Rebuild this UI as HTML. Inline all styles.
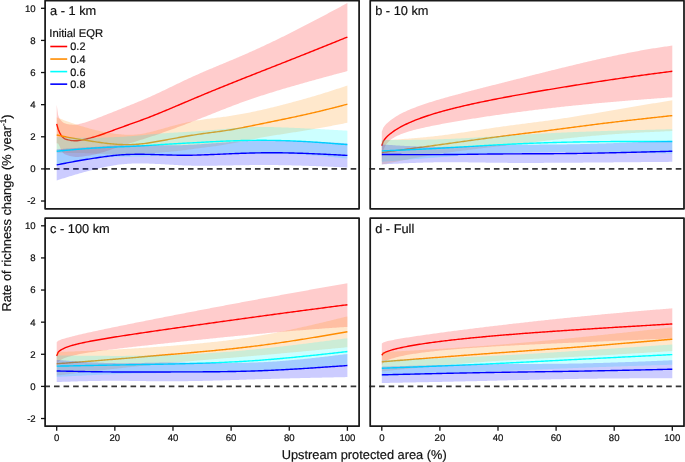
<!DOCTYPE html><html><head><meta charset="utf-8"><style>html,body{margin:0;padding:0;background:#fff;}svg{display:block;}</style></head><body>
<svg width="685" height="462" viewBox="0 0 685 462" style="will-change:transform" text-rendering="geometricPrecision" font-family='"Liberation Sans", sans-serif'><style>text{stroke:#111;stroke-width:0.2;}</style>
<rect width="685" height="462" fill="#fff"/>
<line x1="44.40" y1="168.90" x2="359.10" y2="168.90" stroke="#363636" stroke-width="1.75" stroke-dasharray="5.6 3.97"/>
<path d="M56.70,104.66 L58.15,115.08 L59.61,118.76 L61.06,120.50 L62.51,121.99 L63.97,122.97 L65.42,123.55 L66.87,123.90 L68.33,124.19 L69.78,124.43 L71.23,124.62 L72.69,124.73 L74.14,124.75 L75.60,124.67 L77.05,124.48 L78.50,124.21 L79.96,123.87 L81.41,123.49 L82.86,123.07 L84.32,122.63 L85.77,122.18 L87.22,121.71 L88.68,121.23 L90.13,120.74 L91.58,120.23 L93.04,119.71 L94.49,119.17 L95.94,118.63 L97.40,118.08 L98.85,117.52 L100.31,116.96 L101.76,116.40 L103.21,115.83 L104.67,115.26 L106.12,114.69 L107.57,114.11 L109.03,113.53 L110.48,112.96 L111.93,112.38 L113.39,111.80 L114.84,111.22 L116.29,110.64 L117.75,110.06 L119.20,109.49 L120.65,108.91 L122.11,108.33 L123.56,107.76 L125.01,107.18 L126.47,106.60 L127.92,106.01 L129.38,105.43 L130.83,104.84 L132.28,104.26 L133.74,103.66 L135.19,103.07 L136.64,102.47 L138.10,101.87 L139.55,101.26 L141.00,100.65 L142.46,100.04 L143.91,99.42 L145.36,98.79 L146.82,98.16 L148.27,97.52 L149.72,96.88 L151.18,96.22 L152.63,95.57 L154.08,94.90 L155.54,94.23 L156.99,93.56 L158.44,92.88 L159.90,92.20 L161.35,91.51 L162.81,90.82 L164.26,90.13 L165.71,89.43 L167.17,88.73 L168.62,88.03 L170.07,87.33 L171.53,86.63 L172.98,85.93 L174.43,85.23 L175.89,84.53 L177.34,83.83 L178.79,83.13 L180.25,82.44 L181.70,81.75 L183.15,81.06 L184.61,80.37 L186.06,79.68 L187.51,79.00 L188.97,78.33 L190.42,77.66 L191.88,76.99 L193.33,76.33 L194.78,75.68 L196.24,75.03 L197.69,74.38 L199.14,73.74 L200.60,73.10 L202.05,72.47 L203.50,71.84 L204.96,71.21 L206.41,70.59 L207.86,69.97 L209.32,69.36 L210.77,68.74 L212.22,68.13 L213.68,67.52 L215.13,66.91 L216.58,66.30 L218.04,65.70 L219.49,65.09 L220.95,64.49 L222.40,63.88 L223.85,63.28 L225.31,62.67 L226.76,62.07 L228.21,61.46 L229.67,60.85 L231.12,60.24 L232.57,59.63 L234.03,59.02 L235.48,58.41 L236.93,57.79 L238.39,57.17 L239.84,56.55 L241.29,55.92 L242.75,55.29 L244.20,54.66 L245.66,54.02 L247.11,53.38 L248.56,52.74 L250.02,52.09 L251.47,51.44 L252.92,50.79 L254.38,50.14 L255.83,49.48 L257.28,48.82 L258.74,48.15 L260.19,47.48 L261.64,46.81 L263.10,46.14 L264.55,45.46 L266.00,44.78 L267.46,44.10 L268.91,43.41 L270.36,42.72 L271.82,42.03 L273.27,41.34 L274.73,40.64 L276.18,39.94 L277.63,39.23 L279.09,38.53 L280.54,37.82 L281.99,37.11 L283.45,36.39 L284.90,35.68 L286.35,34.96 L287.81,34.23 L289.26,33.51 L290.71,32.78 L292.17,32.05 L293.62,31.31 L295.07,30.58 L296.53,29.84 L297.98,29.10 L299.43,28.36 L300.89,27.61 L302.34,26.86 L303.80,26.11 L305.25,25.36 L306.70,24.61 L308.16,23.85 L309.61,23.10 L311.06,22.34 L312.52,21.58 L313.97,20.82 L315.42,20.05 L316.88,19.29 L318.33,18.52 L319.78,17.75 L321.24,16.98 L322.69,16.21 L324.14,15.44 L325.60,14.67 L327.05,13.90 L328.50,13.12 L329.96,12.35 L331.41,11.57 L332.87,10.79 L334.32,10.02 L335.77,9.24 L337.23,8.46 L338.68,7.68 L340.13,6.90 L341.59,6.12 L343.04,5.34 L344.49,4.56 L345.95,3.78 L347.40,3.00 L347.40,71.09 L345.95,71.49 L344.49,71.88 L343.04,72.27 L341.59,72.66 L340.13,73.05 L338.68,73.44 L337.23,73.83 L335.77,74.22 L334.32,74.61 L332.87,75.01 L331.41,75.40 L329.96,75.79 L328.50,76.19 L327.05,76.58 L325.60,76.98 L324.14,77.37 L322.69,77.77 L321.24,78.17 L319.78,78.56 L318.33,78.96 L316.88,79.36 L315.42,79.76 L313.97,80.16 L312.52,80.56 L311.06,80.97 L309.61,81.37 L308.16,81.78 L306.70,82.18 L305.25,82.59 L303.80,83.00 L302.34,83.41 L300.89,83.82 L299.43,84.23 L297.98,84.65 L296.53,85.06 L295.07,85.48 L293.62,85.90 L292.17,86.32 L290.71,86.74 L289.26,87.16 L287.81,87.59 L286.35,88.01 L284.90,88.44 L283.45,88.87 L281.99,89.30 L280.54,89.74 L279.09,90.18 L277.63,90.61 L276.18,91.06 L274.73,91.50 L273.27,91.95 L271.82,92.39 L270.36,92.85 L268.91,93.30 L267.46,93.76 L266.00,94.22 L264.55,94.68 L263.10,95.15 L261.64,95.62 L260.19,96.09 L258.74,96.57 L257.28,97.05 L255.83,97.53 L254.38,98.02 L252.92,98.51 L251.47,99.01 L250.02,99.51 L248.56,100.01 L247.11,100.52 L245.66,101.03 L244.20,101.54 L242.75,102.07 L241.29,102.59 L239.84,103.12 L238.39,103.65 L236.93,104.19 L235.48,104.74 L234.03,105.28 L232.57,105.83 L231.12,106.39 L229.67,106.95 L228.21,107.51 L226.76,108.07 L225.31,108.64 L223.85,109.21 L222.40,109.78 L220.95,110.35 L219.49,110.93 L218.04,111.50 L216.58,112.08 L215.13,112.66 L213.68,113.24 L212.22,113.82 L210.77,114.40 L209.32,114.98 L207.86,115.56 L206.41,116.14 L204.96,116.72 L203.50,117.30 L202.05,117.87 L200.60,118.45 L199.14,119.02 L197.69,119.60 L196.24,120.17 L194.78,120.73 L193.33,121.30 L191.88,121.86 L190.42,122.42 L188.97,122.98 L187.51,123.54 L186.06,124.09 L184.61,124.64 L183.15,125.19 L181.70,125.73 L180.25,126.28 L178.79,126.82 L177.34,127.36 L175.89,127.89 L174.43,128.43 L172.98,128.96 L171.53,129.49 L170.07,130.02 L168.62,130.54 L167.17,131.06 L165.71,131.58 L164.26,132.10 L162.81,132.61 L161.35,133.13 L159.90,133.63 L158.44,134.14 L156.99,134.64 L155.54,135.14 L154.08,135.63 L152.63,136.12 L151.18,136.60 L149.72,137.08 L148.27,137.56 L146.82,138.03 L145.36,138.49 L143.91,138.96 L142.46,139.41 L141.00,139.87 L139.55,140.33 L138.10,140.78 L136.64,141.23 L135.19,141.69 L133.74,142.14 L132.28,142.59 L130.83,143.04 L129.38,143.50 L127.92,143.95 L126.47,144.41 L125.01,144.87 L123.56,145.33 L122.11,145.80 L120.65,146.27 L119.20,146.75 L117.75,147.23 L116.29,147.71 L114.84,148.21 L113.39,148.70 L111.93,149.21 L110.48,149.71 L109.03,150.22 L107.57,150.72 L106.12,151.21 L104.67,151.69 L103.21,152.15 L101.76,152.60 L100.31,153.03 L98.85,153.43 L97.40,153.81 L95.94,154.17 L94.49,154.50 L93.04,154.82 L91.58,155.11 L90.13,155.38 L88.68,155.63 L87.22,155.86 L85.77,156.08 L84.32,156.28 L82.86,156.47 L81.41,156.65 L79.96,156.80 L78.50,156.91 L77.05,156.95 L75.60,156.92 L74.14,156.79 L72.69,156.56 L71.23,156.26 L69.78,155.89 L68.33,155.49 L66.87,155.06 L65.42,154.56 L63.97,153.70 L62.51,152.15 L61.06,149.66 L59.61,146.34 L58.15,143.39 L56.70,143.20 Z" fill="rgb(255,0,0)" fill-opacity="0.2" stroke="none"/>
<path d="M56.70,123.93 L58.15,129.23 L59.61,132.55 L61.06,135.08 L62.51,137.07 L63.97,138.34 L65.42,139.05 L66.87,139.48 L68.33,139.84 L69.78,140.16 L71.23,140.44 L72.69,140.65 L74.14,140.77 L75.60,140.79 L77.05,140.72 L78.50,140.56 L79.96,140.34 L81.41,140.07 L82.86,139.77 L84.32,139.46 L85.77,139.13 L87.22,138.79 L88.68,138.43 L90.13,138.06 L91.58,137.67 L93.04,137.26 L94.49,136.84 L95.94,136.40 L97.40,135.95 L98.85,135.48 L100.31,134.99 L101.76,134.50 L103.21,133.99 L104.67,133.47 L106.12,132.95 L107.57,132.41 L109.03,131.88 L110.48,131.33 L111.93,130.79 L113.39,130.25 L114.84,129.71 L116.29,129.18 L117.75,128.65 L119.20,128.12 L120.65,127.59 L122.11,127.07 L123.56,126.54 L125.01,126.02 L126.47,125.50 L127.92,124.98 L129.38,124.46 L130.83,123.94 L132.28,123.42 L133.74,122.90 L135.19,122.38 L136.64,121.85 L138.10,121.32 L139.55,120.79 L141.00,120.26 L142.46,119.73 L143.91,119.19 L145.36,118.64 L146.82,118.09 L148.27,117.54 L149.72,116.98 L151.18,116.41 L152.63,115.84 L154.08,115.27 L155.54,114.69 L156.99,114.10 L158.44,113.51 L159.90,112.92 L161.35,112.32 L162.81,111.72 L164.26,111.11 L165.71,110.51 L167.17,109.90 L168.62,109.29 L170.07,108.68 L171.53,108.06 L172.98,107.45 L174.43,106.83 L175.89,106.21 L177.34,105.59 L178.79,104.98 L180.25,104.36 L181.70,103.74 L183.15,103.12 L184.61,102.50 L186.06,101.89 L187.51,101.27 L188.97,100.65 L190.42,100.04 L191.88,99.43 L193.33,98.82 L194.78,98.21 L196.24,97.60 L197.69,96.99 L199.14,96.38 L200.60,95.78 L202.05,95.17 L203.50,94.57 L204.96,93.97 L206.41,93.37 L207.86,92.77 L209.32,92.17 L210.77,91.57 L212.22,90.97 L213.68,90.38 L215.13,89.78 L216.58,89.19 L218.04,88.60 L219.49,88.01 L220.95,87.42 L222.40,86.83 L223.85,86.24 L225.31,85.65 L226.76,85.07 L228.21,84.48 L229.67,83.90 L231.12,83.32 L232.57,82.73 L234.03,82.15 L235.48,81.57 L236.93,80.99 L238.39,80.41 L239.84,79.83 L241.29,79.25 L242.75,78.68 L244.20,78.10 L245.66,77.52 L247.11,76.95 L248.56,76.37 L250.02,75.80 L251.47,75.23 L252.92,74.65 L254.38,74.08 L255.83,73.51 L257.28,72.93 L258.74,72.36 L260.19,71.79 L261.64,71.22 L263.10,70.64 L264.55,70.07 L266.00,69.50 L267.46,68.93 L268.91,68.36 L270.36,67.78 L271.82,67.21 L273.27,66.64 L274.73,66.07 L276.18,65.50 L277.63,64.92 L279.09,64.35 L280.54,63.78 L281.99,63.21 L283.45,62.63 L284.90,62.06 L286.35,61.48 L287.81,60.91 L289.26,60.33 L290.71,59.76 L292.17,59.18 L293.62,58.61 L295.07,58.03 L296.53,57.45 L297.98,56.87 L299.43,56.29 L300.89,55.72 L302.34,55.14 L303.80,54.56 L305.25,53.98 L306.70,53.40 L308.16,52.82 L309.61,52.23 L311.06,51.65 L312.52,51.07 L313.97,50.49 L315.42,49.91 L316.88,49.32 L318.33,48.74 L319.78,48.16 L321.24,47.58 L322.69,46.99 L324.14,46.41 L325.60,45.82 L327.05,45.24 L328.50,44.65 L329.96,44.07 L331.41,43.49 L332.87,42.90 L334.32,42.32 L335.77,41.73 L337.23,41.15 L338.68,40.56 L340.13,39.97 L341.59,39.39 L343.04,38.80 L344.49,38.22 L345.95,37.63 L347.40,37.05" fill="none" stroke="#ff0000" stroke-width="1.4" stroke-linejoin="round"/>
<path d="M56.70,117.35 L58.15,117.92 L59.61,118.49 L61.06,119.05 L62.51,119.62 L63.97,120.18 L65.42,120.73 L66.87,121.27 L68.33,121.81 L69.78,122.34 L71.23,122.86 L72.69,123.37 L74.14,123.86 L75.60,124.35 L77.05,124.82 L78.50,125.29 L79.96,125.74 L81.41,126.19 L82.86,126.62 L84.32,127.05 L85.77,127.47 L87.22,127.87 L88.68,128.27 L90.13,128.66 L91.58,129.05 L93.04,129.42 L94.49,129.78 L95.94,130.13 L97.40,130.48 L98.85,130.81 L100.31,131.13 L101.76,131.44 L103.21,131.74 L104.67,132.03 L106.12,132.30 L107.57,132.57 L109.03,132.82 L110.48,133.06 L111.93,133.29 L113.39,133.50 L114.84,133.70 L116.29,133.89 L117.75,134.07 L119.20,134.22 L120.65,134.36 L122.11,134.49 L123.56,134.59 L125.01,134.67 L126.47,134.73 L127.92,134.77 L129.38,134.78 L130.83,134.77 L132.28,134.73 L133.74,134.66 L135.19,134.57 L136.64,134.45 L138.10,134.30 L139.55,134.13 L141.00,133.92 L142.46,133.69 L143.91,133.43 L145.36,133.15 L146.82,132.85 L148.27,132.52 L149.72,132.18 L151.18,131.83 L152.63,131.45 L154.08,131.07 L155.54,130.68 L156.99,130.28 L158.44,129.87 L159.90,129.46 L161.35,129.05 L162.81,128.63 L164.26,128.21 L165.71,127.80 L167.17,127.39 L168.62,126.98 L170.07,126.57 L171.53,126.17 L172.98,125.78 L174.43,125.39 L175.89,125.01 L177.34,124.64 L178.79,124.28 L180.25,123.93 L181.70,123.58 L183.15,123.25 L184.61,122.92 L186.06,122.60 L187.51,122.29 L188.97,121.99 L190.42,121.69 L191.88,121.41 L193.33,121.13 L194.78,120.87 L196.24,120.61 L197.69,120.36 L199.14,120.13 L200.60,119.90 L202.05,119.68 L203.50,119.47 L204.96,119.26 L206.41,119.07 L207.86,118.87 L209.32,118.69 L210.77,118.50 L212.22,118.32 L213.68,118.14 L215.13,117.97 L216.58,117.79 L218.04,117.61 L219.49,117.43 L220.95,117.24 L222.40,117.06 L223.85,116.86 L225.31,116.66 L226.76,116.46 L228.21,116.25 L229.67,116.03 L231.12,115.81 L232.57,115.58 L234.03,115.35 L235.48,115.11 L236.93,114.86 L238.39,114.61 L239.84,114.35 L241.29,114.09 L242.75,113.82 L244.20,113.55 L245.66,113.27 L247.11,112.98 L248.56,112.70 L250.02,112.40 L251.47,112.10 L252.92,111.80 L254.38,111.49 L255.83,111.18 L257.28,110.87 L258.74,110.55 L260.19,110.22 L261.64,109.89 L263.10,109.56 L264.55,109.22 L266.00,108.88 L267.46,108.54 L268.91,108.19 L270.36,107.84 L271.82,107.49 L273.27,107.13 L274.73,106.77 L276.18,106.41 L277.63,106.04 L279.09,105.67 L280.54,105.30 L281.99,104.93 L283.45,104.56 L284.90,104.18 L286.35,103.80 L287.81,103.42 L289.26,103.04 L290.71,102.65 L292.17,102.26 L293.62,101.87 L295.07,101.48 L296.53,101.09 L297.98,100.69 L299.43,100.29 L300.89,99.89 L302.34,99.49 L303.80,99.08 L305.25,98.67 L306.70,98.26 L308.16,97.84 L309.61,97.42 L311.06,97.00 L312.52,96.58 L313.97,96.15 L315.42,95.72 L316.88,95.28 L318.33,94.84 L319.78,94.40 L321.24,93.95 L322.69,93.50 L324.14,93.05 L325.60,92.60 L327.05,92.14 L328.50,91.68 L329.96,91.22 L331.41,90.75 L332.87,90.28 L334.32,89.82 L335.77,89.35 L337.23,88.87 L338.68,88.40 L340.13,87.93 L341.59,87.45 L343.04,86.98 L344.49,86.50 L345.95,86.03 L347.40,85.55 L347.40,122.81 L345.95,123.09 L344.49,123.37 L343.04,123.66 L341.59,123.94 L340.13,124.22 L338.68,124.50 L337.23,124.78 L335.77,125.06 L334.32,125.34 L332.87,125.62 L331.41,125.89 L329.96,126.17 L328.50,126.44 L327.05,126.71 L325.60,126.98 L324.14,127.25 L322.69,127.51 L321.24,127.77 L319.78,128.03 L318.33,128.29 L316.88,128.55 L315.42,128.80 L313.97,129.05 L312.52,129.30 L311.06,129.54 L309.61,129.79 L308.16,130.03 L306.70,130.27 L305.25,130.50 L303.80,130.74 L302.34,130.98 L300.89,131.21 L299.43,131.44 L297.98,131.67 L296.53,131.90 L295.07,132.13 L293.62,132.36 L292.17,132.59 L290.71,132.82 L289.26,133.05 L287.81,133.27 L286.35,133.50 L284.90,133.73 L283.45,133.96 L281.99,134.18 L280.54,134.41 L279.09,134.64 L277.63,134.87 L276.18,135.10 L274.73,135.34 L273.27,135.57 L271.82,135.81 L270.36,136.05 L268.91,136.30 L267.46,136.55 L266.00,136.80 L264.55,137.05 L263.10,137.31 L261.64,137.58 L260.19,137.84 L258.74,138.12 L257.28,138.40 L255.83,138.68 L254.38,138.96 L252.92,139.25 L251.47,139.54 L250.02,139.84 L248.56,140.13 L247.11,140.43 L245.66,140.72 L244.20,141.02 L242.75,141.31 L241.29,141.60 L239.84,141.90 L238.39,142.19 L236.93,142.47 L235.48,142.76 L234.03,143.04 L232.57,143.31 L231.12,143.58 L229.67,143.85 L228.21,144.10 L226.76,144.36 L225.31,144.60 L223.85,144.84 L222.40,145.07 L220.95,145.29 L219.49,145.51 L218.04,145.72 L216.58,145.93 L215.13,146.13 L213.68,146.33 L212.22,146.53 L210.77,146.72 L209.32,146.91 L207.86,147.10 L206.41,147.29 L204.96,147.47 L203.50,147.66 L202.05,147.85 L200.60,148.04 L199.14,148.23 L197.69,148.42 L196.24,148.61 L194.78,148.81 L193.33,149.00 L191.88,149.19 L190.42,149.39 L188.97,149.58 L187.51,149.77 L186.06,149.95 L184.61,150.14 L183.15,150.32 L181.70,150.50 L180.25,150.68 L178.79,150.85 L177.34,151.01 L175.89,151.17 L174.43,151.32 L172.98,151.47 L171.53,151.61 L170.07,151.75 L168.62,151.88 L167.17,152.00 L165.71,152.12 L164.26,152.24 L162.81,152.35 L161.35,152.46 L159.90,152.57 L158.44,152.68 L156.99,152.79 L155.54,152.90 L154.08,153.01 L152.63,153.11 L151.18,153.22 L149.72,153.32 L148.27,153.42 L146.82,153.52 L145.36,153.62 L143.91,153.72 L142.46,153.82 L141.00,153.91 L139.55,154.00 L138.10,154.09 L136.64,154.17 L135.19,154.25 L133.74,154.33 L132.28,154.40 L130.83,154.46 L129.38,154.52 L127.92,154.56 L126.47,154.60 L125.01,154.63 L123.56,154.65 L122.11,154.66 L120.65,154.66 L119.20,154.66 L117.75,154.64 L116.29,154.62 L114.84,154.58 L113.39,154.54 L111.93,154.49 L110.48,154.43 L109.03,154.37 L107.57,154.29 L106.12,154.22 L104.67,154.14 L103.21,154.06 L101.76,153.97 L100.31,153.89 L98.85,153.80 L97.40,153.72 L95.94,153.63 L94.49,153.55 L93.04,153.47 L91.58,153.40 L90.13,153.33 L88.68,153.27 L87.22,153.21 L85.77,153.16 L84.32,153.12 L82.86,153.09 L81.41,153.06 L79.96,153.04 L78.50,153.02 L77.05,153.00 L75.60,152.99 L74.14,152.98 L72.69,152.96 L71.23,152.95 L69.78,152.93 L68.33,152.91 L66.87,152.89 L65.42,152.86 L63.97,152.83 L62.51,152.80 L61.06,152.77 L59.61,152.74 L58.15,152.71 L56.70,152.68 Z" fill="rgb(255,140,0)" fill-opacity="0.2" stroke="none"/>
<path d="M56.70,135.01 L58.15,135.31 L59.61,135.61 L61.06,135.91 L62.51,136.21 L63.97,136.50 L65.42,136.79 L66.87,137.08 L68.33,137.36 L69.78,137.64 L71.23,137.90 L72.69,138.17 L74.14,138.42 L75.60,138.67 L77.05,138.91 L78.50,139.15 L79.96,139.39 L81.41,139.62 L82.86,139.85 L84.32,140.08 L85.77,140.31 L87.22,140.54 L88.68,140.77 L90.13,141.00 L91.58,141.22 L93.04,141.45 L94.49,141.67 L95.94,141.88 L97.40,142.10 L98.85,142.31 L100.31,142.51 L101.76,142.71 L103.21,142.90 L104.67,143.08 L106.12,143.26 L107.57,143.43 L109.03,143.59 L110.48,143.75 L111.93,143.89 L113.39,144.02 L114.84,144.14 L116.29,144.25 L117.75,144.35 L119.20,144.44 L120.65,144.51 L122.11,144.57 L123.56,144.62 L125.01,144.65 L126.47,144.67 L127.92,144.67 L129.38,144.65 L130.83,144.62 L132.28,144.56 L133.74,144.50 L135.19,144.41 L136.64,144.31 L138.10,144.20 L139.55,144.06 L141.00,143.92 L142.46,143.75 L143.91,143.58 L145.36,143.39 L146.82,143.19 L148.27,142.97 L149.72,142.75 L151.18,142.52 L152.63,142.28 L154.08,142.04 L155.54,141.79 L156.99,141.53 L158.44,141.28 L159.90,141.02 L161.35,140.76 L162.81,140.49 L164.26,140.23 L165.71,139.96 L167.17,139.69 L168.62,139.43 L170.07,139.16 L171.53,138.89 L172.98,138.62 L174.43,138.36 L175.89,138.09 L177.34,137.83 L178.79,137.56 L180.25,137.30 L181.70,137.04 L183.15,136.78 L184.61,136.53 L186.06,136.28 L187.51,136.03 L188.97,135.78 L190.42,135.54 L191.88,135.30 L193.33,135.07 L194.78,134.84 L196.24,134.61 L197.69,134.39 L199.14,134.18 L200.60,133.97 L202.05,133.76 L203.50,133.56 L204.96,133.37 L206.41,133.18 L207.86,132.99 L209.32,132.80 L210.77,132.61 L212.22,132.42 L213.68,132.24 L215.13,132.05 L216.58,131.86 L218.04,131.67 L219.49,131.47 L220.95,131.27 L222.40,131.06 L223.85,130.85 L225.31,130.63 L226.76,130.41 L228.21,130.18 L229.67,129.94 L231.12,129.70 L232.57,129.45 L234.03,129.19 L235.48,128.93 L236.93,128.67 L238.39,128.40 L239.84,128.12 L241.29,127.85 L242.75,127.57 L244.20,127.28 L245.66,126.99 L247.11,126.70 L248.56,126.41 L250.02,126.12 L251.47,125.82 L252.92,125.53 L254.38,125.23 L255.83,124.93 L257.28,124.63 L258.74,124.33 L260.19,124.03 L261.64,123.73 L263.10,123.44 L264.55,123.14 L266.00,122.84 L267.46,122.54 L268.91,122.25 L270.36,121.95 L271.82,121.65 L273.27,121.35 L274.73,121.05 L276.18,120.76 L277.63,120.46 L279.09,120.16 L280.54,119.86 L281.99,119.56 L283.45,119.26 L284.90,118.95 L286.35,118.65 L287.81,118.35 L289.26,118.04 L290.71,117.74 L292.17,117.43 L293.62,117.12 L295.07,116.81 L296.53,116.50 L297.98,116.18 L299.43,115.87 L300.89,115.55 L302.34,115.23 L303.80,114.91 L305.25,114.59 L306.70,114.26 L308.16,113.93 L309.61,113.60 L311.06,113.27 L312.52,112.94 L313.97,112.60 L315.42,112.26 L316.88,111.91 L318.33,111.57 L319.78,111.22 L321.24,110.86 L322.69,110.51 L324.14,110.15 L325.60,109.79 L327.05,109.42 L328.50,109.06 L329.96,108.69 L331.41,108.32 L332.87,107.95 L334.32,107.58 L335.77,107.20 L337.23,106.83 L338.68,106.45 L340.13,106.07 L341.59,105.70 L343.04,105.32 L344.49,104.94 L345.95,104.56 L347.40,104.18" fill="none" stroke="#ff8c00" stroke-width="1.4" stroke-linejoin="round"/>
<path d="M56.70,137.10 L58.15,137.15 L59.61,137.20 L61.06,137.25 L62.51,137.30 L63.97,137.35 L65.42,137.39 L66.87,137.44 L68.33,137.48 L69.78,137.52 L71.23,137.56 L72.69,137.60 L74.14,137.63 L75.60,137.67 L77.05,137.70 L78.50,137.72 L79.96,137.75 L81.41,137.77 L82.86,137.78 L84.32,137.80 L85.77,137.80 L87.22,137.81 L88.68,137.81 L90.13,137.80 L91.58,137.79 L93.04,137.78 L94.49,137.76 L95.94,137.73 L97.40,137.70 L98.85,137.67 L100.31,137.63 L101.76,137.59 L103.21,137.55 L104.67,137.51 L106.12,137.46 L107.57,137.41 L109.03,137.35 L110.48,137.29 L111.93,137.23 L113.39,137.17 L114.84,137.10 L116.29,137.03 L117.75,136.96 L119.20,136.88 L120.65,136.80 L122.11,136.71 L123.56,136.63 L125.01,136.54 L126.47,136.44 L127.92,136.34 L129.38,136.24 L130.83,136.14 L132.28,136.03 L133.74,135.92 L135.19,135.80 L136.64,135.68 L138.10,135.56 L139.55,135.44 L141.00,135.31 L142.46,135.17 L143.91,135.04 L145.36,134.90 L146.82,134.76 L148.27,134.62 L149.72,134.48 L151.18,134.35 L152.63,134.21 L154.08,134.07 L155.54,133.94 L156.99,133.81 L158.44,133.69 L159.90,133.57 L161.35,133.45 L162.81,133.34 L164.26,133.24 L165.71,133.14 L167.17,133.04 L168.62,132.95 L170.07,132.86 L171.53,132.77 L172.98,132.68 L174.43,132.60 L175.89,132.52 L177.34,132.44 L178.79,132.36 L180.25,132.28 L181.70,132.20 L183.15,132.12 L184.61,132.04 L186.06,131.96 L187.51,131.87 L188.97,131.79 L190.42,131.70 L191.88,131.61 L193.33,131.52 L194.78,131.42 L196.24,131.32 L197.69,131.22 L199.14,131.11 L200.60,131.01 L202.05,130.89 L203.50,130.78 L204.96,130.66 L206.41,130.54 L207.86,130.42 L209.32,130.30 L210.77,130.18 L212.22,130.05 L213.68,129.93 L215.13,129.80 L216.58,129.67 L218.04,129.54 L219.49,129.41 L220.95,129.28 L222.40,129.15 L223.85,129.02 L225.31,128.88 L226.76,128.75 L228.21,128.62 L229.67,128.50 L231.12,128.37 L232.57,128.24 L234.03,128.12 L235.48,128.00 L236.93,127.89 L238.39,127.78 L239.84,127.67 L241.29,127.57 L242.75,127.47 L244.20,127.38 L245.66,127.30 L247.11,127.22 L248.56,127.15 L250.02,127.09 L251.47,127.04 L252.92,127.00 L254.38,126.96 L255.83,126.93 L257.28,126.91 L258.74,126.90 L260.19,126.89 L261.64,126.89 L263.10,126.90 L264.55,126.91 L266.00,126.93 L267.46,126.95 L268.91,126.98 L270.36,127.01 L271.82,127.05 L273.27,127.09 L274.73,127.13 L276.18,127.18 L277.63,127.22 L279.09,127.28 L280.54,127.33 L281.99,127.38 L283.45,127.44 L284.90,127.50 L286.35,127.56 L287.81,127.61 L289.26,127.67 L290.71,127.73 L292.17,127.79 L293.62,127.85 L295.07,127.92 L296.53,127.98 L297.98,128.04 L299.43,128.11 L300.89,128.17 L302.34,128.24 L303.80,128.31 L305.25,128.38 L306.70,128.45 L308.16,128.52 L309.61,128.59 L311.06,128.67 L312.52,128.74 L313.97,128.81 L315.42,128.89 L316.88,128.97 L318.33,129.04 L319.78,129.12 L321.24,129.20 L322.69,129.28 L324.14,129.36 L325.60,129.44 L327.05,129.52 L328.50,129.60 L329.96,129.68 L331.41,129.76 L332.87,129.84 L334.32,129.93 L335.77,130.01 L337.23,130.09 L338.68,130.17 L340.13,130.26 L341.59,130.34 L343.04,130.43 L344.49,130.51 L345.95,130.59 L347.40,130.68 L347.40,158.62 L345.95,158.47 L344.49,158.32 L343.04,158.16 L341.59,158.01 L340.13,157.86 L338.68,157.71 L337.23,157.56 L335.77,157.41 L334.32,157.26 L332.87,157.11 L331.41,156.97 L329.96,156.82 L328.50,156.68 L327.05,156.54 L325.60,156.40 L324.14,156.26 L322.69,156.13 L321.24,156.00 L319.78,155.87 L318.33,155.74 L316.88,155.62 L315.42,155.49 L313.97,155.38 L312.52,155.26 L311.06,155.15 L309.61,155.04 L308.16,154.93 L306.70,154.83 L305.25,154.74 L303.80,154.64 L302.34,154.55 L300.89,154.47 L299.43,154.39 L297.98,154.31 L296.53,154.24 L295.07,154.17 L293.62,154.11 L292.17,154.05 L290.71,154.00 L289.26,153.95 L287.81,153.91 L286.35,153.87 L284.90,153.84 L283.45,153.81 L281.99,153.78 L280.54,153.76 L279.09,153.75 L277.63,153.74 L276.18,153.73 L274.73,153.72 L273.27,153.72 L271.82,153.72 L270.36,153.72 L268.91,153.72 L267.46,153.72 L266.00,153.72 L264.55,153.73 L263.10,153.73 L261.64,153.73 L260.19,153.74 L258.74,153.74 L257.28,153.74 L255.83,153.73 L254.38,153.73 L252.92,153.72 L251.47,153.71 L250.02,153.70 L248.56,153.68 L247.11,153.66 L245.66,153.64 L244.20,153.62 L242.75,153.59 L241.29,153.56 L239.84,153.54 L238.39,153.51 L236.93,153.48 L235.48,153.46 L234.03,153.43 L232.57,153.41 L231.12,153.39 L229.67,153.37 L228.21,153.35 L226.76,153.33 L225.31,153.32 L223.85,153.32 L222.40,153.31 L220.95,153.32 L219.49,153.32 L218.04,153.33 L216.58,153.34 L215.13,153.36 L213.68,153.38 L212.22,153.40 L210.77,153.43 L209.32,153.46 L207.86,153.49 L206.41,153.53 L204.96,153.57 L203.50,153.61 L202.05,153.66 L200.60,153.70 L199.14,153.76 L197.69,153.81 L196.24,153.87 L194.78,153.93 L193.33,153.99 L191.88,154.05 L190.42,154.12 L188.97,154.19 L187.51,154.26 L186.06,154.33 L184.61,154.41 L183.15,154.48 L181.70,154.56 L180.25,154.64 L178.79,154.72 L177.34,154.80 L175.89,154.88 L174.43,154.96 L172.98,155.04 L171.53,155.12 L170.07,155.20 L168.62,155.27 L167.17,155.35 L165.71,155.43 L164.26,155.51 L162.81,155.58 L161.35,155.66 L159.90,155.73 L158.44,155.80 L156.99,155.87 L155.54,155.94 L154.08,156.00 L152.63,156.07 L151.18,156.13 L149.72,156.18 L148.27,156.24 L146.82,156.29 L145.36,156.34 L143.91,156.38 L142.46,156.42 L141.00,156.46 L139.55,156.50 L138.10,156.53 L136.64,156.55 L135.19,156.58 L133.74,156.60 L132.28,156.62 L130.83,156.64 L129.38,156.66 L127.92,156.68 L126.47,156.70 L125.01,156.72 L123.56,156.74 L122.11,156.77 L120.65,156.79 L119.20,156.82 L117.75,156.86 L116.29,156.90 L114.84,156.94 L113.39,156.99 L111.93,157.04 L110.48,157.10 L109.03,157.17 L107.57,157.24 L106.12,157.32 L104.67,157.41 L103.21,157.51 L101.76,157.62 L100.31,157.74 L98.85,157.86 L97.40,158.00 L95.94,158.15 L94.49,158.31 L93.04,158.49 L91.58,158.67 L90.13,158.86 L88.68,159.07 L87.22,159.28 L85.77,159.51 L84.32,159.75 L82.86,159.99 L81.41,160.24 L79.96,160.50 L78.50,160.77 L77.05,161.04 L75.60,161.32 L74.14,161.61 L72.69,161.91 L71.23,162.20 L69.78,162.51 L68.33,162.81 L66.87,163.12 L65.42,163.44 L63.97,163.76 L62.51,164.08 L61.06,164.40 L59.61,164.72 L58.15,165.04 L56.70,165.37 Z" fill="rgb(0,255,255)" fill-opacity="0.2" stroke="none"/>
<path d="M56.70,151.23 L58.15,151.10 L59.61,150.96 L61.06,150.82 L62.51,150.69 L63.97,150.55 L65.42,150.42 L66.87,150.28 L68.33,150.15 L69.78,150.01 L71.23,149.88 L72.69,149.75 L74.14,149.62 L75.60,149.50 L77.05,149.37 L78.50,149.25 L79.96,149.12 L81.41,149.00 L82.86,148.89 L84.32,148.77 L85.77,148.66 L87.22,148.55 L88.68,148.44 L90.13,148.33 L91.58,148.23 L93.04,148.13 L94.49,148.04 L95.94,147.94 L97.40,147.85 L98.85,147.77 L100.31,147.68 L101.76,147.61 L103.21,147.53 L104.67,147.46 L106.12,147.39 L107.57,147.32 L109.03,147.26 L110.48,147.20 L111.93,147.14 L113.39,147.08 L114.84,147.02 L116.29,146.96 L117.75,146.91 L119.20,146.85 L120.65,146.80 L122.11,146.74 L123.56,146.69 L125.01,146.63 L126.47,146.57 L127.92,146.51 L129.38,146.45 L130.83,146.39 L132.28,146.33 L133.74,146.26 L135.19,146.19 L136.64,146.12 L138.10,146.04 L139.55,145.97 L141.00,145.88 L142.46,145.80 L143.91,145.71 L145.36,145.62 L146.82,145.53 L148.27,145.43 L149.72,145.33 L151.18,145.24 L152.63,145.14 L154.08,145.04 L155.54,144.94 L156.99,144.84 L158.44,144.74 L159.90,144.65 L161.35,144.56 L162.81,144.46 L164.26,144.37 L165.71,144.28 L167.17,144.20 L168.62,144.11 L170.07,144.03 L171.53,143.94 L172.98,143.86 L174.43,143.78 L175.89,143.70 L177.34,143.62 L178.79,143.54 L180.25,143.46 L181.70,143.38 L183.15,143.30 L184.61,143.22 L186.06,143.14 L187.51,143.07 L188.97,142.99 L190.42,142.91 L191.88,142.83 L193.33,142.75 L194.78,142.67 L196.24,142.60 L197.69,142.52 L199.14,142.44 L200.60,142.35 L202.05,142.27 L203.50,142.20 L204.96,142.12 L206.41,142.04 L207.86,141.96 L209.32,141.88 L210.77,141.80 L212.22,141.73 L213.68,141.65 L215.13,141.58 L216.58,141.51 L218.04,141.43 L219.49,141.36 L220.95,141.30 L222.40,141.23 L223.85,141.17 L225.31,141.10 L226.76,141.04 L228.21,140.99 L229.67,140.93 L231.12,140.88 L232.57,140.83 L234.03,140.78 L235.48,140.73 L236.93,140.69 L238.39,140.64 L239.84,140.60 L241.29,140.57 L242.75,140.53 L244.20,140.50 L245.66,140.47 L247.11,140.44 L248.56,140.42 L250.02,140.40 L251.47,140.38 L252.92,140.36 L254.38,140.34 L255.83,140.33 L257.28,140.32 L258.74,140.32 L260.19,140.31 L261.64,140.31 L263.10,140.31 L264.55,140.32 L266.00,140.32 L267.46,140.33 L268.91,140.35 L270.36,140.36 L271.82,140.38 L273.27,140.40 L274.73,140.42 L276.18,140.45 L277.63,140.48 L279.09,140.51 L280.54,140.55 L281.99,140.58 L283.45,140.62 L284.90,140.67 L286.35,140.71 L287.81,140.76 L289.26,140.81 L290.71,140.87 L292.17,140.92 L293.62,140.98 L295.07,141.04 L296.53,141.11 L297.98,141.18 L299.43,141.25 L300.89,141.32 L302.34,141.40 L303.80,141.48 L305.25,141.56 L306.70,141.64 L308.16,141.73 L309.61,141.82 L311.06,141.91 L312.52,142.00 L313.97,142.09 L315.42,142.19 L316.88,142.29 L318.33,142.39 L319.78,142.49 L321.24,142.60 L322.69,142.70 L324.14,142.81 L325.60,142.92 L327.05,143.03 L328.50,143.14 L329.96,143.25 L331.41,143.36 L332.87,143.48 L334.32,143.59 L335.77,143.71 L337.23,143.82 L338.68,143.94 L340.13,144.06 L341.59,144.18 L343.04,144.29 L344.49,144.41 L345.95,144.53 L347.40,144.65" fill="none" stroke="#00ffff" stroke-width="1.4" stroke-linejoin="round"/>
<path d="M56.70,149.31 L58.15,149.20 L59.61,149.10 L61.06,149.00 L62.51,148.90 L63.97,148.80 L65.42,148.70 L66.87,148.60 L68.33,148.50 L69.78,148.40 L71.23,148.30 L72.69,148.21 L74.14,148.11 L75.60,148.02 L77.05,147.93 L78.50,147.84 L79.96,147.75 L81.41,147.66 L82.86,147.58 L84.32,147.49 L85.77,147.41 L87.22,147.32 L88.68,147.24 L90.13,147.16 L91.58,147.07 L93.04,146.99 L94.49,146.90 L95.94,146.81 L97.40,146.72 L98.85,146.63 L100.31,146.54 L101.76,146.44 L103.21,146.35 L104.67,146.25 L106.12,146.15 L107.57,146.06 L109.03,145.96 L110.48,145.87 L111.93,145.78 L113.39,145.70 L114.84,145.62 L116.29,145.55 L117.75,145.49 L119.20,145.43 L120.65,145.38 L122.11,145.33 L123.56,145.29 L125.01,145.25 L126.47,145.22 L127.92,145.19 L129.38,145.17 L130.83,145.15 L132.28,145.14 L133.74,145.13 L135.19,145.13 L136.64,145.12 L138.10,145.12 L139.55,145.13 L141.00,145.14 L142.46,145.14 L143.91,145.16 L145.36,145.17 L146.82,145.18 L148.27,145.20 L149.72,145.22 L151.18,145.23 L152.63,145.25 L154.08,145.27 L155.54,145.29 L156.99,145.30 L158.44,145.32 L159.90,145.33 L161.35,145.34 L162.81,145.35 L164.26,145.36 L165.71,145.36 L167.17,145.37 L168.62,145.36 L170.07,145.36 L171.53,145.35 L172.98,145.34 L174.43,145.32 L175.89,145.30 L177.34,145.27 L178.79,145.24 L180.25,145.21 L181.70,145.16 L183.15,145.12 L184.61,145.06 L186.06,145.00 L187.51,144.94 L188.97,144.87 L190.42,144.80 L191.88,144.72 L193.33,144.63 L194.78,144.55 L196.24,144.46 L197.69,144.36 L199.14,144.27 L200.60,144.17 L202.05,144.07 L203.50,143.97 L204.96,143.87 L206.41,143.76 L207.86,143.66 L209.32,143.55 L210.77,143.45 L212.22,143.34 L213.68,143.24 L215.13,143.13 L216.58,143.02 L218.04,142.92 L219.49,142.82 L220.95,142.71 L222.40,142.61 L223.85,142.51 L225.31,142.41 L226.76,142.31 L228.21,142.21 L229.67,142.11 L231.12,142.02 L232.57,141.93 L234.03,141.83 L235.48,141.74 L236.93,141.66 L238.39,141.57 L239.84,141.49 L241.29,141.41 L242.75,141.33 L244.20,141.25 L245.66,141.18 L247.11,141.11 L248.56,141.05 L250.02,140.98 L251.47,140.92 L252.92,140.86 L254.38,140.81 L255.83,140.76 L257.28,140.71 L258.74,140.67 L260.19,140.63 L261.64,140.59 L263.10,140.56 L264.55,140.53 L266.00,140.50 L267.46,140.48 L268.91,140.46 L270.36,140.45 L271.82,140.44 L273.27,140.43 L274.73,140.43 L276.18,140.43 L277.63,140.43 L279.09,140.44 L280.54,140.45 L281.99,140.46 L283.45,140.48 L284.90,140.50 L286.35,140.52 L287.81,140.55 L289.26,140.58 L290.71,140.61 L292.17,140.65 L293.62,140.69 L295.07,140.73 L296.53,140.77 L297.98,140.82 L299.43,140.87 L300.89,140.92 L302.34,140.97 L303.80,141.03 L305.25,141.09 L306.70,141.15 L308.16,141.21 L309.61,141.27 L311.06,141.34 L312.52,141.41 L313.97,141.48 L315.42,141.55 L316.88,141.62 L318.33,141.69 L319.78,141.77 L321.24,141.85 L322.69,141.92 L324.14,142.00 L325.60,142.08 L327.05,142.16 L328.50,142.25 L329.96,142.33 L331.41,142.41 L332.87,142.50 L334.32,142.58 L335.77,142.67 L337.23,142.75 L338.68,142.84 L340.13,142.93 L341.59,143.01 L343.04,143.10 L344.49,143.19 L345.95,143.28 L347.40,143.36 L347.40,167.45 L345.95,167.39 L344.49,167.33 L343.04,167.26 L341.59,167.20 L340.13,167.14 L338.68,167.08 L337.23,167.01 L335.77,166.95 L334.32,166.89 L332.87,166.83 L331.41,166.77 L329.96,166.70 L328.50,166.64 L327.05,166.58 L325.60,166.52 L324.14,166.47 L322.69,166.41 L321.24,166.35 L319.78,166.29 L318.33,166.23 L316.88,166.18 L315.42,166.12 L313.97,166.07 L312.52,166.02 L311.06,165.96 L309.61,165.91 L308.16,165.86 L306.70,165.81 L305.25,165.76 L303.80,165.71 L302.34,165.67 L300.89,165.62 L299.43,165.58 L297.98,165.54 L296.53,165.50 L295.07,165.46 L293.62,165.42 L292.17,165.38 L290.71,165.35 L289.26,165.31 L287.81,165.28 L286.35,165.25 L284.90,165.23 L283.45,165.20 L281.99,165.18 L280.54,165.15 L279.09,165.13 L277.63,165.12 L276.18,165.10 L274.73,165.09 L273.27,165.07 L271.82,165.06 L270.36,165.05 L268.91,165.05 L267.46,165.04 L266.00,165.04 L264.55,165.04 L263.10,165.04 L261.64,165.04 L260.19,165.04 L258.74,165.05 L257.28,165.06 L255.83,165.07 L254.38,165.08 L252.92,165.09 L251.47,165.11 L250.02,165.12 L248.56,165.14 L247.11,165.16 L245.66,165.18 L244.20,165.20 L242.75,165.22 L241.29,165.24 L239.84,165.26 L238.39,165.28 L236.93,165.31 L235.48,165.33 L234.03,165.36 L232.57,165.38 L231.12,165.41 L229.67,165.43 L228.21,165.46 L226.76,165.48 L225.31,165.50 L223.85,165.53 L222.40,165.55 L220.95,165.57 L219.49,165.59 L218.04,165.61 L216.58,165.63 L215.13,165.65 L213.68,165.67 L212.22,165.68 L210.77,165.70 L209.32,165.71 L207.86,165.72 L206.41,165.73 L204.96,165.73 L203.50,165.73 L202.05,165.73 L200.60,165.73 L199.14,165.72 L197.69,165.71 L196.24,165.70 L194.78,165.68 L193.33,165.66 L191.88,165.63 L190.42,165.60 L188.97,165.57 L187.51,165.53 L186.06,165.48 L184.61,165.43 L183.15,165.38 L181.70,165.32 L180.25,165.25 L178.79,165.18 L177.34,165.11 L175.89,165.04 L174.43,164.96 L172.98,164.87 L171.53,164.79 L170.07,164.71 L168.62,164.62 L167.17,164.53 L165.71,164.45 L164.26,164.36 L162.81,164.28 L161.35,164.19 L159.90,164.11 L158.44,164.03 L156.99,163.95 L155.54,163.88 L154.08,163.81 L152.63,163.74 L151.18,163.68 L149.72,163.63 L148.27,163.58 L146.82,163.54 L145.36,163.50 L143.91,163.47 L142.46,163.45 L141.00,163.44 L139.55,163.44 L138.10,163.45 L136.64,163.47 L135.19,163.50 L133.74,163.53 L132.28,163.59 L130.83,163.65 L129.38,163.72 L127.92,163.81 L126.47,163.91 L125.01,164.02 L123.56,164.14 L122.11,164.28 L120.65,164.44 L119.20,164.60 L117.75,164.79 L116.29,164.98 L114.84,165.20 L113.39,165.42 L111.93,165.67 L110.48,165.93 L109.03,166.20 L107.57,166.48 L106.12,166.78 L104.67,167.08 L103.21,167.40 L101.76,167.72 L100.31,168.05 L98.85,168.39 L97.40,168.73 L95.94,169.08 L94.49,169.43 L93.04,169.79 L91.58,170.16 L90.13,170.53 L88.68,170.91 L87.22,171.29 L85.77,171.68 L84.32,172.07 L82.86,172.47 L81.41,172.88 L79.96,173.29 L78.50,173.71 L77.05,174.13 L75.60,174.56 L74.14,175.00 L72.69,175.43 L71.23,175.88 L69.78,176.33 L68.33,176.78 L66.87,177.23 L65.42,177.69 L63.97,178.15 L62.51,178.61 L61.06,179.07 L59.61,179.53 L58.15,180.00 L56.70,180.46 Z" fill="rgb(0,0,255)" fill-opacity="0.2" stroke="none"/>
<path d="M56.70,164.89 L58.15,164.60 L59.61,164.32 L61.06,164.03 L62.51,163.75 L63.97,163.47 L65.42,163.19 L66.87,162.91 L68.33,162.64 L69.78,162.36 L71.23,162.09 L72.69,161.82 L74.14,161.55 L75.60,161.29 L77.05,161.03 L78.50,160.77 L79.96,160.52 L81.41,160.27 L82.86,160.03 L84.32,159.78 L85.77,159.54 L87.22,159.31 L88.68,159.07 L90.13,158.84 L91.58,158.61 L93.04,158.39 L94.49,158.17 L95.94,157.94 L97.40,157.73 L98.85,157.51 L100.31,157.29 L101.76,157.08 L103.21,156.87 L104.67,156.67 L106.12,156.46 L107.57,156.27 L109.03,156.08 L110.48,155.90 L111.93,155.73 L113.39,155.56 L114.84,155.41 L116.29,155.27 L117.75,155.14 L119.20,155.02 L120.65,154.91 L122.11,154.81 L123.56,154.72 L125.01,154.64 L126.47,154.56 L127.92,154.50 L129.38,154.45 L130.83,154.40 L132.28,154.36 L133.74,154.33 L135.19,154.31 L136.64,154.30 L138.10,154.29 L139.55,154.28 L141.00,154.29 L142.46,154.30 L143.91,154.31 L145.36,154.33 L146.82,154.36 L148.27,154.39 L149.72,154.42 L151.18,154.46 L152.63,154.50 L154.08,154.54 L155.54,154.58 L156.99,154.63 L158.44,154.67 L159.90,154.72 L161.35,154.77 L162.81,154.81 L164.26,154.86 L165.71,154.91 L167.17,154.95 L168.62,154.99 L170.07,155.03 L171.53,155.07 L172.98,155.11 L174.43,155.14 L175.89,155.17 L177.34,155.19 L178.79,155.21 L180.25,155.23 L181.70,155.24 L183.15,155.25 L184.61,155.25 L186.06,155.24 L187.51,155.23 L188.97,155.22 L190.42,155.20 L191.88,155.18 L193.33,155.15 L194.78,155.11 L196.24,155.08 L197.69,155.04 L199.14,155.00 L200.60,154.95 L202.05,154.90 L203.50,154.85 L204.96,154.80 L206.41,154.74 L207.86,154.69 L209.32,154.63 L210.77,154.57 L212.22,154.51 L213.68,154.45 L215.13,154.39 L216.58,154.33 L218.04,154.27 L219.49,154.20 L220.95,154.14 L222.40,154.08 L223.85,154.02 L225.31,153.96 L226.76,153.89 L228.21,153.83 L229.67,153.77 L231.12,153.71 L232.57,153.65 L234.03,153.60 L235.48,153.54 L236.93,153.48 L238.39,153.43 L239.84,153.37 L241.29,153.32 L242.75,153.27 L244.20,153.23 L245.66,153.18 L247.11,153.13 L248.56,153.09 L250.02,153.05 L251.47,153.01 L252.92,152.98 L254.38,152.94 L255.83,152.91 L257.28,152.88 L258.74,152.86 L260.19,152.84 L261.64,152.82 L263.10,152.80 L264.55,152.78 L266.00,152.77 L267.46,152.76 L268.91,152.76 L270.36,152.75 L271.82,152.75 L273.27,152.75 L274.73,152.76 L276.18,152.76 L277.63,152.77 L279.09,152.79 L280.54,152.80 L281.99,152.82 L283.45,152.84 L284.90,152.86 L286.35,152.89 L287.81,152.92 L289.26,152.95 L290.71,152.98 L292.17,153.02 L293.62,153.05 L295.07,153.09 L296.53,153.13 L297.98,153.18 L299.43,153.22 L300.89,153.27 L302.34,153.32 L303.80,153.37 L305.25,153.42 L306.70,153.48 L308.16,153.53 L309.61,153.59 L311.06,153.65 L312.52,153.71 L313.97,153.77 L315.42,153.84 L316.88,153.90 L318.33,153.96 L319.78,154.03 L321.24,154.10 L322.69,154.17 L324.14,154.23 L325.60,154.30 L327.05,154.37 L328.50,154.44 L329.96,154.52 L331.41,154.59 L332.87,154.66 L334.32,154.73 L335.77,154.81 L337.23,154.88 L338.68,154.96 L340.13,155.03 L341.59,155.11 L343.04,155.18 L344.49,155.26 L345.95,155.33 L347.40,155.41" fill="none" stroke="#0000ff" stroke-width="1.4" stroke-linejoin="round"/>
<rect x="45.1" y="0.7" width="314.00" height="208.10" fill="none" stroke="#1a1a1a" stroke-width="1.75" stroke-linejoin="round"/>
<line x1="41.0" y1="201.02" x2="45.10" y2="201.02" stroke="#111" stroke-width="1.3"/>
<text x="35.7" y="204.42" font-size="9.6" text-anchor="end" fill="#111">-2</text>
<line x1="41.0" y1="168.90" x2="45.10" y2="168.90" stroke="#111" stroke-width="1.3"/>
<text x="35.7" y="172.30" font-size="9.6" text-anchor="end" fill="#111">0</text>
<line x1="41.0" y1="136.78" x2="45.10" y2="136.78" stroke="#111" stroke-width="1.3"/>
<text x="35.7" y="140.18" font-size="9.6" text-anchor="end" fill="#111">2</text>
<line x1="41.0" y1="104.66" x2="45.10" y2="104.66" stroke="#111" stroke-width="1.3"/>
<text x="35.7" y="108.06" font-size="9.6" text-anchor="end" fill="#111">4</text>
<line x1="41.0" y1="72.54" x2="45.10" y2="72.54" stroke="#111" stroke-width="1.3"/>
<text x="35.7" y="75.94" font-size="9.6" text-anchor="end" fill="#111">6</text>
<line x1="41.0" y1="40.42" x2="45.10" y2="40.42" stroke="#111" stroke-width="1.3"/>
<text x="35.7" y="43.82" font-size="9.6" text-anchor="end" fill="#111">8</text>
<line x1="41.0" y1="8.30" x2="45.10" y2="8.30" stroke="#111" stroke-width="1.3"/>
<text x="35.7" y="11.70" font-size="9.6" text-anchor="end" fill="#111">10</text>
<line x1="369.50" y1="168.90" x2="684.00" y2="168.90" stroke="#363636" stroke-width="1.75" stroke-dasharray="5.6 3.97"/>
<path d="M381.80,131.73 L383.25,127.78 L384.70,125.76 L386.16,124.11 L387.61,122.68 L389.06,121.40 L390.51,120.23 L391.97,119.15 L393.42,118.13 L394.87,117.18 L396.32,116.28 L397.78,115.43 L399.23,114.61 L400.68,113.83 L402.13,113.09 L403.59,112.37 L405.04,111.67 L406.49,111.00 L407.94,110.36 L409.40,109.73 L410.85,109.12 L412.30,108.52 L413.75,107.95 L415.21,107.38 L416.66,106.83 L418.11,106.29 L419.56,105.77 L421.02,105.25 L422.47,104.75 L423.92,104.25 L425.38,103.76 L426.83,103.28 L428.28,102.81 L429.73,102.35 L431.19,101.89 L432.64,101.44 L434.09,100.99 L435.54,100.55 L437.00,100.11 L438.45,99.68 L439.90,99.26 L441.35,98.83 L442.81,98.42 L444.26,98.00 L445.71,97.59 L447.16,97.18 L448.62,96.78 L450.07,96.37 L451.52,95.98 L452.97,95.58 L454.43,95.18 L455.88,94.79 L457.33,94.40 L458.78,94.01 L460.24,93.63 L461.69,93.24 L463.14,92.86 L464.59,92.47 L466.05,92.09 L467.50,91.71 L468.95,91.33 L470.40,90.96 L471.86,90.58 L473.31,90.20 L474.76,89.83 L476.21,89.46 L477.67,89.08 L479.12,88.71 L480.57,88.34 L482.02,87.96 L483.48,87.59 L484.93,87.22 L486.38,86.85 L487.83,86.48 L489.29,86.11 L490.74,85.74 L492.19,85.37 L493.64,85.00 L495.10,84.63 L496.55,84.27 L498.00,83.90 L499.45,83.53 L500.90,83.16 L502.36,82.79 L503.81,82.42 L505.26,82.06 L506.72,81.69 L508.17,81.32 L509.62,80.95 L511.07,80.59 L512.52,80.22 L513.98,79.85 L515.43,79.48 L516.88,79.12 L518.34,78.75 L519.79,78.38 L521.24,78.02 L522.69,77.65 L524.14,77.28 L525.60,76.92 L527.05,76.55 L528.50,76.19 L529.96,75.82 L531.41,75.45 L532.86,75.09 L534.31,74.72 L535.76,74.36 L537.22,73.99 L538.67,73.63 L540.12,73.27 L541.58,72.90 L543.03,72.54 L544.48,72.18 L545.93,71.81 L547.38,71.45 L548.84,71.09 L550.29,70.73 L551.74,70.37 L553.19,70.01 L554.65,69.65 L556.10,69.29 L557.55,68.93 L559.00,68.57 L560.46,68.21 L561.91,67.86 L563.36,67.50 L564.82,67.15 L566.27,66.79 L567.72,66.44 L569.17,66.09 L570.62,65.74 L572.08,65.38 L573.53,65.03 L574.98,64.69 L576.43,64.34 L577.89,63.99 L579.34,63.65 L580.79,63.30 L582.25,62.96 L583.70,62.62 L585.15,62.28 L586.60,61.94 L588.06,61.60 L589.51,61.26 L590.96,60.92 L592.41,60.59 L593.87,60.26 L595.32,59.93 L596.77,59.60 L598.22,59.27 L599.67,58.94 L601.13,58.62 L602.58,58.29 L604.03,57.97 L605.49,57.65 L606.94,57.33 L608.39,57.02 L609.84,56.70 L611.29,56.39 L612.75,56.08 L614.20,55.77 L615.65,55.47 L617.11,55.16 L618.56,54.86 L620.01,54.56 L621.46,54.26 L622.91,53.97 L624.37,53.68 L625.82,53.39 L627.27,53.10 L628.73,52.81 L630.18,52.53 L631.63,52.25 L633.08,51.97 L634.53,51.69 L635.99,51.42 L637.44,51.15 L638.89,50.88 L640.35,50.62 L641.80,50.36 L643.25,50.10 L644.70,49.84 L646.15,49.59 L647.61,49.34 L649.06,49.09 L650.51,48.85 L651.96,48.60 L653.42,48.37 L654.87,48.13 L656.32,47.90 L657.77,47.67 L659.23,47.45 L660.68,47.23 L662.13,47.01 L663.59,46.80 L665.04,46.58 L666.49,46.38 L667.94,46.17 L669.39,45.97 L670.85,45.78 L672.30,45.59 L672.30,97.30 L670.85,97.40 L669.39,97.51 L667.94,97.61 L666.49,97.72 L665.04,97.82 L663.59,97.93 L662.13,98.03 L660.68,98.14 L659.23,98.24 L657.77,98.35 L656.32,98.46 L654.87,98.56 L653.42,98.67 L651.96,98.78 L650.51,98.89 L649.06,99.00 L647.61,99.11 L646.15,99.22 L644.70,99.33 L643.25,99.44 L641.80,99.55 L640.35,99.66 L638.89,99.78 L637.44,99.89 L635.99,100.00 L634.53,100.12 L633.08,100.23 L631.63,100.35 L630.18,100.47 L628.73,100.58 L627.27,100.70 L625.82,100.82 L624.37,100.94 L622.91,101.06 L621.46,101.18 L620.01,101.30 L618.56,101.42 L617.11,101.54 L615.65,101.67 L614.20,101.79 L612.75,101.92 L611.29,102.04 L609.84,102.17 L608.39,102.30 L606.94,102.42 L605.49,102.55 L604.03,102.68 L602.58,102.81 L601.13,102.94 L599.67,103.08 L598.22,103.21 L596.77,103.34 L595.32,103.48 L593.87,103.61 L592.41,103.75 L590.96,103.89 L589.51,104.03 L588.06,104.17 L586.60,104.31 L585.15,104.45 L583.70,104.59 L582.25,104.73 L580.79,104.88 L579.34,105.02 L577.89,105.17 L576.43,105.32 L574.98,105.46 L573.53,105.61 L572.08,105.76 L570.62,105.91 L569.17,106.07 L567.72,106.22 L566.27,106.37 L564.82,106.53 L563.36,106.68 L561.91,106.84 L560.46,107.00 L559.00,107.16 L557.55,107.32 L556.10,107.48 L554.65,107.64 L553.19,107.81 L551.74,107.97 L550.29,108.14 L548.84,108.31 L547.38,108.47 L545.93,108.64 L544.48,108.81 L543.03,108.99 L541.58,109.16 L540.12,109.33 L538.67,109.51 L537.22,109.68 L535.76,109.86 L534.31,110.04 L532.86,110.22 L531.41,110.40 L529.96,110.58 L528.50,110.76 L527.05,110.95 L525.60,111.13 L524.14,111.32 L522.69,111.51 L521.24,111.70 L519.79,111.89 L518.34,112.08 L516.88,112.27 L515.43,112.46 L513.98,112.66 L512.52,112.85 L511.07,113.05 L509.62,113.25 L508.17,113.45 L506.72,113.65 L505.26,113.85 L503.81,114.05 L502.36,114.26 L500.90,114.46 L499.45,114.67 L498.00,114.88 L496.55,115.09 L495.10,115.30 L493.64,115.51 L492.19,115.72 L490.74,115.94 L489.29,116.15 L487.83,116.37 L486.38,116.59 L484.93,116.81 L483.48,117.03 L482.02,117.25 L480.57,117.48 L479.12,117.70 L477.67,117.93 L476.21,118.15 L474.76,118.38 L473.31,118.61 L471.86,118.85 L470.40,119.08 L468.95,119.31 L467.50,119.55 L466.05,119.79 L464.59,120.03 L463.14,120.27 L461.69,120.51 L460.24,120.75 L458.78,121.00 L457.33,121.25 L455.88,121.50 L454.43,121.75 L452.97,122.00 L451.52,122.26 L450.07,122.51 L448.62,122.77 L447.16,123.03 L445.71,123.30 L444.26,123.57 L442.81,123.83 L441.35,124.11 L439.90,124.38 L438.45,124.66 L437.00,124.94 L435.54,125.22 L434.09,125.51 L432.64,125.80 L431.19,126.10 L429.73,126.40 L428.28,126.70 L426.83,127.01 L425.38,127.33 L423.92,127.65 L422.47,127.98 L421.02,128.31 L419.56,128.65 L418.11,129.00 L416.66,129.36 L415.21,129.73 L413.75,130.11 L412.30,130.51 L410.85,130.91 L409.40,131.33 L407.94,131.77 L406.49,132.23 L405.04,132.71 L403.59,133.22 L402.13,133.75 L400.68,134.32 L399.23,134.93 L397.78,135.58 L396.32,136.29 L394.87,137.06 L393.42,137.91 L391.97,138.87 L390.51,139.95 L389.06,141.20 L387.61,142.69 L386.16,144.52 L384.70,146.93 L383.25,150.50 L381.80,161.69 Z" fill="rgb(255,0,0)" fill-opacity="0.2" stroke="none"/>
<path d="M381.80,145.67 L383.25,141.35 L384.70,139.25 L386.16,137.56 L387.61,136.10 L389.06,134.78 L390.51,133.58 L391.97,132.46 L393.42,131.42 L394.87,130.44 L396.32,129.50 L397.78,128.62 L399.23,127.77 L400.68,126.96 L402.13,126.18 L403.59,125.43 L405.04,124.70 L406.49,124.00 L407.94,123.33 L409.40,122.67 L410.85,122.03 L412.30,121.41 L413.75,120.81 L415.21,120.22 L416.66,119.65 L418.11,119.09 L419.56,118.55 L421.02,118.02 L422.47,117.50 L423.92,116.99 L425.38,116.49 L426.83,116.00 L428.28,115.52 L429.73,115.05 L431.19,114.59 L432.64,114.13 L434.09,113.69 L435.54,113.25 L437.00,112.82 L438.45,112.40 L439.90,111.98 L441.35,111.57 L442.81,111.17 L444.26,110.77 L445.71,110.37 L447.16,109.99 L448.62,109.60 L450.07,109.23 L451.52,108.85 L452.97,108.49 L454.43,108.12 L455.88,107.76 L457.33,107.41 L458.78,107.06 L460.24,106.71 L461.69,106.36 L463.14,106.02 L464.59,105.69 L466.05,105.35 L467.50,105.02 L468.95,104.70 L470.40,104.37 L471.86,104.05 L473.31,103.73 L474.76,103.42 L476.21,103.11 L477.67,102.79 L479.12,102.49 L480.57,102.18 L482.02,101.88 L483.48,101.58 L484.93,101.28 L486.38,100.98 L487.83,100.69 L489.29,100.39 L490.74,100.10 L492.19,99.81 L493.64,99.53 L495.10,99.24 L496.55,98.96 L498.00,98.67 L499.45,98.39 L500.90,98.12 L502.36,97.84 L503.81,97.56 L505.26,97.29 L506.72,97.01 L508.17,96.74 L509.62,96.47 L511.07,96.20 L512.52,95.93 L513.98,95.67 L515.43,95.40 L516.88,95.14 L518.34,94.87 L519.79,94.61 L521.24,94.35 L522.69,94.09 L524.14,93.83 L525.60,93.57 L527.05,93.32 L528.50,93.06 L529.96,92.81 L531.41,92.55 L532.86,92.30 L534.31,92.05 L535.76,91.79 L537.22,91.54 L538.67,91.29 L540.12,91.04 L541.58,90.80 L543.03,90.55 L544.48,90.30 L545.93,90.06 L547.38,89.81 L548.84,89.57 L550.29,89.32 L551.74,89.08 L553.19,88.84 L554.65,88.60 L556.10,88.35 L557.55,88.11 L559.00,87.87 L560.46,87.64 L561.91,87.40 L563.36,87.16 L564.82,86.92 L566.27,86.69 L567.72,86.45 L569.17,86.22 L570.62,85.98 L572.08,85.75 L573.53,85.52 L574.98,85.28 L576.43,85.05 L577.89,84.82 L579.34,84.59 L580.79,84.36 L582.25,84.13 L583.70,83.90 L585.15,83.68 L586.60,83.45 L588.06,83.22 L589.51,82.99 L590.96,82.77 L592.41,82.54 L593.87,82.32 L595.32,82.10 L596.77,81.87 L598.22,81.65 L599.67,81.43 L601.13,81.21 L602.58,80.99 L604.03,80.77 L605.49,80.55 L606.94,80.33 L608.39,80.11 L609.84,79.90 L611.29,79.68 L612.75,79.46 L614.20,79.25 L615.65,79.04 L617.11,78.82 L618.56,78.61 L620.01,78.40 L621.46,78.18 L622.91,77.97 L624.37,77.76 L625.82,77.55 L627.27,77.35 L628.73,77.14 L630.18,76.93 L631.63,76.72 L633.08,76.52 L634.53,76.31 L635.99,76.11 L637.44,75.91 L638.89,75.70 L640.35,75.50 L641.80,75.30 L643.25,75.10 L644.70,74.90 L646.15,74.70 L647.61,74.50 L649.06,74.31 L650.51,74.11 L651.96,73.92 L653.42,73.72 L654.87,73.53 L656.32,73.34 L657.77,73.14 L659.23,72.95 L660.68,72.76 L662.13,72.58 L663.59,72.39 L665.04,72.20 L666.49,72.01 L667.94,71.83 L669.39,71.65 L670.85,71.46 L672.30,71.28" fill="none" stroke="#ff0000" stroke-width="1.4" stroke-linejoin="round"/>
<path d="M381.80,140.47 L383.25,140.38 L384.70,140.28 L386.16,140.19 L387.61,140.09 L389.06,139.99 L390.51,139.90 L391.97,139.80 L393.42,139.70 L394.87,139.60 L396.32,139.50 L397.78,139.40 L399.23,139.30 L400.68,139.19 L402.13,139.09 L403.59,138.98 L405.04,138.87 L406.49,138.76 L407.94,138.65 L409.40,138.54 L410.85,138.43 L412.30,138.31 L413.75,138.19 L415.21,138.07 L416.66,137.95 L418.11,137.82 L419.56,137.69 L421.02,137.56 L422.47,137.43 L423.92,137.29 L425.38,137.15 L426.83,137.01 L428.28,136.86 L429.73,136.71 L431.19,136.56 L432.64,136.41 L434.09,136.25 L435.54,136.08 L437.00,135.92 L438.45,135.75 L439.90,135.57 L441.35,135.40 L442.81,135.21 L444.26,135.03 L445.71,134.84 L447.16,134.65 L448.62,134.46 L450.07,134.26 L451.52,134.06 L452.97,133.86 L454.43,133.65 L455.88,133.45 L457.33,133.24 L458.78,133.03 L460.24,132.82 L461.69,132.60 L463.14,132.39 L464.59,132.17 L466.05,131.95 L467.50,131.73 L468.95,131.51 L470.40,131.29 L471.86,131.07 L473.31,130.85 L474.76,130.63 L476.21,130.40 L477.67,130.18 L479.12,129.96 L480.57,129.74 L482.02,129.52 L483.48,129.29 L484.93,129.07 L486.38,128.85 L487.83,128.64 L489.29,128.42 L490.74,128.20 L492.19,127.99 L493.64,127.77 L495.10,127.56 L496.55,127.35 L498.00,127.14 L499.45,126.94 L500.90,126.73 L502.36,126.53 L503.81,126.33 L505.26,126.13 L506.72,125.94 L508.17,125.74 L509.62,125.55 L511.07,125.36 L512.52,125.16 L513.98,124.97 L515.43,124.78 L516.88,124.60 L518.34,124.41 L519.79,124.22 L521.24,124.03 L522.69,123.85 L524.14,123.66 L525.60,123.47 L527.05,123.29 L528.50,123.10 L529.96,122.92 L531.41,122.73 L532.86,122.54 L534.31,122.36 L535.76,122.17 L537.22,121.98 L538.67,121.79 L540.12,121.60 L541.58,121.41 L543.03,121.21 L544.48,121.02 L545.93,120.82 L547.38,120.63 L548.84,120.43 L550.29,120.23 L551.74,120.03 L553.19,119.82 L554.65,119.62 L556.10,119.41 L557.55,119.20 L559.00,118.99 L560.46,118.77 L561.91,118.55 L563.36,118.33 L564.82,118.11 L566.27,117.89 L567.72,117.66 L569.17,117.44 L570.62,117.21 L572.08,116.98 L573.53,116.75 L574.98,116.51 L576.43,116.28 L577.89,116.04 L579.34,115.81 L580.79,115.57 L582.25,115.33 L583.70,115.09 L585.15,114.85 L586.60,114.61 L588.06,114.37 L589.51,114.13 L590.96,113.89 L592.41,113.65 L593.87,113.40 L595.32,113.16 L596.77,112.92 L598.22,112.68 L599.67,112.44 L601.13,112.19 L602.58,111.95 L604.03,111.71 L605.49,111.46 L606.94,111.22 L608.39,110.98 L609.84,110.73 L611.29,110.49 L612.75,110.25 L614.20,110.00 L615.65,109.76 L617.11,109.51 L618.56,109.27 L620.01,109.03 L621.46,108.78 L622.91,108.54 L624.37,108.29 L625.82,108.05 L627.27,107.80 L628.73,107.56 L630.18,107.31 L631.63,107.06 L633.08,106.82 L634.53,106.57 L635.99,106.33 L637.44,106.08 L638.89,105.84 L640.35,105.59 L641.80,105.34 L643.25,105.10 L644.70,104.85 L646.15,104.60 L647.61,104.36 L649.06,104.11 L650.51,103.87 L651.96,103.62 L653.42,103.37 L654.87,103.13 L656.32,102.88 L657.77,102.63 L659.23,102.39 L660.68,102.14 L662.13,101.89 L663.59,101.64 L665.04,101.40 L666.49,101.15 L667.94,100.90 L669.39,100.66 L670.85,100.41 L672.30,100.16 L672.30,131.00 L670.85,131.07 L669.39,131.14 L667.94,131.21 L666.49,131.28 L665.04,131.35 L663.59,131.42 L662.13,131.49 L660.68,131.56 L659.23,131.63 L657.77,131.70 L656.32,131.77 L654.87,131.85 L653.42,131.92 L651.96,131.99 L650.51,132.06 L649.06,132.14 L647.61,132.21 L646.15,132.29 L644.70,132.37 L643.25,132.44 L641.80,132.52 L640.35,132.60 L638.89,132.68 L637.44,132.76 L635.99,132.84 L634.53,132.92 L633.08,133.00 L631.63,133.09 L630.18,133.17 L628.73,133.26 L627.27,133.34 L625.82,133.43 L624.37,133.52 L622.91,133.61 L621.46,133.71 L620.01,133.80 L618.56,133.89 L617.11,133.99 L615.65,134.09 L614.20,134.19 L612.75,134.29 L611.29,134.39 L609.84,134.49 L608.39,134.60 L606.94,134.71 L605.49,134.81 L604.03,134.92 L602.58,135.04 L601.13,135.15 L599.67,135.27 L598.22,135.38 L596.77,135.50 L595.32,135.63 L593.87,135.75 L592.41,135.87 L590.96,136.00 L589.51,136.13 L588.06,136.26 L586.60,136.40 L585.15,136.53 L583.70,136.67 L582.25,136.81 L580.79,136.95 L579.34,137.10 L577.89,137.24 L576.43,137.39 L574.98,137.54 L573.53,137.69 L572.08,137.84 L570.62,137.99 L569.17,138.14 L567.72,138.30 L566.27,138.45 L564.82,138.61 L563.36,138.77 L561.91,138.93 L560.46,139.09 L559.00,139.25 L557.55,139.41 L556.10,139.58 L554.65,139.74 L553.19,139.91 L551.74,140.07 L550.29,140.24 L548.84,140.41 L547.38,140.57 L545.93,140.74 L544.48,140.91 L543.03,141.08 L541.58,141.25 L540.12,141.42 L538.67,141.59 L537.22,141.76 L535.76,141.93 L534.31,142.10 L532.86,142.27 L531.41,142.45 L529.96,142.62 L528.50,142.79 L527.05,142.97 L525.60,143.14 L524.14,143.31 L522.69,143.48 L521.24,143.66 L519.79,143.83 L518.34,144.01 L516.88,144.18 L515.43,144.35 L513.98,144.53 L512.52,144.70 L511.07,144.87 L509.62,145.04 L508.17,145.22 L506.72,145.39 L505.26,145.56 L503.81,145.73 L502.36,145.90 L500.90,146.08 L499.45,146.25 L498.00,146.42 L496.55,146.59 L495.10,146.76 L493.64,146.92 L492.19,147.09 L490.74,147.26 L489.29,147.43 L487.83,147.60 L486.38,147.77 L484.93,147.94 L483.48,148.11 L482.02,148.28 L480.57,148.45 L479.12,148.62 L477.67,148.79 L476.21,148.96 L474.76,149.14 L473.31,149.31 L471.86,149.49 L470.40,149.67 L468.95,149.84 L467.50,150.02 L466.05,150.20 L464.59,150.39 L463.14,150.57 L461.69,150.76 L460.24,150.94 L458.78,151.13 L457.33,151.32 L455.88,151.52 L454.43,151.71 L452.97,151.91 L451.52,152.11 L450.07,152.31 L448.62,152.52 L447.16,152.73 L445.71,152.94 L444.26,153.15 L442.81,153.37 L441.35,153.59 L439.90,153.81 L438.45,154.03 L437.00,154.26 L435.54,154.49 L434.09,154.73 L432.64,154.97 L431.19,155.21 L429.73,155.45 L428.28,155.70 L426.83,155.95 L425.38,156.20 L423.92,156.45 L422.47,156.71 L421.02,156.97 L419.56,157.23 L418.11,157.50 L416.66,157.76 L415.21,158.03 L413.75,158.30 L412.30,158.57 L410.85,158.85 L409.40,159.12 L407.94,159.40 L406.49,159.68 L405.04,159.96 L403.59,160.24 L402.13,160.52 L400.68,160.80 L399.23,161.09 L397.78,161.38 L396.32,161.66 L394.87,161.95 L393.42,162.24 L391.97,162.53 L390.51,162.82 L389.06,163.11 L387.61,163.40 L386.16,163.69 L384.70,163.98 L383.25,164.27 L381.80,164.56 Z" fill="rgb(255,140,0)" fill-opacity="0.2" stroke="none"/>
<path d="M381.80,152.52 L383.25,152.33 L384.70,152.13 L386.16,151.94 L387.61,151.74 L389.06,151.55 L390.51,151.36 L391.97,151.16 L393.42,150.97 L394.87,150.78 L396.32,150.58 L397.78,150.39 L399.23,150.19 L400.68,150.00 L402.13,149.80 L403.59,149.61 L405.04,149.42 L406.49,149.22 L407.94,149.03 L409.40,148.83 L410.85,148.64 L412.30,148.44 L413.75,148.25 L415.21,148.05 L416.66,147.85 L418.11,147.66 L419.56,147.46 L421.02,147.27 L422.47,147.07 L423.92,146.87 L425.38,146.68 L426.83,146.48 L428.28,146.28 L429.73,146.08 L431.19,145.88 L432.64,145.69 L434.09,145.49 L435.54,145.29 L437.00,145.09 L438.45,144.89 L439.90,144.69 L441.35,144.49 L442.81,144.29 L444.26,144.09 L445.71,143.89 L447.16,143.69 L448.62,143.49 L450.07,143.29 L451.52,143.09 L452.97,142.89 L454.43,142.68 L455.88,142.48 L457.33,142.28 L458.78,142.08 L460.24,141.88 L461.69,141.68 L463.14,141.48 L464.59,141.28 L466.05,141.08 L467.50,140.88 L468.95,140.68 L470.40,140.48 L471.86,140.28 L473.31,140.08 L474.76,139.88 L476.21,139.68 L477.67,139.49 L479.12,139.29 L480.57,139.09 L482.02,138.90 L483.48,138.70 L484.93,138.51 L486.38,138.31 L487.83,138.12 L489.29,137.92 L490.74,137.73 L492.19,137.54 L493.64,137.35 L495.10,137.16 L496.55,136.97 L498.00,136.78 L499.45,136.59 L500.90,136.40 L502.36,136.22 L503.81,136.03 L505.26,135.85 L506.72,135.66 L508.17,135.48 L509.62,135.30 L511.07,135.11 L512.52,134.93 L513.98,134.75 L515.43,134.57 L516.88,134.39 L518.34,134.21 L519.79,134.03 L521.24,133.85 L522.69,133.67 L524.14,133.49 L525.60,133.31 L527.05,133.13 L528.50,132.95 L529.96,132.77 L531.41,132.59 L532.86,132.41 L534.31,132.23 L535.76,132.05 L537.22,131.87 L538.67,131.69 L540.12,131.51 L541.58,131.33 L543.03,131.15 L544.48,130.96 L545.93,130.78 L547.38,130.60 L548.84,130.42 L550.29,130.23 L551.74,130.05 L553.19,129.87 L554.65,129.68 L556.10,129.49 L557.55,129.31 L559.00,129.12 L560.46,128.93 L561.91,128.74 L563.36,128.55 L564.82,128.36 L566.27,128.17 L567.72,127.98 L569.17,127.79 L570.62,127.60 L572.08,127.41 L573.53,127.22 L574.98,127.02 L576.43,126.83 L577.89,126.64 L579.34,126.45 L580.79,126.26 L582.25,126.07 L583.70,125.88 L585.15,125.69 L586.60,125.50 L588.06,125.32 L589.51,125.13 L590.96,124.94 L592.41,124.76 L593.87,124.58 L595.32,124.39 L596.77,124.21 L598.22,124.03 L599.67,123.85 L601.13,123.67 L602.58,123.49 L604.03,123.32 L605.49,123.14 L606.94,122.96 L608.39,122.79 L609.84,122.61 L611.29,122.44 L612.75,122.27 L614.20,122.09 L615.65,121.92 L617.11,121.75 L618.56,121.58 L620.01,121.41 L621.46,121.24 L622.91,121.07 L624.37,120.91 L625.82,120.74 L627.27,120.57 L628.73,120.41 L630.18,120.24 L631.63,120.08 L633.08,119.91 L634.53,119.75 L635.99,119.58 L637.44,119.42 L638.89,119.26 L640.35,119.09 L641.80,118.93 L643.25,118.77 L644.70,118.61 L646.15,118.45 L647.61,118.29 L649.06,118.13 L650.51,117.96 L651.96,117.80 L653.42,117.64 L654.87,117.49 L656.32,117.33 L657.77,117.17 L659.23,117.01 L660.68,116.85 L662.13,116.69 L663.59,116.53 L665.04,116.37 L666.49,116.21 L667.94,116.06 L669.39,115.90 L670.85,115.74 L672.30,115.58" fill="none" stroke="#ff8c00" stroke-width="1.4" stroke-linejoin="round"/>
<path d="M381.80,139.99 L383.25,139.99 L384.70,139.99 L386.16,139.99 L387.61,139.99 L389.06,139.98 L390.51,139.98 L391.97,139.98 L393.42,139.97 L394.87,139.97 L396.32,139.97 L397.78,139.96 L399.23,139.96 L400.68,139.95 L402.13,139.94 L403.59,139.93 L405.04,139.93 L406.49,139.92 L407.94,139.91 L409.40,139.89 L410.85,139.88 L412.30,139.87 L413.75,139.85 L415.21,139.83 L416.66,139.81 L418.11,139.79 L419.56,139.77 L421.02,139.75 L422.47,139.73 L423.92,139.70 L425.38,139.67 L426.83,139.64 L428.28,139.61 L429.73,139.58 L431.19,139.54 L432.64,139.50 L434.09,139.46 L435.54,139.42 L437.00,139.38 L438.45,139.33 L439.90,139.28 L441.35,139.23 L442.81,139.18 L444.26,139.12 L445.71,139.06 L447.16,139.00 L448.62,138.94 L450.07,138.88 L451.52,138.81 L452.97,138.75 L454.43,138.68 L455.88,138.61 L457.33,138.54 L458.78,138.46 L460.24,138.39 L461.69,138.31 L463.14,138.23 L464.59,138.16 L466.05,138.08 L467.50,137.99 L468.95,137.91 L470.40,137.83 L471.86,137.74 L473.31,137.66 L474.76,137.57 L476.21,137.49 L477.67,137.40 L479.12,137.31 L480.57,137.22 L482.02,137.13 L483.48,137.04 L484.93,136.95 L486.38,136.86 L487.83,136.77 L489.29,136.68 L490.74,136.59 L492.19,136.50 L493.64,136.41 L495.10,136.32 L496.55,136.23 L498.00,136.14 L499.45,136.05 L500.90,135.96 L502.36,135.87 L503.81,135.78 L505.26,135.69 L506.72,135.60 L508.17,135.51 L509.62,135.42 L511.07,135.33 L512.52,135.24 L513.98,135.16 L515.43,135.07 L516.88,134.98 L518.34,134.90 L519.79,134.81 L521.24,134.73 L522.69,134.64 L524.14,134.56 L525.60,134.47 L527.05,134.39 L528.50,134.31 L529.96,134.23 L531.41,134.14 L532.86,134.06 L534.31,133.98 L535.76,133.90 L537.22,133.82 L538.67,133.75 L540.12,133.67 L541.58,133.59 L543.03,133.51 L544.48,133.44 L545.93,133.36 L547.38,133.29 L548.84,133.22 L550.29,133.14 L551.74,133.07 L553.19,133.00 L554.65,132.93 L556.10,132.86 L557.55,132.79 L559.00,132.72 L560.46,132.66 L561.91,132.59 L563.36,132.53 L564.82,132.46 L566.27,132.40 L567.72,132.34 L569.17,132.27 L570.62,132.21 L572.08,132.15 L573.53,132.09 L574.98,132.03 L576.43,131.98 L577.89,131.92 L579.34,131.86 L580.79,131.81 L582.25,131.75 L583.70,131.70 L585.15,131.64 L586.60,131.59 L588.06,131.54 L589.51,131.49 L590.96,131.43 L592.41,131.38 L593.87,131.33 L595.32,131.28 L596.77,131.24 L598.22,131.19 L599.67,131.14 L601.13,131.09 L602.58,131.05 L604.03,131.00 L605.49,130.95 L606.94,130.91 L608.39,130.86 L609.84,130.82 L611.29,130.78 L612.75,130.73 L614.20,130.69 L615.65,130.65 L617.11,130.61 L618.56,130.57 L620.01,130.52 L621.46,130.48 L622.91,130.44 L624.37,130.40 L625.82,130.37 L627.27,130.33 L628.73,130.29 L630.18,130.25 L631.63,130.21 L633.08,130.17 L634.53,130.14 L635.99,130.10 L637.44,130.06 L638.89,130.03 L640.35,129.99 L641.80,129.95 L643.25,129.92 L644.70,129.88 L646.15,129.85 L647.61,129.81 L649.06,129.78 L650.51,129.74 L651.96,129.71 L653.42,129.67 L654.87,129.64 L656.32,129.60 L657.77,129.57 L659.23,129.53 L660.68,129.50 L662.13,129.47 L663.59,129.43 L665.04,129.40 L666.49,129.37 L667.94,129.33 L669.39,129.30 L670.85,129.27 L672.30,129.23 L672.30,153.64 L670.85,153.61 L669.39,153.57 L667.94,153.54 L666.49,153.50 L665.04,153.47 L663.59,153.44 L662.13,153.40 L660.68,153.37 L659.23,153.33 L657.77,153.30 L656.32,153.26 L654.87,153.23 L653.42,153.20 L651.96,153.16 L650.51,153.13 L649.06,153.10 L647.61,153.06 L646.15,153.03 L644.70,153.00 L643.25,152.97 L641.80,152.94 L640.35,152.90 L638.89,152.87 L637.44,152.84 L635.99,152.81 L634.53,152.78 L633.08,152.75 L631.63,152.72 L630.18,152.69 L628.73,152.67 L627.27,152.64 L625.82,152.61 L624.37,152.58 L622.91,152.55 L621.46,152.53 L620.01,152.50 L618.56,152.48 L617.11,152.45 L615.65,152.43 L614.20,152.40 L612.75,152.38 L611.29,152.36 L609.84,152.34 L608.39,152.31 L606.94,152.29 L605.49,152.27 L604.03,152.25 L602.58,152.23 L601.13,152.22 L599.67,152.20 L598.22,152.18 L596.77,152.16 L595.32,152.15 L593.87,152.13 L592.41,152.12 L590.96,152.11 L589.51,152.09 L588.06,152.08 L586.60,152.07 L585.15,152.06 L583.70,152.05 L582.25,152.04 L580.79,152.04 L579.34,152.03 L577.89,152.02 L576.43,152.02 L574.98,152.01 L573.53,152.01 L572.08,152.01 L570.62,152.01 L569.17,152.01 L567.72,152.01 L566.27,152.01 L564.82,152.01 L563.36,152.01 L561.91,152.02 L560.46,152.03 L559.00,152.03 L557.55,152.04 L556.10,152.05 L554.65,152.06 L553.19,152.07 L551.74,152.08 L550.29,152.10 L548.84,152.11 L547.38,152.13 L545.93,152.14 L544.48,152.16 L543.03,152.18 L541.58,152.20 L540.12,152.23 L538.67,152.25 L537.22,152.27 L535.76,152.30 L534.31,152.33 L532.86,152.35 L531.41,152.38 L529.96,152.42 L528.50,152.45 L527.05,152.48 L525.60,152.52 L524.14,152.56 L522.69,152.59 L521.24,152.63 L519.79,152.68 L518.34,152.72 L516.88,152.76 L515.43,152.81 L513.98,152.86 L512.52,152.90 L511.07,152.96 L509.62,153.01 L508.17,153.06 L506.72,153.12 L505.26,153.17 L503.81,153.23 L502.36,153.29 L500.90,153.35 L499.45,153.42 L498.00,153.48 L496.55,153.55 L495.10,153.62 L493.64,153.69 L492.19,153.76 L490.74,153.84 L489.29,153.91 L487.83,153.99 L486.38,154.07 L484.93,154.15 L483.48,154.23 L482.02,154.31 L480.57,154.39 L479.12,154.48 L477.67,154.57 L476.21,154.65 L474.76,154.74 L473.31,154.83 L471.86,154.93 L470.40,155.02 L468.95,155.11 L467.50,155.21 L466.05,155.30 L464.59,155.40 L463.14,155.50 L461.69,155.60 L460.24,155.70 L458.78,155.80 L457.33,155.90 L455.88,156.00 L454.43,156.11 L452.97,156.21 L451.52,156.32 L450.07,156.42 L448.62,156.53 L447.16,156.64 L445.71,156.74 L444.26,156.85 L442.81,156.96 L441.35,157.07 L439.90,157.18 L438.45,157.29 L437.00,157.40 L435.54,157.51 L434.09,157.63 L432.64,157.74 L431.19,157.85 L429.73,157.96 L428.28,158.08 L426.83,158.19 L425.38,158.31 L423.92,158.42 L422.47,158.53 L421.02,158.65 L419.56,158.77 L418.11,158.88 L416.66,159.00 L415.21,159.11 L413.75,159.23 L412.30,159.35 L410.85,159.46 L409.40,159.58 L407.94,159.70 L406.49,159.82 L405.04,159.93 L403.59,160.05 L402.13,160.17 L400.68,160.29 L399.23,160.41 L397.78,160.52 L396.32,160.64 L394.87,160.76 L393.42,160.88 L391.97,161.00 L390.51,161.12 L389.06,161.24 L387.61,161.36 L386.16,161.48 L384.70,161.60 L383.25,161.71 L381.80,161.83 Z" fill="rgb(0,255,255)" fill-opacity="0.2" stroke="none"/>
<path d="M381.80,150.91 L383.25,150.85 L384.70,150.79 L386.16,150.73 L387.61,150.67 L389.06,150.61 L390.51,150.55 L391.97,150.49 L393.42,150.43 L394.87,150.37 L396.32,150.30 L397.78,150.24 L399.23,150.18 L400.68,150.12 L402.13,150.06 L403.59,149.99 L405.04,149.93 L406.49,149.87 L407.94,149.80 L409.40,149.74 L410.85,149.67 L412.30,149.61 L413.75,149.54 L415.21,149.47 L416.66,149.41 L418.11,149.34 L419.56,149.27 L421.02,149.20 L422.47,149.13 L423.92,149.06 L425.38,148.99 L426.83,148.92 L428.28,148.84 L429.73,148.77 L431.19,148.70 L432.64,148.62 L434.09,148.55 L435.54,148.47 L437.00,148.39 L438.45,148.31 L439.90,148.23 L441.35,148.15 L442.81,148.07 L444.26,147.99 L445.71,147.90 L447.16,147.82 L448.62,147.74 L450.07,147.65 L451.52,147.57 L452.97,147.48 L454.43,147.39 L455.88,147.31 L457.33,147.22 L458.78,147.13 L460.24,147.04 L461.69,146.96 L463.14,146.87 L464.59,146.78 L466.05,146.69 L467.50,146.60 L468.95,146.51 L470.40,146.42 L471.86,146.34 L473.31,146.25 L474.76,146.16 L476.21,146.07 L477.67,145.98 L479.12,145.90 L480.57,145.81 L482.02,145.72 L483.48,145.64 L484.93,145.55 L486.38,145.46 L487.83,145.38 L489.29,145.30 L490.74,145.21 L492.19,145.13 L493.64,145.05 L495.10,144.97 L496.55,144.89 L498.00,144.81 L499.45,144.73 L500.90,144.66 L502.36,144.58 L503.81,144.50 L505.26,144.43 L506.72,144.36 L508.17,144.28 L509.62,144.21 L511.07,144.14 L512.52,144.07 L513.98,144.01 L515.43,143.94 L516.88,143.87 L518.34,143.81 L519.79,143.74 L521.24,143.68 L522.69,143.62 L524.14,143.56 L525.60,143.50 L527.05,143.44 L528.50,143.38 L529.96,143.32 L531.41,143.26 L532.86,143.21 L534.31,143.15 L535.76,143.10 L537.22,143.05 L538.67,143.00 L540.12,142.95 L541.58,142.90 L543.03,142.85 L544.48,142.80 L545.93,142.75 L547.38,142.71 L548.84,142.66 L550.29,142.62 L551.74,142.58 L553.19,142.54 L554.65,142.49 L556.10,142.46 L557.55,142.42 L559.00,142.38 L560.46,142.34 L561.91,142.31 L563.36,142.27 L564.82,142.24 L566.27,142.20 L567.72,142.17 L569.17,142.14 L570.62,142.11 L572.08,142.08 L573.53,142.05 L574.98,142.02 L576.43,142.00 L577.89,141.97 L579.34,141.95 L580.79,141.92 L582.25,141.90 L583.70,141.87 L585.15,141.85 L586.60,141.83 L588.06,141.81 L589.51,141.79 L590.96,141.77 L592.41,141.75 L593.87,141.73 L595.32,141.72 L596.77,141.70 L598.22,141.68 L599.67,141.67 L601.13,141.65 L602.58,141.64 L604.03,141.63 L605.49,141.61 L606.94,141.60 L608.39,141.59 L609.84,141.58 L611.29,141.57 L612.75,141.56 L614.20,141.55 L615.65,141.54 L617.11,141.53 L618.56,141.52 L620.01,141.51 L621.46,141.51 L622.91,141.50 L624.37,141.49 L625.82,141.49 L627.27,141.48 L628.73,141.48 L630.18,141.47 L631.63,141.47 L633.08,141.46 L634.53,141.46 L635.99,141.46 L637.44,141.45 L638.89,141.45 L640.35,141.45 L641.80,141.44 L643.25,141.44 L644.70,141.44 L646.15,141.44 L647.61,141.44 L649.06,141.44 L650.51,141.44 L651.96,141.44 L653.42,141.43 L654.87,141.43 L656.32,141.43 L657.77,141.43 L659.23,141.43 L660.68,141.43 L662.13,141.43 L663.59,141.43 L665.04,141.43 L666.49,141.44 L667.94,141.44 L669.39,141.44 L670.85,141.44 L672.30,141.44" fill="none" stroke="#00ffff" stroke-width="1.4" stroke-linejoin="round"/>
<path d="M381.80,144.49 L383.25,144.58 L384.70,144.67 L386.16,144.76 L387.61,144.85 L389.06,144.95 L390.51,145.04 L391.97,145.12 L393.42,145.21 L394.87,145.30 L396.32,145.39 L397.78,145.47 L399.23,145.56 L400.68,145.64 L402.13,145.72 L403.59,145.80 L405.04,145.88 L406.49,145.95 L407.94,146.03 L409.40,146.10 L410.85,146.17 L412.30,146.23 L413.75,146.30 L415.21,146.36 L416.66,146.42 L418.11,146.48 L419.56,146.53 L421.02,146.58 L422.47,146.63 L423.92,146.67 L425.38,146.71 L426.83,146.75 L428.28,146.78 L429.73,146.81 L431.19,146.83 L432.64,146.86 L434.09,146.87 L435.54,146.89 L437.00,146.89 L438.45,146.90 L439.90,146.90 L441.35,146.89 L442.81,146.88 L444.26,146.87 L445.71,146.85 L447.16,146.83 L448.62,146.81 L450.07,146.78 L451.52,146.75 L452.97,146.72 L454.43,146.68 L455.88,146.64 L457.33,146.60 L458.78,146.56 L460.24,146.51 L461.69,146.47 L463.14,146.42 L464.59,146.37 L466.05,146.31 L467.50,146.26 L468.95,146.20 L470.40,146.15 L471.86,146.09 L473.31,146.03 L474.76,145.98 L476.21,145.92 L477.67,145.86 L479.12,145.80 L480.57,145.74 L482.02,145.69 L483.48,145.63 L484.93,145.57 L486.38,145.52 L487.83,145.47 L489.29,145.41 L490.74,145.36 L492.19,145.31 L493.64,145.26 L495.10,145.22 L496.55,145.17 L498.00,145.13 L499.45,145.09 L500.90,145.05 L502.36,145.02 L503.81,144.99 L505.26,144.96 L506.72,144.93 L508.17,144.90 L509.62,144.88 L511.07,144.85 L512.52,144.83 L513.98,144.81 L515.43,144.79 L516.88,144.78 L518.34,144.76 L519.79,144.75 L521.24,144.73 L522.69,144.72 L524.14,144.71 L525.60,144.70 L527.05,144.69 L528.50,144.68 L529.96,144.67 L531.41,144.66 L532.86,144.66 L534.31,144.65 L535.76,144.64 L537.22,144.63 L538.67,144.63 L540.12,144.62 L541.58,144.61 L543.03,144.60 L544.48,144.60 L545.93,144.59 L547.38,144.58 L548.84,144.57 L550.29,144.56 L551.74,144.55 L553.19,144.54 L554.65,144.52 L556.10,144.51 L557.55,144.50 L559.00,144.48 L560.46,144.46 L561.91,144.44 L563.36,144.42 L564.82,144.40 L566.27,144.38 L567.72,144.36 L569.17,144.33 L570.62,144.31 L572.08,144.28 L573.53,144.25 L574.98,144.22 L576.43,144.19 L577.89,144.16 L579.34,144.13 L580.79,144.10 L582.25,144.06 L583.70,144.03 L585.15,143.99 L586.60,143.95 L588.06,143.91 L589.51,143.88 L590.96,143.84 L592.41,143.79 L593.87,143.75 L595.32,143.71 L596.77,143.67 L598.22,143.62 L599.67,143.58 L601.13,143.53 L602.58,143.48 L604.03,143.44 L605.49,143.39 L606.94,143.34 L608.39,143.29 L609.84,143.24 L611.29,143.19 L612.75,143.14 L614.20,143.08 L615.65,143.03 L617.11,142.98 L618.56,142.92 L620.01,142.87 L621.46,142.81 L622.91,142.76 L624.37,142.70 L625.82,142.64 L627.27,142.59 L628.73,142.53 L630.18,142.47 L631.63,142.41 L633.08,142.35 L634.53,142.29 L635.99,142.23 L637.44,142.17 L638.89,142.11 L640.35,142.05 L641.80,141.99 L643.25,141.92 L644.70,141.86 L646.15,141.80 L647.61,141.74 L649.06,141.67 L650.51,141.61 L651.96,141.54 L653.42,141.48 L654.87,141.42 L656.32,141.35 L657.77,141.29 L659.23,141.22 L660.68,141.16 L662.13,141.09 L663.59,141.03 L665.04,140.96 L666.49,140.90 L667.94,140.83 L669.39,140.77 L670.85,140.70 L672.30,140.63 L672.30,161.83 L670.85,161.85 L669.39,161.86 L667.94,161.88 L666.49,161.89 L665.04,161.90 L663.59,161.92 L662.13,161.93 L660.68,161.94 L659.23,161.96 L657.77,161.97 L656.32,161.99 L654.87,162.00 L653.42,162.01 L651.96,162.03 L650.51,162.04 L649.06,162.05 L647.61,162.07 L646.15,162.08 L644.70,162.09 L643.25,162.11 L641.80,162.12 L640.35,162.14 L638.89,162.15 L637.44,162.16 L635.99,162.18 L634.53,162.19 L633.08,162.20 L631.63,162.22 L630.18,162.23 L628.73,162.24 L627.27,162.26 L625.82,162.27 L624.37,162.28 L622.91,162.29 L621.46,162.31 L620.01,162.32 L618.56,162.33 L617.11,162.35 L615.65,162.36 L614.20,162.37 L612.75,162.38 L611.29,162.40 L609.84,162.41 L608.39,162.42 L606.94,162.43 L605.49,162.45 L604.03,162.46 L602.58,162.47 L601.13,162.48 L599.67,162.49 L598.22,162.51 L596.77,162.52 L595.32,162.53 L593.87,162.54 L592.41,162.55 L590.96,162.56 L589.51,162.58 L588.06,162.59 L586.60,162.60 L585.15,162.61 L583.70,162.62 L582.25,162.63 L580.79,162.64 L579.34,162.65 L577.89,162.66 L576.43,162.67 L574.98,162.68 L573.53,162.69 L572.08,162.70 L570.62,162.71 L569.17,162.72 L567.72,162.73 L566.27,162.74 L564.82,162.75 L563.36,162.76 L561.91,162.77 L560.46,162.78 L559.00,162.79 L557.55,162.80 L556.10,162.81 L554.65,162.82 L553.19,162.83 L551.74,162.84 L550.29,162.84 L548.84,162.85 L547.38,162.86 L545.93,162.87 L544.48,162.87 L543.03,162.88 L541.58,162.89 L540.12,162.89 L538.67,162.90 L537.22,162.90 L535.76,162.91 L534.31,162.91 L532.86,162.92 L531.41,162.92 L529.96,162.92 L528.50,162.93 L527.05,162.93 L525.60,162.93 L524.14,162.93 L522.69,162.93 L521.24,162.93 L519.79,162.92 L518.34,162.92 L516.88,162.92 L515.43,162.91 L513.98,162.91 L512.52,162.90 L511.07,162.90 L509.62,162.89 L508.17,162.88 L506.72,162.87 L505.26,162.86 L503.81,162.85 L502.36,162.84 L500.90,162.83 L499.45,162.81 L498.00,162.80 L496.55,162.78 L495.10,162.76 L493.64,162.75 L492.19,162.73 L490.74,162.71 L489.29,162.69 L487.83,162.67 L486.38,162.64 L484.93,162.62 L483.48,162.60 L482.02,162.58 L480.57,162.56 L479.12,162.54 L477.67,162.51 L476.21,162.49 L474.76,162.47 L473.31,162.45 L471.86,162.43 L470.40,162.41 L468.95,162.39 L467.50,162.37 L466.05,162.35 L464.59,162.34 L463.14,162.32 L461.69,162.31 L460.24,162.30 L458.78,162.28 L457.33,162.27 L455.88,162.26 L454.43,162.26 L452.97,162.25 L451.52,162.25 L450.07,162.25 L448.62,162.25 L447.16,162.25 L445.71,162.25 L444.26,162.26 L442.81,162.27 L441.35,162.28 L439.90,162.29 L438.45,162.31 L437.00,162.33 L435.54,162.35 L434.09,162.37 L432.64,162.40 L431.19,162.43 L429.73,162.46 L428.28,162.50 L426.83,162.53 L425.38,162.57 L423.92,162.61 L422.47,162.65 L421.02,162.70 L419.56,162.75 L418.11,162.79 L416.66,162.85 L415.21,162.90 L413.75,162.95 L412.30,163.01 L410.85,163.06 L409.40,163.12 L407.94,163.18 L406.49,163.24 L405.04,163.30 L403.59,163.37 L402.13,163.43 L400.68,163.50 L399.23,163.56 L397.78,163.63 L396.32,163.70 L394.87,163.77 L393.42,163.84 L391.97,163.91 L390.51,163.98 L389.06,164.05 L387.61,164.12 L386.16,164.19 L384.70,164.26 L383.25,164.33 L381.80,164.40 Z" fill="rgb(0,0,255)" fill-opacity="0.2" stroke="none"/>
<path d="M381.80,154.45 L383.25,154.46 L384.70,154.47 L386.16,154.48 L387.61,154.49 L389.06,154.50 L390.51,154.51 L391.97,154.51 L393.42,154.52 L394.87,154.53 L396.32,154.54 L397.78,154.55 L399.23,154.56 L400.68,154.57 L402.13,154.58 L403.59,154.58 L405.04,154.59 L406.49,154.60 L407.94,154.60 L409.40,154.61 L410.85,154.62 L412.30,154.62 L413.75,154.62 L415.21,154.63 L416.66,154.63 L418.11,154.64 L419.56,154.64 L421.02,154.64 L422.47,154.64 L423.92,154.64 L425.38,154.64 L426.83,154.64 L428.28,154.64 L429.73,154.64 L431.19,154.63 L432.64,154.63 L434.09,154.62 L435.54,154.62 L437.00,154.61 L438.45,154.60 L439.90,154.60 L441.35,154.59 L442.81,154.58 L444.26,154.56 L445.71,154.55 L447.16,154.54 L448.62,154.53 L450.07,154.51 L451.52,154.50 L452.97,154.49 L454.43,154.47 L455.88,154.45 L457.33,154.44 L458.78,154.42 L460.24,154.40 L461.69,154.39 L463.14,154.37 L464.59,154.35 L466.05,154.33 L467.50,154.32 L468.95,154.30 L470.40,154.28 L471.86,154.26 L473.31,154.24 L474.76,154.22 L476.21,154.21 L477.67,154.19 L479.12,154.17 L480.57,154.15 L482.02,154.13 L483.48,154.12 L484.93,154.10 L486.38,154.08 L487.83,154.07 L489.29,154.05 L490.74,154.03 L492.19,154.02 L493.64,154.00 L495.10,153.99 L496.55,153.98 L498.00,153.96 L499.45,153.95 L500.90,153.94 L502.36,153.93 L503.81,153.92 L505.26,153.91 L506.72,153.90 L508.17,153.89 L509.62,153.88 L511.07,153.88 L512.52,153.87 L513.98,153.86 L515.43,153.85 L516.88,153.85 L518.34,153.84 L519.79,153.84 L521.24,153.83 L522.69,153.82 L524.14,153.82 L525.60,153.81 L527.05,153.81 L528.50,153.80 L529.96,153.80 L531.41,153.79 L532.86,153.79 L534.31,153.78 L535.76,153.77 L537.22,153.77 L538.67,153.76 L540.12,153.76 L541.58,153.75 L543.03,153.74 L544.48,153.74 L545.93,153.73 L547.38,153.72 L548.84,153.71 L550.29,153.70 L551.74,153.69 L553.19,153.68 L554.65,153.67 L556.10,153.66 L557.55,153.65 L559.00,153.64 L560.46,153.62 L561.91,153.61 L563.36,153.59 L564.82,153.58 L566.27,153.56 L567.72,153.55 L569.17,153.53 L570.62,153.51 L572.08,153.49 L573.53,153.47 L574.98,153.45 L576.43,153.43 L577.89,153.41 L579.34,153.39 L580.79,153.37 L582.25,153.35 L583.70,153.32 L585.15,153.30 L586.60,153.28 L588.06,153.25 L589.51,153.23 L590.96,153.20 L592.41,153.17 L593.87,153.15 L595.32,153.12 L596.77,153.09 L598.22,153.06 L599.67,153.04 L601.13,153.01 L602.58,152.98 L604.03,152.95 L605.49,152.92 L606.94,152.89 L608.39,152.86 L609.84,152.82 L611.29,152.79 L612.75,152.76 L614.20,152.73 L615.65,152.70 L617.11,152.66 L618.56,152.63 L620.01,152.59 L621.46,152.56 L622.91,152.53 L624.37,152.49 L625.82,152.46 L627.27,152.42 L628.73,152.39 L630.18,152.35 L631.63,152.31 L633.08,152.28 L634.53,152.24 L635.99,152.20 L637.44,152.17 L638.89,152.13 L640.35,152.09 L641.80,152.05 L643.25,152.02 L644.70,151.98 L646.15,151.94 L647.61,151.90 L649.06,151.86 L650.51,151.82 L651.96,151.79 L653.42,151.75 L654.87,151.71 L656.32,151.67 L657.77,151.63 L659.23,151.59 L660.68,151.55 L662.13,151.51 L663.59,151.47 L665.04,151.43 L666.49,151.39 L667.94,151.35 L669.39,151.31 L670.85,151.27 L672.30,151.23" fill="none" stroke="#0000ff" stroke-width="1.4" stroke-linejoin="round"/>
<rect x="370.2" y="0.7" width="313.80" height="208.10" fill="none" stroke="#1a1a1a" stroke-width="1.75" stroke-linejoin="round"/>
<line x1="44.40" y1="386.40" x2="359.10" y2="386.40" stroke="#363636" stroke-width="1.75" stroke-dasharray="5.6 3.97"/>
<path d="M56.70,342.29 L58.15,340.84 L59.61,340.16 L61.06,339.60 L62.51,339.10 L63.97,338.64 L65.42,338.21 L66.87,337.80 L68.33,337.40 L69.78,337.01 L71.23,336.64 L72.69,336.27 L74.14,335.91 L75.60,335.55 L77.05,335.20 L78.50,334.86 L79.96,334.52 L81.41,334.18 L82.86,333.85 L84.32,333.52 L85.77,333.20 L87.22,332.87 L88.68,332.55 L90.13,332.23 L91.58,331.91 L93.04,331.59 L94.49,331.28 L95.94,330.97 L97.40,330.66 L98.85,330.35 L100.31,330.04 L101.76,329.73 L103.21,329.42 L104.67,329.12 L106.12,328.81 L107.57,328.51 L109.03,328.20 L110.48,327.90 L111.93,327.60 L113.39,327.30 L114.84,327.00 L116.29,326.70 L117.75,326.40 L119.20,326.11 L120.65,325.81 L122.11,325.51 L123.56,325.22 L125.01,324.92 L126.47,324.63 L127.92,324.33 L129.38,324.04 L130.83,323.75 L132.28,323.45 L133.74,323.16 L135.19,322.87 L136.64,322.58 L138.10,322.29 L139.55,322.00 L141.00,321.71 L142.46,321.42 L143.91,321.13 L145.36,320.84 L146.82,320.55 L148.27,320.26 L149.72,319.97 L151.18,319.68 L152.63,319.40 L154.08,319.11 L155.54,318.82 L156.99,318.53 L158.44,318.25 L159.90,317.96 L161.35,317.68 L162.81,317.39 L164.26,317.11 L165.71,316.82 L167.17,316.54 L168.62,316.25 L170.07,315.97 L171.53,315.69 L172.98,315.40 L174.43,315.12 L175.89,314.84 L177.34,314.55 L178.79,314.27 L180.25,313.99 L181.70,313.71 L183.15,313.43 L184.61,313.14 L186.06,312.86 L187.51,312.58 L188.97,312.30 L190.42,312.02 L191.88,311.74 L193.33,311.46 L194.78,311.18 L196.24,310.90 L197.69,310.62 L199.14,310.35 L200.60,310.07 L202.05,309.79 L203.50,309.51 L204.96,309.23 L206.41,308.96 L207.86,308.68 L209.32,308.40 L210.77,308.12 L212.22,307.85 L213.68,307.57 L215.13,307.29 L216.58,307.02 L218.04,306.74 L219.49,306.47 L220.95,306.19 L222.40,305.92 L223.85,305.64 L225.31,305.37 L226.76,305.09 L228.21,304.82 L229.67,304.55 L231.12,304.27 L232.57,304.00 L234.03,303.73 L235.48,303.45 L236.93,303.18 L238.39,302.91 L239.84,302.64 L241.29,302.37 L242.75,302.09 L244.20,301.82 L245.66,301.55 L247.11,301.28 L248.56,301.01 L250.02,300.74 L251.47,300.47 L252.92,300.20 L254.38,299.93 L255.83,299.66 L257.28,299.39 L258.74,299.12 L260.19,298.85 L261.64,298.59 L263.10,298.32 L264.55,298.05 L266.00,297.78 L267.46,297.52 L268.91,297.25 L270.36,296.98 L271.82,296.71 L273.27,296.45 L274.73,296.18 L276.18,295.92 L277.63,295.65 L279.09,295.39 L280.54,295.12 L281.99,294.86 L283.45,294.59 L284.90,294.33 L286.35,294.06 L287.81,293.80 L289.26,293.54 L290.71,293.27 L292.17,293.01 L293.62,292.75 L295.07,292.48 L296.53,292.22 L297.98,291.96 L299.43,291.70 L300.89,291.44 L302.34,291.18 L303.80,290.92 L305.25,290.65 L306.70,290.39 L308.16,290.13 L309.61,289.87 L311.06,289.62 L312.52,289.36 L313.97,289.10 L315.42,288.84 L316.88,288.58 L318.33,288.32 L319.78,288.06 L321.24,287.81 L322.69,287.55 L324.14,287.29 L325.60,287.04 L327.05,286.78 L328.50,286.52 L329.96,286.27 L331.41,286.01 L332.87,285.76 L334.32,285.50 L335.77,285.25 L337.23,284.99 L338.68,284.74 L340.13,284.48 L341.59,284.23 L343.04,283.98 L344.49,283.72 L345.95,283.47 L347.40,283.22 L347.40,326.88 L345.95,326.97 L344.49,327.07 L343.04,327.16 L341.59,327.26 L340.13,327.36 L338.68,327.45 L337.23,327.55 L335.77,327.65 L334.32,327.75 L332.87,327.85 L331.41,327.96 L329.96,328.06 L328.50,328.16 L327.05,328.27 L325.60,328.37 L324.14,328.48 L322.69,328.58 L321.24,328.69 L319.78,328.80 L318.33,328.91 L316.88,329.01 L315.42,329.12 L313.97,329.24 L312.52,329.35 L311.06,329.46 L309.61,329.57 L308.16,329.68 L306.70,329.80 L305.25,329.91 L303.80,330.03 L302.34,330.15 L300.89,330.26 L299.43,330.38 L297.98,330.50 L296.53,330.62 L295.07,330.74 L293.62,330.86 L292.17,330.98 L290.71,331.10 L289.26,331.22 L287.81,331.34 L286.35,331.46 L284.90,331.59 L283.45,331.71 L281.99,331.84 L280.54,331.96 L279.09,332.09 L277.63,332.22 L276.18,332.34 L274.73,332.47 L273.27,332.60 L271.82,332.73 L270.36,332.86 L268.91,332.99 L267.46,333.12 L266.00,333.25 L264.55,333.38 L263.10,333.51 L261.64,333.65 L260.19,333.78 L258.74,333.91 L257.28,334.05 L255.83,334.18 L254.38,334.32 L252.92,334.45 L251.47,334.59 L250.02,334.73 L248.56,334.86 L247.11,335.00 L245.66,335.14 L244.20,335.28 L242.75,335.42 L241.29,335.56 L239.84,335.70 L238.39,335.84 L236.93,335.98 L235.48,336.12 L234.03,336.26 L232.57,336.40 L231.12,336.55 L229.67,336.69 L228.21,336.83 L226.76,336.98 L225.31,337.12 L223.85,337.27 L222.40,337.41 L220.95,337.56 L219.49,337.70 L218.04,337.85 L216.58,337.99 L215.13,338.14 L213.68,338.29 L212.22,338.43 L210.77,338.58 L209.32,338.73 L207.86,338.88 L206.41,339.03 L204.96,339.18 L203.50,339.33 L202.05,339.48 L200.60,339.63 L199.14,339.78 L197.69,339.93 L196.24,340.08 L194.78,340.23 L193.33,340.38 L191.88,340.53 L190.42,340.69 L188.97,340.84 L187.51,340.99 L186.06,341.14 L184.61,341.30 L183.15,341.45 L181.70,341.60 L180.25,341.76 L178.79,341.91 L177.34,342.07 L175.89,342.22 L174.43,342.38 L172.98,342.53 L171.53,342.69 L170.07,342.85 L168.62,343.00 L167.17,343.16 L165.71,343.32 L164.26,343.47 L162.81,343.63 L161.35,343.79 L159.90,343.95 L158.44,344.10 L156.99,344.26 L155.54,344.42 L154.08,344.58 L152.63,344.74 L151.18,344.90 L149.72,345.06 L148.27,345.22 L146.82,345.38 L145.36,345.54 L143.91,345.71 L142.46,345.87 L141.00,346.03 L139.55,346.19 L138.10,346.36 L136.64,346.52 L135.19,346.69 L133.74,346.85 L132.28,347.02 L130.83,347.18 L129.38,347.35 L127.92,347.52 L126.47,347.69 L125.01,347.86 L123.56,348.03 L122.11,348.20 L120.65,348.37 L119.20,348.54 L117.75,348.72 L116.29,348.89 L114.84,349.07 L113.39,349.24 L111.93,349.42 L110.48,349.60 L109.03,349.78 L107.57,349.97 L106.12,350.15 L104.67,350.34 L103.21,350.53 L101.76,350.72 L100.31,350.92 L98.85,351.11 L97.40,351.31 L95.94,351.52 L94.49,351.72 L93.04,351.93 L91.58,352.15 L90.13,352.37 L88.68,352.59 L87.22,352.82 L85.77,353.06 L84.32,353.30 L82.86,353.55 L81.41,353.81 L79.96,354.08 L78.50,354.36 L77.05,354.65 L75.60,354.96 L74.14,355.28 L72.69,355.63 L71.23,355.99 L69.78,356.38 L68.33,356.81 L66.87,357.27 L65.42,357.79 L63.97,358.37 L62.51,359.04 L61.06,359.84 L59.61,360.86 L58.15,362.29 L56.70,366.41 Z" fill="rgb(255,0,0)" fill-opacity="0.2" stroke="none"/>
<path d="M56.70,355.90 L58.15,352.20 L59.61,350.83 L61.06,349.82 L62.51,349.01 L63.97,348.31 L65.42,347.69 L66.87,347.13 L68.33,346.62 L69.78,346.14 L71.23,345.70 L72.69,345.28 L74.14,344.88 L75.60,344.50 L77.05,344.13 L78.50,343.78 L79.96,343.44 L81.41,343.11 L82.86,342.79 L84.32,342.48 L85.77,342.18 L87.22,341.88 L88.68,341.59 L90.13,341.31 L91.58,341.03 L93.04,340.76 L94.49,340.49 L95.94,340.22 L97.40,339.96 L98.85,339.70 L100.31,339.45 L101.76,339.20 L103.21,338.95 L104.67,338.70 L106.12,338.46 L107.57,338.22 L109.03,337.98 L110.48,337.74 L111.93,337.50 L113.39,337.27 L114.84,337.04 L116.29,336.81 L117.75,336.58 L119.20,336.35 L120.65,336.12 L122.11,335.90 L123.56,335.67 L125.01,335.45 L126.47,335.23 L127.92,335.01 L129.38,334.79 L130.83,334.57 L132.28,334.35 L133.74,334.13 L135.19,333.91 L136.64,333.69 L138.10,333.48 L139.55,333.26 L141.00,333.05 L142.46,332.83 L143.91,332.62 L145.36,332.41 L146.82,332.19 L148.27,331.98 L149.72,331.77 L151.18,331.56 L152.63,331.35 L154.08,331.14 L155.54,330.93 L156.99,330.72 L158.44,330.51 L159.90,330.30 L161.35,330.09 L162.81,329.88 L164.26,329.67 L165.71,329.46 L167.17,329.25 L168.62,329.04 L170.07,328.84 L171.53,328.63 L172.98,328.42 L174.43,328.22 L175.89,328.01 L177.34,327.80 L178.79,327.60 L180.25,327.39 L181.70,327.18 L183.15,326.98 L184.61,326.77 L186.06,326.57 L187.51,326.36 L188.97,326.16 L190.42,325.95 L191.88,325.75 L193.33,325.54 L194.78,325.34 L196.24,325.13 L197.69,324.93 L199.14,324.73 L200.60,324.52 L202.05,324.32 L203.50,324.11 L204.96,323.91 L206.41,323.71 L207.86,323.50 L209.32,323.30 L210.77,323.10 L212.22,322.89 L213.68,322.69 L215.13,322.49 L216.58,322.29 L218.04,322.08 L219.49,321.88 L220.95,321.68 L222.40,321.48 L223.85,321.28 L225.31,321.07 L226.76,320.87 L228.21,320.67 L229.67,320.47 L231.12,320.27 L232.57,320.07 L234.03,319.87 L235.48,319.67 L236.93,319.47 L238.39,319.27 L239.84,319.07 L241.29,318.87 L242.75,318.67 L244.20,318.47 L245.66,318.27 L247.11,318.07 L248.56,317.87 L250.02,317.67 L251.47,317.47 L252.92,317.27 L254.38,317.07 L255.83,316.87 L257.28,316.67 L258.74,316.48 L260.19,316.28 L261.64,316.08 L263.10,315.88 L264.55,315.68 L266.00,315.49 L267.46,315.29 L268.91,315.09 L270.36,314.89 L271.82,314.70 L273.27,314.50 L274.73,314.30 L276.18,314.11 L277.63,313.91 L279.09,313.72 L280.54,313.52 L281.99,313.33 L283.45,313.13 L284.90,312.93 L286.35,312.74 L287.81,312.54 L289.26,312.35 L290.71,312.16 L292.17,311.96 L293.62,311.77 L295.07,311.57 L296.53,311.38 L297.98,311.19 L299.43,310.99 L300.89,310.80 L302.34,310.61 L303.80,310.42 L305.25,310.22 L306.70,310.03 L308.16,309.84 L309.61,309.65 L311.06,309.46 L312.52,309.27 L313.97,309.08 L315.42,308.89 L316.88,308.70 L318.33,308.50 L319.78,308.32 L321.24,308.13 L322.69,307.94 L324.14,307.75 L325.60,307.56 L327.05,307.37 L328.50,307.18 L329.96,306.99 L331.41,306.81 L332.87,306.62 L334.32,306.43 L335.77,306.24 L337.23,306.06 L338.68,305.87 L340.13,305.68 L341.59,305.50 L343.04,305.31 L344.49,305.13 L345.95,304.94 L347.40,304.76" fill="none" stroke="#ff0000" stroke-width="1.4" stroke-linejoin="round"/>
<path d="M56.70,352.03 L58.15,351.98 L59.61,351.93 L61.06,351.87 L62.51,351.82 L63.97,351.77 L65.42,351.71 L66.87,351.66 L68.33,351.61 L69.78,351.55 L71.23,351.50 L72.69,351.44 L74.14,351.39 L75.60,351.33 L77.05,351.28 L78.50,351.22 L79.96,351.16 L81.41,351.11 L82.86,351.05 L84.32,350.99 L85.77,350.93 L87.22,350.87 L88.68,350.81 L90.13,350.75 L91.58,350.69 L93.04,350.63 L94.49,350.56 L95.94,350.50 L97.40,350.43 L98.85,350.37 L100.31,350.30 L101.76,350.23 L103.21,350.17 L104.67,350.10 L106.12,350.02 L107.57,349.95 L109.03,349.88 L110.48,349.81 L111.93,349.73 L113.39,349.65 L114.84,349.58 L116.29,349.50 L117.75,349.42 L119.20,349.33 L120.65,349.25 L122.11,349.17 L123.56,349.08 L125.01,349.00 L126.47,348.91 L127.92,348.82 L129.38,348.73 L130.83,348.64 L132.28,348.55 L133.74,348.46 L135.19,348.37 L136.64,348.27 L138.10,348.18 L139.55,348.08 L141.00,347.98 L142.46,347.89 L143.91,347.79 L145.36,347.69 L146.82,347.59 L148.27,347.49 L149.72,347.39 L151.18,347.29 L152.63,347.18 L154.08,347.08 L155.54,346.98 L156.99,346.87 L158.44,346.77 L159.90,346.66 L161.35,346.56 L162.81,346.45 L164.26,346.34 L165.71,346.23 L167.17,346.12 L168.62,346.01 L170.07,345.90 L171.53,345.79 L172.98,345.68 L174.43,345.56 L175.89,345.45 L177.34,345.33 L178.79,345.22 L180.25,345.10 L181.70,344.98 L183.15,344.86 L184.61,344.74 L186.06,344.61 L187.51,344.49 L188.97,344.36 L190.42,344.23 L191.88,344.11 L193.33,343.98 L194.78,343.84 L196.24,343.71 L197.69,343.57 L199.14,343.44 L200.60,343.30 L202.05,343.16 L203.50,343.01 L204.96,342.87 L206.41,342.72 L207.86,342.57 L209.32,342.42 L210.77,342.27 L212.22,342.12 L213.68,341.96 L215.13,341.80 L216.58,341.64 L218.04,341.48 L219.49,341.31 L220.95,341.14 L222.40,340.97 L223.85,340.80 L225.31,340.63 L226.76,340.45 L228.21,340.27 L229.67,340.09 L231.12,339.90 L232.57,339.71 L234.03,339.52 L235.48,339.33 L236.93,339.13 L238.39,338.93 L239.84,338.73 L241.29,338.53 L242.75,338.32 L244.20,338.11 L245.66,337.90 L247.11,337.68 L248.56,337.46 L250.02,337.24 L251.47,337.01 L252.92,336.78 L254.38,336.55 L255.83,336.31 L257.28,336.07 L258.74,335.83 L260.19,335.58 L261.64,335.33 L263.10,335.08 L264.55,334.82 L266.00,334.56 L267.46,334.30 L268.91,334.03 L270.36,333.76 L271.82,333.49 L273.27,333.22 L274.73,332.94 L276.18,332.65 L277.63,332.37 L279.09,332.08 L280.54,331.79 L281.99,331.50 L283.45,331.20 L284.90,330.90 L286.35,330.60 L287.81,330.29 L289.26,329.99 L290.71,329.68 L292.17,329.37 L293.62,329.05 L295.07,328.74 L296.53,328.42 L297.98,328.10 L299.43,327.78 L300.89,327.45 L302.34,327.12 L303.80,326.80 L305.25,326.47 L306.70,326.13 L308.16,325.80 L309.61,325.47 L311.06,325.13 L312.52,324.79 L313.97,324.45 L315.42,324.11 L316.88,323.77 L318.33,323.42 L319.78,323.08 L321.24,322.73 L322.69,322.39 L324.14,322.04 L325.60,321.69 L327.05,321.34 L328.50,320.99 L329.96,320.64 L331.41,320.28 L332.87,319.93 L334.32,319.58 L335.77,319.22 L337.23,318.87 L338.68,318.51 L340.13,318.16 L341.59,317.80 L343.04,317.45 L344.49,317.09 L345.95,316.73 L347.40,316.38 L347.40,347.21 L345.95,347.35 L344.49,347.49 L343.04,347.63 L341.59,347.77 L340.13,347.91 L338.68,348.05 L337.23,348.19 L335.77,348.33 L334.32,348.46 L332.87,348.60 L331.41,348.74 L329.96,348.88 L328.50,349.02 L327.05,349.16 L325.60,349.30 L324.14,349.43 L322.69,349.57 L321.24,349.71 L319.78,349.85 L318.33,349.99 L316.88,350.12 L315.42,350.26 L313.97,350.40 L312.52,350.54 L311.06,350.67 L309.61,350.81 L308.16,350.95 L306.70,351.08 L305.25,351.22 L303.80,351.35 L302.34,351.49 L300.89,351.63 L299.43,351.76 L297.98,351.90 L296.53,352.03 L295.07,352.17 L293.62,352.30 L292.17,352.44 L290.71,352.57 L289.26,352.70 L287.81,352.84 L286.35,352.97 L284.90,353.10 L283.45,353.24 L281.99,353.37 L280.54,353.50 L279.09,353.63 L277.63,353.76 L276.18,353.89 L274.73,354.02 L273.27,354.15 L271.82,354.28 L270.36,354.41 L268.91,354.54 L267.46,354.67 L266.00,354.80 L264.55,354.93 L263.10,355.06 L261.64,355.18 L260.19,355.31 L258.74,355.44 L257.28,355.56 L255.83,355.69 L254.38,355.81 L252.92,355.94 L251.47,356.06 L250.02,356.18 L248.56,356.31 L247.11,356.43 L245.66,356.55 L244.20,356.67 L242.75,356.79 L241.29,356.92 L239.84,357.04 L238.39,357.16 L236.93,357.28 L235.48,357.40 L234.03,357.52 L232.57,357.64 L231.12,357.76 L229.67,357.88 L228.21,358.00 L226.76,358.12 L225.31,358.24 L223.85,358.36 L222.40,358.48 L220.95,358.60 L219.49,358.72 L218.04,358.84 L216.58,358.96 L215.13,359.08 L213.68,359.20 L212.22,359.32 L210.77,359.44 L209.32,359.56 L207.86,359.68 L206.41,359.80 L204.96,359.92 L203.50,360.05 L202.05,360.17 L200.60,360.29 L199.14,360.41 L197.69,360.54 L196.24,360.66 L194.78,360.79 L193.33,360.91 L191.88,361.04 L190.42,361.16 L188.97,361.29 L187.51,361.42 L186.06,361.54 L184.61,361.67 L183.15,361.80 L181.70,361.93 L180.25,362.06 L178.79,362.19 L177.34,362.32 L175.89,362.46 L174.43,362.59 L172.98,362.72 L171.53,362.86 L170.07,362.99 L168.62,363.13 L167.17,363.27 L165.71,363.41 L164.26,363.55 L162.81,363.69 L161.35,363.83 L159.90,363.97 L158.44,364.11 L156.99,364.26 L155.54,364.40 L154.08,364.55 L152.63,364.70 L151.18,364.84 L149.72,364.99 L148.27,365.14 L146.82,365.30 L145.36,365.45 L143.91,365.60 L142.46,365.76 L141.00,365.91 L139.55,366.07 L138.10,366.22 L136.64,366.38 L135.19,366.54 L133.74,366.69 L132.28,366.85 L130.83,367.01 L129.38,367.17 L127.92,367.33 L126.47,367.49 L125.01,367.66 L123.56,367.82 L122.11,367.98 L120.65,368.14 L119.20,368.31 L117.75,368.47 L116.29,368.63 L114.84,368.80 L113.39,368.96 L111.93,369.12 L110.48,369.29 L109.03,369.45 L107.57,369.62 L106.12,369.78 L104.67,369.95 L103.21,370.12 L101.76,370.28 L100.31,370.45 L98.85,370.61 L97.40,370.78 L95.94,370.95 L94.49,371.11 L93.04,371.28 L91.58,371.45 L90.13,371.61 L88.68,371.78 L87.22,371.95 L85.77,372.12 L84.32,372.28 L82.86,372.45 L81.41,372.62 L79.96,372.79 L78.50,372.95 L77.05,373.12 L75.60,373.29 L74.14,373.46 L72.69,373.63 L71.23,373.79 L69.78,373.96 L68.33,374.13 L66.87,374.30 L65.42,374.47 L63.97,374.64 L62.51,374.80 L61.06,374.97 L59.61,375.14 L58.15,375.31 L56.70,375.48 Z" fill="rgb(255,140,0)" fill-opacity="0.2" stroke="none"/>
<path d="M56.70,363.76 L58.15,363.64 L59.61,363.53 L61.06,363.42 L62.51,363.31 L63.97,363.20 L65.42,363.09 L66.87,362.98 L68.33,362.87 L69.78,362.76 L71.23,362.65 L72.69,362.53 L74.14,362.42 L75.60,362.31 L77.05,362.20 L78.50,362.09 L79.96,361.97 L81.41,361.86 L82.86,361.75 L84.32,361.64 L85.77,361.52 L87.22,361.41 L88.68,361.30 L90.13,361.18 L91.58,361.07 L93.04,360.95 L94.49,360.84 L95.94,360.72 L97.40,360.61 L98.85,360.49 L100.31,360.37 L101.76,360.26 L103.21,360.14 L104.67,360.02 L106.12,359.90 L107.57,359.79 L109.03,359.67 L110.48,359.55 L111.93,359.43 L113.39,359.31 L114.84,359.19 L116.29,359.06 L117.75,358.94 L119.20,358.82 L120.65,358.70 L122.11,358.57 L123.56,358.45 L125.01,358.33 L126.47,358.20 L127.92,358.08 L129.38,357.95 L130.83,357.83 L132.28,357.70 L133.74,357.58 L135.19,357.45 L136.64,357.33 L138.10,357.20 L139.55,357.07 L141.00,356.95 L142.46,356.82 L143.91,356.70 L145.36,356.57 L146.82,356.44 L148.27,356.32 L149.72,356.19 L151.18,356.07 L152.63,355.94 L154.08,355.81 L155.54,355.69 L156.99,355.56 L158.44,355.44 L159.90,355.32 L161.35,355.19 L162.81,355.07 L164.26,354.94 L165.71,354.82 L167.17,354.70 L168.62,354.57 L170.07,354.45 L171.53,354.32 L172.98,354.20 L174.43,354.08 L175.89,353.95 L177.34,353.83 L178.79,353.70 L180.25,353.58 L181.70,353.45 L183.15,353.33 L184.61,353.20 L186.06,353.08 L187.51,352.95 L188.97,352.83 L190.42,352.70 L191.88,352.57 L193.33,352.44 L194.78,352.31 L196.24,352.19 L197.69,352.06 L199.14,351.92 L200.60,351.79 L202.05,351.66 L203.50,351.53 L204.96,351.40 L206.41,351.26 L207.86,351.13 L209.32,350.99 L210.77,350.85 L212.22,350.72 L213.68,350.58 L215.13,350.44 L216.58,350.30 L218.04,350.16 L219.49,350.01 L220.95,349.87 L222.40,349.73 L223.85,349.58 L225.31,349.43 L226.76,349.28 L228.21,349.13 L229.67,348.98 L231.12,348.83 L232.57,348.68 L234.03,348.52 L235.48,348.36 L236.93,348.21 L238.39,348.05 L239.84,347.88 L241.29,347.72 L242.75,347.56 L244.20,347.39 L245.66,347.22 L247.11,347.05 L248.56,346.88 L250.02,346.71 L251.47,346.53 L252.92,346.36 L254.38,346.18 L255.83,346.00 L257.28,345.82 L258.74,345.63 L260.19,345.45 L261.64,345.26 L263.10,345.07 L264.55,344.88 L266.00,344.68 L267.46,344.49 L268.91,344.29 L270.36,344.09 L271.82,343.89 L273.27,343.68 L274.73,343.48 L276.18,343.27 L277.63,343.07 L279.09,342.86 L280.54,342.64 L281.99,342.43 L283.45,342.22 L284.90,342.00 L286.35,341.78 L287.81,341.57 L289.26,341.34 L290.71,341.12 L292.17,340.90 L293.62,340.68 L295.07,340.45 L296.53,340.22 L297.98,340.00 L299.43,339.77 L300.89,339.54 L302.34,339.31 L303.80,339.08 L305.25,338.84 L306.70,338.61 L308.16,338.37 L309.61,338.14 L311.06,337.90 L312.52,337.66 L313.97,337.42 L315.42,337.19 L316.88,336.95 L318.33,336.70 L319.78,336.46 L321.24,336.22 L322.69,335.98 L324.14,335.74 L325.60,335.49 L327.05,335.25 L328.50,335.00 L329.96,334.76 L331.41,334.51 L332.87,334.27 L334.32,334.02 L335.77,333.77 L337.23,333.53 L338.68,333.28 L340.13,333.03 L341.59,332.79 L343.04,332.54 L344.49,332.29 L345.95,332.04 L347.40,331.80" fill="none" stroke="#ff8c00" stroke-width="1.4" stroke-linejoin="round"/>
<path d="M56.70,355.40 L58.15,355.42 L59.61,355.44 L61.06,355.46 L62.51,355.47 L63.97,355.49 L65.42,355.51 L66.87,355.52 L68.33,355.54 L69.78,355.56 L71.23,355.57 L72.69,355.59 L74.14,355.61 L75.60,355.62 L77.05,355.64 L78.50,355.65 L79.96,355.67 L81.41,355.68 L82.86,355.70 L84.32,355.71 L85.77,355.72 L87.22,355.74 L88.68,355.75 L90.13,355.76 L91.58,355.78 L93.04,355.79 L94.49,355.80 L95.94,355.81 L97.40,355.82 L98.85,355.83 L100.31,355.84 L101.76,355.84 L103.21,355.85 L104.67,355.86 L106.12,355.86 L107.57,355.87 L109.03,355.87 L110.48,355.88 L111.93,355.88 L113.39,355.89 L114.84,355.89 L116.29,355.89 L117.75,355.89 L119.20,355.89 L120.65,355.89 L122.11,355.88 L123.56,355.88 L125.01,355.88 L126.47,355.87 L127.92,355.86 L129.38,355.86 L130.83,355.85 L132.28,355.84 L133.74,355.83 L135.19,355.82 L136.64,355.80 L138.10,355.79 L139.55,355.77 L141.00,355.75 L142.46,355.74 L143.91,355.72 L145.36,355.69 L146.82,355.67 L148.27,355.65 L149.72,355.62 L151.18,355.59 L152.63,355.56 L154.08,355.53 L155.54,355.50 L156.99,355.47 L158.44,355.43 L159.90,355.39 L161.35,355.36 L162.81,355.31 L164.26,355.27 L165.71,355.23 L167.17,355.18 L168.62,355.13 L170.07,355.08 L171.53,355.03 L172.98,354.98 L174.43,354.93 L175.89,354.87 L177.34,354.81 L178.79,354.75 L180.25,354.69 L181.70,354.63 L183.15,354.56 L184.61,354.50 L186.06,354.43 L187.51,354.36 L188.97,354.29 L190.42,354.22 L191.88,354.14 L193.33,354.07 L194.78,353.99 L196.24,353.91 L197.69,353.83 L199.14,353.74 L200.60,353.66 L202.05,353.57 L203.50,353.49 L204.96,353.40 L206.41,353.30 L207.86,353.21 L209.32,353.12 L210.77,353.02 L212.22,352.92 L213.68,352.83 L215.13,352.73 L216.58,352.62 L218.04,352.52 L219.49,352.41 L220.95,352.31 L222.40,352.20 L223.85,352.09 L225.31,351.98 L226.76,351.86 L228.21,351.75 L229.67,351.63 L231.12,351.51 L232.57,351.39 L234.03,351.27 L235.48,351.15 L236.93,351.03 L238.39,350.90 L239.84,350.77 L241.29,350.64 L242.75,350.51 L244.20,350.38 L245.66,350.25 L247.11,350.11 L248.56,349.98 L250.02,349.84 L251.47,349.70 L252.92,349.56 L254.38,349.41 L255.83,349.27 L257.28,349.12 L258.74,348.98 L260.19,348.83 L261.64,348.68 L263.10,348.53 L264.55,348.37 L266.00,348.22 L267.46,348.06 L268.91,347.91 L270.36,347.75 L271.82,347.59 L273.27,347.43 L274.73,347.27 L276.18,347.10 L277.63,346.94 L279.09,346.78 L280.54,346.61 L281.99,346.44 L283.45,346.27 L284.90,346.11 L286.35,345.94 L287.81,345.77 L289.26,345.59 L290.71,345.42 L292.17,345.25 L293.62,345.07 L295.07,344.90 L296.53,344.72 L297.98,344.54 L299.43,344.37 L300.89,344.19 L302.34,344.01 L303.80,343.83 L305.25,343.65 L306.70,343.47 L308.16,343.29 L309.61,343.10 L311.06,342.92 L312.52,342.74 L313.97,342.55 L315.42,342.37 L316.88,342.18 L318.33,342.00 L319.78,341.81 L321.24,341.62 L322.69,341.44 L324.14,341.25 L325.60,341.06 L327.05,340.87 L328.50,340.69 L329.96,340.50 L331.41,340.31 L332.87,340.12 L334.32,339.93 L335.77,339.74 L337.23,339.55 L338.68,339.36 L340.13,339.17 L341.59,338.98 L343.04,338.79 L344.49,338.60 L345.95,338.41 L347.40,338.22 L347.40,364.88 L345.95,365.02 L344.49,365.15 L343.04,365.29 L341.59,365.43 L340.13,365.56 L338.68,365.70 L337.23,365.84 L335.77,365.97 L334.32,366.11 L332.87,366.24 L331.41,366.38 L329.96,366.51 L328.50,366.65 L327.05,366.78 L325.60,366.91 L324.14,367.04 L322.69,367.17 L321.24,367.31 L319.78,367.44 L318.33,367.56 L316.88,367.69 L315.42,367.82 L313.97,367.95 L312.52,368.07 L311.06,368.20 L309.61,368.32 L308.16,368.44 L306.70,368.56 L305.25,368.68 L303.80,368.80 L302.34,368.92 L300.89,369.04 L299.43,369.15 L297.98,369.27 L296.53,369.38 L295.07,369.49 L293.62,369.60 L292.17,369.71 L290.71,369.82 L289.26,369.92 L287.81,370.02 L286.35,370.12 L284.90,370.22 L283.45,370.32 L281.99,370.42 L280.54,370.51 L279.09,370.61 L277.63,370.70 L276.18,370.78 L274.73,370.87 L273.27,370.96 L271.82,371.04 L270.36,371.12 L268.91,371.20 L267.46,371.27 L266.00,371.35 L264.55,371.42 L263.10,371.49 L261.64,371.55 L260.19,371.62 L258.74,371.68 L257.28,371.74 L255.83,371.80 L254.38,371.85 L252.92,371.90 L251.47,371.95 L250.02,372.00 L248.56,372.05 L247.11,372.10 L245.66,372.14 L244.20,372.18 L242.75,372.22 L241.29,372.26 L239.84,372.29 L238.39,372.33 L236.93,372.36 L235.48,372.39 L234.03,372.42 L232.57,372.45 L231.12,372.48 L229.67,372.50 L228.21,372.53 L226.76,372.55 L225.31,372.57 L223.85,372.59 L222.40,372.61 L220.95,372.63 L219.49,372.65 L218.04,372.66 L216.58,372.68 L215.13,372.69 L213.68,372.71 L212.22,372.72 L210.77,372.73 L209.32,372.74 L207.86,372.76 L206.41,372.77 L204.96,372.78 L203.50,372.78 L202.05,372.79 L200.60,372.80 L199.14,372.81 L197.69,372.82 L196.24,372.83 L194.78,372.83 L193.33,372.84 L191.88,372.85 L190.42,372.86 L188.97,372.86 L187.51,372.87 L186.06,372.88 L184.61,372.88 L183.15,372.89 L181.70,372.90 L180.25,372.91 L178.79,372.92 L177.34,372.93 L175.89,372.93 L174.43,372.94 L172.98,372.95 L171.53,372.97 L170.07,372.98 L168.62,372.99 L167.17,373.00 L165.71,373.02 L164.26,373.03 L162.81,373.05 L161.35,373.06 L159.90,373.08 L158.44,373.10 L156.99,373.12 L155.54,373.14 L154.08,373.16 L152.63,373.18 L151.18,373.21 L149.72,373.23 L148.27,373.26 L146.82,373.28 L145.36,373.31 L143.91,373.34 L142.46,373.37 L141.00,373.40 L139.55,373.43 L138.10,373.47 L136.64,373.50 L135.19,373.54 L133.74,373.58 L132.28,373.61 L130.83,373.65 L129.38,373.69 L127.92,373.74 L126.47,373.78 L125.01,373.82 L123.56,373.87 L122.11,373.91 L120.65,373.96 L119.20,374.01 L117.75,374.06 L116.29,374.11 L114.84,374.16 L113.39,374.22 L111.93,374.27 L110.48,374.33 L109.03,374.38 L107.57,374.44 L106.12,374.50 L104.67,374.56 L103.21,374.62 L101.76,374.68 L100.31,374.75 L98.85,374.81 L97.40,374.87 L95.94,374.94 L94.49,375.01 L93.04,375.07 L91.58,375.14 L90.13,375.21 L88.68,375.28 L87.22,375.35 L85.77,375.42 L84.32,375.49 L82.86,375.56 L81.41,375.64 L79.96,375.71 L78.50,375.78 L77.05,375.86 L75.60,375.93 L74.14,376.01 L72.69,376.08 L71.23,376.16 L69.78,376.23 L68.33,376.31 L66.87,376.39 L65.42,376.46 L63.97,376.54 L62.51,376.62 L61.06,376.69 L59.61,376.77 L58.15,376.85 L56.70,376.92 Z" fill="rgb(0,255,255)" fill-opacity="0.2" stroke="none"/>
<path d="M56.70,366.16 L58.15,366.13 L59.61,366.10 L61.06,366.07 L62.51,366.04 L63.97,366.01 L65.42,365.99 L66.87,365.96 L68.33,365.93 L69.78,365.90 L71.23,365.87 L72.69,365.84 L74.14,365.81 L75.60,365.78 L77.05,365.75 L78.50,365.72 L79.96,365.69 L81.41,365.66 L82.86,365.63 L84.32,365.60 L85.77,365.57 L87.22,365.54 L88.68,365.52 L90.13,365.49 L91.58,365.46 L93.04,365.43 L94.49,365.40 L95.94,365.37 L97.40,365.35 L98.85,365.32 L100.31,365.29 L101.76,365.26 L103.21,365.24 L104.67,365.21 L106.12,365.18 L107.57,365.16 L109.03,365.13 L110.48,365.10 L111.93,365.08 L113.39,365.05 L114.84,365.02 L116.29,365.00 L117.75,364.97 L119.20,364.95 L120.65,364.92 L122.11,364.90 L123.56,364.87 L125.01,364.85 L126.47,364.82 L127.92,364.80 L129.38,364.78 L130.83,364.75 L132.28,364.73 L133.74,364.70 L135.19,364.68 L136.64,364.65 L138.10,364.63 L139.55,364.60 L141.00,364.58 L142.46,364.55 L143.91,364.53 L145.36,364.50 L146.82,364.48 L148.27,364.45 L149.72,364.43 L151.18,364.40 L152.63,364.37 L154.08,364.35 L155.54,364.32 L156.99,364.29 L158.44,364.27 L159.90,364.24 L161.35,364.21 L162.81,364.18 L164.26,364.15 L165.71,364.12 L167.17,364.09 L168.62,364.06 L170.07,364.03 L171.53,364.00 L172.98,363.97 L174.43,363.94 L175.89,363.90 L177.34,363.87 L178.79,363.83 L180.25,363.80 L181.70,363.76 L183.15,363.73 L184.61,363.69 L186.06,363.65 L187.51,363.61 L188.97,363.58 L190.42,363.54 L191.88,363.49 L193.33,363.45 L194.78,363.41 L196.24,363.37 L197.69,363.32 L199.14,363.28 L200.60,363.23 L202.05,363.18 L203.50,363.14 L204.96,363.09 L206.41,363.04 L207.86,362.98 L209.32,362.93 L210.77,362.88 L212.22,362.82 L213.68,362.77 L215.13,362.71 L216.58,362.65 L218.04,362.59 L219.49,362.53 L220.95,362.47 L222.40,362.40 L223.85,362.34 L225.31,362.27 L226.76,362.21 L228.21,362.14 L229.67,362.07 L231.12,362.00 L232.57,361.92 L234.03,361.85 L235.48,361.77 L236.93,361.69 L238.39,361.61 L239.84,361.53 L241.29,361.45 L242.75,361.37 L244.20,361.28 L245.66,361.19 L247.11,361.10 L248.56,361.01 L250.02,360.92 L251.47,360.83 L252.92,360.73 L254.38,360.63 L255.83,360.53 L257.28,360.43 L258.74,360.33 L260.19,360.22 L261.64,360.11 L263.10,360.01 L264.55,359.89 L266.00,359.78 L267.46,359.67 L268.91,359.55 L270.36,359.43 L271.82,359.31 L273.27,359.19 L274.73,359.07 L276.18,358.94 L277.63,358.82 L279.09,358.69 L280.54,358.56 L281.99,358.43 L283.45,358.30 L284.90,358.17 L286.35,358.03 L287.81,357.89 L289.26,357.76 L290.71,357.62 L292.17,357.48 L293.62,357.34 L295.07,357.19 L296.53,357.05 L297.98,356.91 L299.43,356.76 L300.89,356.61 L302.34,356.47 L303.80,356.32 L305.25,356.17 L306.70,356.02 L308.16,355.86 L309.61,355.71 L311.06,355.56 L312.52,355.40 L313.97,355.25 L315.42,355.09 L316.88,354.94 L318.33,354.78 L319.78,354.62 L321.24,354.46 L322.69,354.31 L324.14,354.15 L325.60,353.99 L327.05,353.83 L328.50,353.67 L329.96,353.50 L331.41,353.34 L332.87,353.18 L334.32,353.02 L335.77,352.86 L337.23,352.69 L338.68,352.53 L340.13,352.37 L341.59,352.20 L343.04,352.04 L344.49,351.88 L345.95,351.71 L347.40,351.55" fill="none" stroke="#00ffff" stroke-width="1.4" stroke-linejoin="round"/>
<path d="M56.70,359.90 L58.15,360.01 L59.61,360.12 L61.06,360.24 L62.51,360.35 L63.97,360.46 L65.42,360.57 L66.87,360.68 L68.33,360.79 L69.78,360.89 L71.23,361.00 L72.69,361.11 L74.14,361.21 L75.60,361.31 L77.05,361.42 L78.50,361.52 L79.96,361.61 L81.41,361.71 L82.86,361.80 L84.32,361.89 L85.77,361.98 L87.22,362.07 L88.68,362.16 L90.13,362.24 L91.58,362.32 L93.04,362.39 L94.49,362.47 L95.94,362.54 L97.40,362.61 L98.85,362.67 L100.31,362.73 L101.76,362.79 L103.21,362.84 L104.67,362.89 L106.12,362.94 L107.57,362.98 L109.03,363.02 L110.48,363.05 L111.93,363.08 L113.39,363.10 L114.84,363.12 L116.29,363.14 L117.75,363.15 L119.20,363.16 L120.65,363.16 L122.11,363.16 L123.56,363.16 L125.01,363.15 L126.47,363.14 L127.92,363.13 L129.38,363.11 L130.83,363.10 L132.28,363.08 L133.74,363.06 L135.19,363.03 L136.64,363.01 L138.10,362.98 L139.55,362.96 L141.00,362.93 L142.46,362.90 L143.91,362.88 L145.36,362.85 L146.82,362.82 L148.27,362.79 L149.72,362.77 L151.18,362.74 L152.63,362.72 L154.08,362.69 L155.54,362.67 L156.99,362.65 L158.44,362.63 L159.90,362.62 L161.35,362.61 L162.81,362.59 L164.26,362.58 L165.71,362.58 L167.17,362.57 L168.62,362.57 L170.07,362.57 L171.53,362.56 L172.98,362.57 L174.43,362.57 L175.89,362.57 L177.34,362.58 L178.79,362.58 L180.25,362.59 L181.70,362.60 L183.15,362.61 L184.61,362.62 L186.06,362.63 L187.51,362.64 L188.97,362.65 L190.42,362.67 L191.88,362.68 L193.33,362.69 L194.78,362.71 L196.24,362.72 L197.69,362.74 L199.14,362.75 L200.60,362.76 L202.05,362.78 L203.50,362.79 L204.96,362.80 L206.41,362.82 L207.86,362.83 L209.32,362.84 L210.77,362.85 L212.22,362.87 L213.68,362.88 L215.13,362.88 L216.58,362.89 L218.04,362.90 L219.49,362.91 L220.95,362.91 L222.40,362.91 L223.85,362.92 L225.31,362.92 L226.76,362.92 L228.21,362.91 L229.67,362.91 L231.12,362.90 L232.57,362.89 L234.03,362.88 L235.48,362.87 L236.93,362.86 L238.39,362.84 L239.84,362.82 L241.29,362.80 L242.75,362.78 L244.20,362.75 L245.66,362.72 L247.11,362.69 L248.56,362.66 L250.02,362.62 L251.47,362.58 L252.92,362.54 L254.38,362.49 L255.83,362.44 L257.28,362.39 L258.74,362.34 L260.19,362.28 L261.64,362.21 L263.10,362.15 L264.55,362.08 L266.00,362.00 L267.46,361.93 L268.91,361.84 L270.36,361.76 L271.82,361.67 L273.27,361.58 L274.73,361.49 L276.18,361.39 L277.63,361.29 L279.09,361.18 L280.54,361.08 L281.99,360.97 L283.45,360.85 L284.90,360.74 L286.35,360.62 L287.81,360.50 L289.26,360.37 L290.71,360.24 L292.17,360.12 L293.62,359.98 L295.07,359.85 L296.53,359.71 L297.98,359.57 L299.43,359.43 L300.89,359.29 L302.34,359.14 L303.80,359.00 L305.25,358.85 L306.70,358.70 L308.16,358.54 L309.61,358.39 L311.06,358.23 L312.52,358.07 L313.97,357.91 L315.42,357.75 L316.88,357.59 L318.33,357.43 L319.78,357.26 L321.24,357.09 L322.69,356.93 L324.14,356.76 L325.60,356.59 L327.05,356.42 L328.50,356.24 L329.96,356.07 L331.41,355.90 L332.87,355.72 L334.32,355.55 L335.77,355.37 L337.23,355.20 L338.68,355.02 L340.13,354.85 L341.59,354.67 L343.04,354.49 L344.49,354.31 L345.95,354.14 L347.40,353.96 L347.40,377.09 L345.95,377.12 L344.49,377.14 L343.04,377.17 L341.59,377.20 L340.13,377.23 L338.68,377.26 L337.23,377.29 L335.77,377.32 L334.32,377.35 L332.87,377.39 L331.41,377.42 L329.96,377.45 L328.50,377.48 L327.05,377.51 L325.60,377.54 L324.14,377.57 L322.69,377.60 L321.24,377.63 L319.78,377.66 L318.33,377.69 L316.88,377.73 L315.42,377.76 L313.97,377.79 L312.52,377.82 L311.06,377.86 L309.61,377.89 L308.16,377.92 L306.70,377.95 L305.25,377.99 L303.80,378.02 L302.34,378.06 L300.89,378.09 L299.43,378.13 L297.98,378.16 L296.53,378.20 L295.07,378.23 L293.62,378.27 L292.17,378.30 L290.71,378.34 L289.26,378.38 L287.81,378.41 L286.35,378.45 L284.90,378.49 L283.45,378.53 L281.99,378.57 L280.54,378.61 L279.09,378.65 L277.63,378.69 L276.18,378.73 L274.73,378.77 L273.27,378.81 L271.82,378.85 L270.36,378.90 L268.91,378.94 L267.46,378.98 L266.00,379.03 L264.55,379.07 L263.10,379.12 L261.64,379.16 L260.19,379.21 L258.74,379.25 L257.28,379.30 L255.83,379.34 L254.38,379.39 L252.92,379.44 L251.47,379.48 L250.02,379.53 L248.56,379.58 L247.11,379.62 L245.66,379.67 L244.20,379.71 L242.75,379.76 L241.29,379.81 L239.84,379.85 L238.39,379.90 L236.93,379.94 L235.48,379.99 L234.03,380.03 L232.57,380.08 L231.12,380.12 L229.67,380.16 L228.21,380.21 L226.76,380.25 L225.31,380.29 L223.85,380.34 L222.40,380.38 L220.95,380.42 L219.49,380.46 L218.04,380.50 L216.58,380.54 L215.13,380.57 L213.68,380.61 L212.22,380.65 L210.77,380.69 L209.32,380.72 L207.86,380.76 L206.41,380.79 L204.96,380.82 L203.50,380.85 L202.05,380.89 L200.60,380.92 L199.14,380.95 L197.69,380.97 L196.24,381.00 L194.78,381.03 L193.33,381.05 L191.88,381.08 L190.42,381.10 L188.97,381.12 L187.51,381.14 L186.06,381.16 L184.61,381.18 L183.15,381.20 L181.70,381.21 L180.25,381.23 L178.79,381.24 L177.34,381.25 L175.89,381.26 L174.43,381.27 L172.98,381.28 L171.53,381.28 L170.07,381.29 L168.62,381.29 L167.17,381.29 L165.71,381.29 L164.26,381.29 L162.81,381.29 L161.35,381.28 L159.90,381.27 L158.44,381.26 L156.99,381.25 L155.54,381.24 L154.08,381.23 L152.63,381.21 L151.18,381.20 L149.72,381.18 L148.27,381.16 L146.82,381.14 L145.36,381.12 L143.91,381.10 L142.46,381.08 L141.00,381.06 L139.55,381.03 L138.10,381.01 L136.64,380.99 L135.19,380.97 L133.74,380.95 L132.28,380.93 L130.83,380.91 L129.38,380.89 L127.92,380.87 L126.47,380.86 L125.01,380.84 L123.56,380.83 L122.11,380.81 L120.65,380.80 L119.20,380.79 L117.75,380.79 L116.29,380.78 L114.84,380.78 L113.39,380.78 L111.93,380.78 L110.48,380.79 L109.03,380.79 L107.57,380.80 L106.12,380.81 L104.67,380.83 L103.21,380.84 L101.76,380.86 L100.31,380.88 L98.85,380.90 L97.40,380.93 L95.94,380.95 L94.49,380.98 L93.04,381.01 L91.58,381.04 L90.13,381.07 L88.68,381.10 L87.22,381.13 L85.77,381.17 L84.32,381.21 L82.86,381.25 L81.41,381.28 L79.96,381.32 L78.50,381.37 L77.05,381.41 L75.60,381.45 L74.14,381.50 L72.69,381.54 L71.23,381.59 L69.78,381.63 L68.33,381.68 L66.87,381.73 L65.42,381.77 L63.97,381.82 L62.51,381.87 L61.06,381.92 L59.61,381.97 L58.15,382.01 L56.70,382.06 Z" fill="rgb(0,0,255)" fill-opacity="0.2" stroke="none"/>
<path d="M56.70,370.98 L58.15,371.01 L59.61,371.05 L61.06,371.08 L62.51,371.11 L63.97,371.14 L65.42,371.17 L66.87,371.20 L68.33,371.23 L69.78,371.26 L71.23,371.29 L72.69,371.32 L74.14,371.35 L75.60,371.38 L77.05,371.41 L78.50,371.44 L79.96,371.47 L81.41,371.50 L82.86,371.52 L84.32,371.55 L85.77,371.58 L87.22,371.60 L88.68,371.63 L90.13,371.65 L91.58,371.68 L93.04,371.70 L94.49,371.72 L95.94,371.74 L97.40,371.77 L98.85,371.79 L100.31,371.81 L101.76,371.82 L103.21,371.84 L104.67,371.86 L106.12,371.88 L107.57,371.89 L109.03,371.91 L110.48,371.92 L111.93,371.93 L113.39,371.94 L114.84,371.95 L116.29,371.96 L117.75,371.97 L119.20,371.98 L120.65,371.98 L122.11,371.99 L123.56,371.99 L125.01,372.00 L126.47,372.00 L127.92,372.00 L129.38,372.00 L130.83,372.00 L132.28,372.00 L133.74,372.00 L135.19,372.00 L136.64,372.00 L138.10,372.00 L139.55,372.00 L141.00,371.99 L142.46,371.99 L143.91,371.99 L145.36,371.98 L146.82,371.98 L148.27,371.98 L149.72,371.97 L151.18,371.97 L152.63,371.96 L154.08,371.96 L155.54,371.96 L156.99,371.95 L158.44,371.95 L159.90,371.95 L161.35,371.94 L162.81,371.94 L164.26,371.94 L165.71,371.93 L167.17,371.93 L168.62,371.93 L170.07,371.93 L171.53,371.92 L172.98,371.92 L174.43,371.92 L175.89,371.92 L177.34,371.91 L178.79,371.91 L180.25,371.91 L181.70,371.91 L183.15,371.90 L184.61,371.90 L186.06,371.90 L187.51,371.89 L188.97,371.89 L190.42,371.88 L191.88,371.88 L193.33,371.87 L194.78,371.87 L196.24,371.86 L197.69,371.85 L199.14,371.85 L200.60,371.84 L202.05,371.83 L203.50,371.82 L204.96,371.81 L206.41,371.80 L207.86,371.79 L209.32,371.78 L210.77,371.77 L212.22,371.76 L213.68,371.74 L215.13,371.73 L216.58,371.71 L218.04,371.70 L219.49,371.68 L220.95,371.66 L222.40,371.64 L223.85,371.63 L225.31,371.60 L226.76,371.58 L228.21,371.56 L229.67,371.54 L231.12,371.51 L232.57,371.49 L234.03,371.46 L235.48,371.43 L236.93,371.40 L238.39,371.37 L239.84,371.34 L241.29,371.30 L242.75,371.27 L244.20,371.23 L245.66,371.20 L247.11,371.16 L248.56,371.12 L250.02,371.08 L251.47,371.03 L252.92,370.99 L254.38,370.94 L255.83,370.89 L257.28,370.85 L258.74,370.79 L260.19,370.74 L261.64,370.69 L263.10,370.63 L264.55,370.57 L266.00,370.51 L267.46,370.45 L268.91,370.39 L270.36,370.33 L271.82,370.26 L273.27,370.20 L274.73,370.13 L276.18,370.06 L277.63,369.99 L279.09,369.92 L280.54,369.84 L281.99,369.77 L283.45,369.69 L284.90,369.61 L286.35,369.53 L287.81,369.46 L289.26,369.37 L290.71,369.29 L292.17,369.21 L293.62,369.13 L295.07,369.04 L296.53,368.95 L297.98,368.87 L299.43,368.78 L300.89,368.69 L302.34,368.60 L303.80,368.51 L305.25,368.42 L306.70,368.33 L308.16,368.23 L309.61,368.14 L311.06,368.04 L312.52,367.95 L313.97,367.85 L315.42,367.76 L316.88,367.66 L318.33,367.56 L319.78,367.46 L321.24,367.36 L322.69,367.26 L324.14,367.16 L325.60,367.06 L327.05,366.96 L328.50,366.86 L329.96,366.76 L331.41,366.66 L332.87,366.55 L334.32,366.45 L335.77,366.35 L337.23,366.25 L338.68,366.14 L340.13,366.04 L341.59,365.94 L343.04,365.83 L344.49,365.73 L345.95,365.63 L347.40,365.52" fill="none" stroke="#0000ff" stroke-width="1.4" stroke-linejoin="round"/>
<rect x="45.1" y="218.2" width="314.00" height="208.00" fill="none" stroke="#1a1a1a" stroke-width="1.75" stroke-linejoin="round"/>
<line x1="41.0" y1="418.52" x2="45.10" y2="418.52" stroke="#111" stroke-width="1.3"/>
<text x="35.7" y="421.92" font-size="9.6" text-anchor="end" fill="#111">-2</text>
<line x1="41.0" y1="386.40" x2="45.10" y2="386.40" stroke="#111" stroke-width="1.3"/>
<text x="35.7" y="389.80" font-size="9.6" text-anchor="end" fill="#111">0</text>
<line x1="41.0" y1="354.28" x2="45.10" y2="354.28" stroke="#111" stroke-width="1.3"/>
<text x="35.7" y="357.68" font-size="9.6" text-anchor="end" fill="#111">2</text>
<line x1="41.0" y1="322.16" x2="45.10" y2="322.16" stroke="#111" stroke-width="1.3"/>
<text x="35.7" y="325.56" font-size="9.6" text-anchor="end" fill="#111">4</text>
<line x1="41.0" y1="290.04" x2="45.10" y2="290.04" stroke="#111" stroke-width="1.3"/>
<text x="35.7" y="293.44" font-size="9.6" text-anchor="end" fill="#111">6</text>
<line x1="41.0" y1="257.92" x2="45.10" y2="257.92" stroke="#111" stroke-width="1.3"/>
<text x="35.7" y="261.32" font-size="9.6" text-anchor="end" fill="#111">8</text>
<line x1="41.0" y1="225.80" x2="45.10" y2="225.80" stroke="#111" stroke-width="1.3"/>
<text x="35.7" y="229.20" font-size="9.6" text-anchor="end" fill="#111">10</text>
<line x1="56.70" y1="426.20" x2="56.70" y2="430.8" stroke="#111" stroke-width="1.3"/>
<text x="56.70" y="441.2" font-size="9.6" text-anchor="middle" fill="#111">0</text>
<line x1="114.84" y1="426.20" x2="114.84" y2="430.8" stroke="#111" stroke-width="1.3"/>
<text x="114.84" y="441.2" font-size="9.6" text-anchor="middle" fill="#111">20</text>
<line x1="172.98" y1="426.20" x2="172.98" y2="430.8" stroke="#111" stroke-width="1.3"/>
<text x="172.98" y="441.2" font-size="9.6" text-anchor="middle" fill="#111">40</text>
<line x1="231.12" y1="426.20" x2="231.12" y2="430.8" stroke="#111" stroke-width="1.3"/>
<text x="231.12" y="441.2" font-size="9.6" text-anchor="middle" fill="#111">60</text>
<line x1="289.26" y1="426.20" x2="289.26" y2="430.8" stroke="#111" stroke-width="1.3"/>
<text x="289.26" y="441.2" font-size="9.6" text-anchor="middle" fill="#111">80</text>
<line x1="347.40" y1="426.20" x2="347.40" y2="430.8" stroke="#111" stroke-width="1.3"/>
<text x="347.40" y="441.2" font-size="9.6" text-anchor="middle" fill="#111">100</text>
<line x1="369.50" y1="386.40" x2="684.00" y2="386.40" stroke="#363636" stroke-width="1.75" stroke-dasharray="5.6 3.97"/>
<path d="M381.80,343.52 L383.25,342.41 L384.70,341.89 L386.16,341.48 L387.61,341.11 L389.06,340.77 L390.51,340.46 L391.97,340.16 L393.42,339.88 L394.87,339.60 L396.32,339.33 L397.78,339.07 L399.23,338.82 L400.68,338.57 L402.13,338.33 L403.59,338.09 L405.04,337.85 L406.49,337.62 L407.94,337.39 L409.40,337.16 L410.85,336.94 L412.30,336.71 L413.75,336.49 L415.21,336.28 L416.66,336.06 L418.11,335.85 L419.56,335.63 L421.02,335.42 L422.47,335.21 L423.92,335.00 L425.38,334.80 L426.83,334.59 L428.28,334.38 L429.73,334.18 L431.19,333.98 L432.64,333.78 L434.09,333.58 L435.54,333.38 L437.00,333.18 L438.45,332.98 L439.90,332.79 L441.35,332.59 L442.81,332.39 L444.26,332.20 L445.71,332.01 L447.16,331.82 L448.62,331.62 L450.07,331.43 L451.52,331.24 L452.97,331.05 L454.43,330.86 L455.88,330.68 L457.33,330.49 L458.78,330.30 L460.24,330.12 L461.69,329.93 L463.14,329.74 L464.59,329.56 L466.05,329.38 L467.50,329.19 L468.95,329.01 L470.40,328.83 L471.86,328.65 L473.31,328.47 L474.76,328.29 L476.21,328.11 L477.67,327.93 L479.12,327.75 L480.57,327.57 L482.02,327.39 L483.48,327.22 L484.93,327.04 L486.38,326.87 L487.83,326.69 L489.29,326.52 L490.74,326.34 L492.19,326.17 L493.64,325.99 L495.10,325.82 L496.55,325.65 L498.00,325.48 L499.45,325.31 L500.90,325.14 L502.36,324.97 L503.81,324.80 L505.26,324.63 L506.72,324.46 L508.17,324.29 L509.62,324.12 L511.07,323.95 L512.52,323.79 L513.98,323.62 L515.43,323.46 L516.88,323.29 L518.34,323.13 L519.79,322.96 L521.24,322.80 L522.69,322.63 L524.14,322.47 L525.60,322.31 L527.05,322.15 L528.50,321.99 L529.96,321.82 L531.41,321.66 L532.86,321.50 L534.31,321.34 L535.76,321.18 L537.22,321.03 L538.67,320.87 L540.12,320.71 L541.58,320.55 L543.03,320.40 L544.48,320.24 L545.93,320.08 L547.38,319.93 L548.84,319.77 L550.29,319.62 L551.74,319.47 L553.19,319.31 L554.65,319.16 L556.10,319.01 L557.55,318.85 L559.00,318.70 L560.46,318.55 L561.91,318.40 L563.36,318.25 L564.82,318.10 L566.27,317.95 L567.72,317.80 L569.17,317.65 L570.62,317.51 L572.08,317.36 L573.53,317.21 L574.98,317.07 L576.43,316.92 L577.89,316.77 L579.34,316.63 L580.79,316.48 L582.25,316.34 L583.70,316.20 L585.15,316.05 L586.60,315.91 L588.06,315.77 L589.51,315.63 L590.96,315.49 L592.41,315.35 L593.87,315.20 L595.32,315.07 L596.77,314.93 L598.22,314.79 L599.67,314.65 L601.13,314.51 L602.58,314.37 L604.03,314.24 L605.49,314.10 L606.94,313.96 L608.39,313.83 L609.84,313.69 L611.29,313.56 L612.75,313.42 L614.20,313.29 L615.65,313.16 L617.11,313.02 L618.56,312.89 L620.01,312.76 L621.46,312.63 L622.91,312.50 L624.37,312.37 L625.82,312.24 L627.27,312.11 L628.73,311.98 L630.18,311.85 L631.63,311.72 L633.08,311.60 L634.53,311.47 L635.99,311.34 L637.44,311.22 L638.89,311.09 L640.35,310.97 L641.80,310.84 L643.25,310.72 L644.70,310.59 L646.15,310.47 L647.61,310.35 L649.06,310.23 L650.51,310.11 L651.96,309.98 L653.42,309.86 L654.87,309.74 L656.32,309.62 L657.77,309.50 L659.23,309.39 L660.68,309.27 L662.13,309.15 L663.59,309.03 L665.04,308.92 L666.49,308.80 L667.94,308.68 L669.39,308.57 L670.85,308.46 L672.30,308.34 L672.30,338.39 L670.85,338.46 L669.39,338.52 L667.94,338.59 L666.49,338.65 L665.04,338.72 L663.59,338.78 L662.13,338.85 L660.68,338.91 L659.23,338.98 L657.77,339.04 L656.32,339.11 L654.87,339.17 L653.42,339.24 L651.96,339.30 L650.51,339.36 L649.06,339.43 L647.61,339.49 L646.15,339.55 L644.70,339.62 L643.25,339.68 L641.80,339.74 L640.35,339.81 L638.89,339.87 L637.44,339.93 L635.99,339.99 L634.53,340.06 L633.08,340.12 L631.63,340.18 L630.18,340.24 L628.73,340.31 L627.27,340.37 L625.82,340.43 L624.37,340.49 L622.91,340.55 L621.46,340.61 L620.01,340.68 L618.56,340.74 L617.11,340.80 L615.65,340.86 L614.20,340.92 L612.75,340.98 L611.29,341.04 L609.84,341.11 L608.39,341.17 L606.94,341.23 L605.49,341.29 L604.03,341.35 L602.58,341.41 L601.13,341.47 L599.67,341.53 L598.22,341.59 L596.77,341.66 L595.32,341.72 L593.87,341.78 L592.41,341.84 L590.96,341.90 L589.51,341.96 L588.06,342.02 L586.60,342.08 L585.15,342.15 L583.70,342.21 L582.25,342.27 L580.79,342.33 L579.34,342.39 L577.89,342.46 L576.43,342.52 L574.98,342.58 L573.53,342.64 L572.08,342.70 L570.62,342.77 L569.17,342.83 L567.72,342.89 L566.27,342.96 L564.82,343.02 L563.36,343.08 L561.91,343.15 L560.46,343.21 L559.00,343.27 L557.55,343.34 L556.10,343.40 L554.65,343.47 L553.19,343.53 L551.74,343.60 L550.29,343.66 L548.84,343.73 L547.38,343.79 L545.93,343.86 L544.48,343.92 L543.03,343.99 L541.58,344.06 L540.12,344.13 L538.67,344.19 L537.22,344.26 L535.76,344.33 L534.31,344.40 L532.86,344.47 L531.41,344.54 L529.96,344.61 L528.50,344.68 L527.05,344.75 L525.60,344.82 L524.14,344.89 L522.69,344.96 L521.24,345.04 L519.79,345.11 L518.34,345.18 L516.88,345.26 L515.43,345.33 L513.98,345.41 L512.52,345.48 L511.07,345.56 L509.62,345.64 L508.17,345.72 L506.72,345.79 L505.26,345.87 L503.81,345.95 L502.36,346.03 L500.90,346.12 L499.45,346.20 L498.00,346.28 L496.55,346.36 L495.10,346.45 L493.64,346.54 L492.19,346.62 L490.74,346.71 L489.29,346.80 L487.83,346.89 L486.38,346.98 L484.93,347.07 L483.48,347.16 L482.02,347.25 L480.57,347.35 L479.12,347.44 L477.67,347.54 L476.21,347.64 L474.76,347.74 L473.31,347.84 L471.86,347.94 L470.40,348.04 L468.95,348.15 L467.50,348.25 L466.05,348.36 L464.59,348.47 L463.14,348.58 L461.69,348.69 L460.24,348.80 L458.78,348.92 L457.33,349.04 L455.88,349.16 L454.43,349.28 L452.97,349.40 L451.52,349.52 L450.07,349.65 L448.62,349.78 L447.16,349.91 L445.71,350.05 L444.26,350.18 L442.81,350.32 L441.35,350.47 L439.90,350.61 L438.45,350.76 L437.00,350.91 L435.54,351.06 L434.09,351.22 L432.64,351.38 L431.19,351.54 L429.73,351.71 L428.28,351.88 L426.83,352.06 L425.38,352.24 L423.92,352.42 L422.47,352.61 L421.02,352.80 L419.56,353.00 L418.11,353.21 L416.66,353.42 L415.21,353.64 L413.75,353.86 L412.30,354.09 L410.85,354.33 L409.40,354.58 L407.94,354.83 L406.49,355.10 L405.04,355.37 L403.59,355.66 L402.13,355.96 L400.68,356.28 L399.23,356.61 L397.78,356.95 L396.32,357.32 L394.87,357.71 L393.42,358.13 L391.97,358.57 L390.51,359.06 L389.06,359.60 L387.61,360.20 L386.16,360.89 L384.70,361.71 L383.25,362.81 L381.80,365.50 Z" fill="rgb(255,0,0)" fill-opacity="0.2" stroke="none"/>
<path d="M381.80,355.27 L383.25,353.41 L384.70,352.58 L386.16,351.92 L387.61,351.35 L389.06,350.84 L390.51,350.37 L391.97,349.94 L393.42,349.53 L394.87,349.15 L396.32,348.78 L397.78,348.43 L399.23,348.10 L400.68,347.77 L402.13,347.46 L403.59,347.16 L405.04,346.86 L406.49,346.58 L407.94,346.30 L409.40,346.03 L410.85,345.77 L412.30,345.51 L413.75,345.26 L415.21,345.02 L416.66,344.78 L418.11,344.54 L419.56,344.31 L421.02,344.08 L422.47,343.86 L423.92,343.64 L425.38,343.43 L426.83,343.22 L428.28,343.01 L429.73,342.81 L431.19,342.61 L432.64,342.41 L434.09,342.21 L435.54,342.02 L437.00,341.83 L438.45,341.65 L439.90,341.46 L441.35,341.28 L442.81,341.10 L444.26,340.92 L445.71,340.75 L447.16,340.58 L448.62,340.41 L450.07,340.24 L451.52,340.07 L452.97,339.91 L454.43,339.74 L455.88,339.58 L457.33,339.42 L458.78,339.27 L460.24,339.11 L461.69,338.96 L463.14,338.80 L464.59,338.65 L466.05,338.50 L467.50,338.36 L468.95,338.21 L470.40,338.06 L471.86,337.92 L473.31,337.78 L474.76,337.64 L476.21,337.49 L477.67,337.36 L479.12,337.22 L480.57,337.08 L482.02,336.95 L483.48,336.81 L484.93,336.68 L486.38,336.55 L487.83,336.42 L489.29,336.29 L490.74,336.16 L492.19,336.03 L493.64,335.90 L495.10,335.78 L496.55,335.65 L498.00,335.53 L499.45,335.40 L500.90,335.28 L502.36,335.16 L503.81,335.04 L505.26,334.92 L506.72,334.80 L508.17,334.68 L509.62,334.56 L511.07,334.45 L512.52,334.33 L513.98,334.21 L515.43,334.10 L516.88,333.98 L518.34,333.87 L519.79,333.76 L521.24,333.65 L522.69,333.54 L524.14,333.42 L525.60,333.31 L527.05,333.20 L528.50,333.10 L529.96,332.99 L531.41,332.88 L532.86,332.77 L534.31,332.67 L535.76,332.56 L537.22,332.45 L538.67,332.35 L540.12,332.24 L541.58,332.14 L543.03,332.04 L544.48,331.93 L545.93,331.83 L547.38,331.73 L548.84,331.63 L550.29,331.53 L551.74,331.43 L553.19,331.32 L554.65,331.22 L556.10,331.13 L557.55,331.03 L559.00,330.93 L560.46,330.83 L561.91,330.73 L563.36,330.63 L564.82,330.54 L566.27,330.44 L567.72,330.34 L569.17,330.25 L570.62,330.15 L572.08,330.06 L573.53,329.96 L574.98,329.87 L576.43,329.77 L577.89,329.68 L579.34,329.58 L580.79,329.49 L582.25,329.40 L583.70,329.30 L585.15,329.21 L586.60,329.12 L588.06,329.03 L589.51,328.93 L590.96,328.84 L592.41,328.75 L593.87,328.66 L595.32,328.57 L596.77,328.48 L598.22,328.39 L599.67,328.30 L601.13,328.21 L602.58,328.12 L604.03,328.03 L605.49,327.94 L606.94,327.85 L608.39,327.76 L609.84,327.67 L611.29,327.58 L612.75,327.49 L614.20,327.41 L615.65,327.32 L617.11,327.23 L618.56,327.14 L620.01,327.05 L621.46,326.97 L622.91,326.88 L624.37,326.79 L625.82,326.71 L627.27,326.62 L628.73,326.53 L630.18,326.45 L631.63,326.36 L633.08,326.27 L634.53,326.19 L635.99,326.10 L637.44,326.01 L638.89,325.93 L640.35,325.84 L641.80,325.76 L643.25,325.67 L644.70,325.59 L646.15,325.50 L647.61,325.41 L649.06,325.33 L650.51,325.24 L651.96,325.16 L653.42,325.07 L654.87,324.99 L656.32,324.90 L657.77,324.82 L659.23,324.73 L660.68,324.65 L662.13,324.57 L663.59,324.48 L665.04,324.40 L666.49,324.31 L667.94,324.23 L669.39,324.14 L670.85,324.06 L672.30,323.97" fill="none" stroke="#ff0000" stroke-width="1.4" stroke-linejoin="round"/>
<path d="M381.80,352.19 L383.25,352.11 L384.70,352.03 L386.16,351.95 L387.61,351.87 L389.06,351.79 L390.51,351.71 L391.97,351.62 L393.42,351.54 L394.87,351.46 L396.32,351.38 L397.78,351.30 L399.23,351.22 L400.68,351.13 L402.13,351.05 L403.59,350.97 L405.04,350.89 L406.49,350.80 L407.94,350.72 L409.40,350.64 L410.85,350.55 L412.30,350.47 L413.75,350.39 L415.21,350.30 L416.66,350.22 L418.11,350.14 L419.56,350.05 L421.02,349.97 L422.47,349.88 L423.92,349.79 L425.38,349.71 L426.83,349.62 L428.28,349.54 L429.73,349.45 L431.19,349.36 L432.64,349.27 L434.09,349.19 L435.54,349.10 L437.00,349.01 L438.45,348.92 L439.90,348.83 L441.35,348.74 L442.81,348.65 L444.26,348.56 L445.71,348.46 L447.16,348.37 L448.62,348.28 L450.07,348.19 L451.52,348.09 L452.97,348.00 L454.43,347.90 L455.88,347.81 L457.33,347.71 L458.78,347.62 L460.24,347.52 L461.69,347.42 L463.14,347.32 L464.59,347.22 L466.05,347.12 L467.50,347.02 L468.95,346.92 L470.40,346.82 L471.86,346.72 L473.31,346.62 L474.76,346.51 L476.21,346.41 L477.67,346.30 L479.12,346.20 L480.57,346.09 L482.02,345.98 L483.48,345.88 L484.93,345.77 L486.38,345.66 L487.83,345.55 L489.29,345.43 L490.74,345.32 L492.19,345.21 L493.64,345.10 L495.10,344.98 L496.55,344.87 L498.00,344.75 L499.45,344.64 L500.90,344.52 L502.36,344.40 L503.81,344.28 L505.26,344.16 L506.72,344.04 L508.17,343.92 L509.62,343.80 L511.07,343.68 L512.52,343.56 L513.98,343.44 L515.43,343.31 L516.88,343.19 L518.34,343.06 L519.79,342.94 L521.24,342.81 L522.69,342.68 L524.14,342.56 L525.60,342.43 L527.05,342.30 L528.50,342.17 L529.96,342.04 L531.41,341.91 L532.86,341.78 L534.31,341.65 L535.76,341.51 L537.22,341.38 L538.67,341.25 L540.12,341.11 L541.58,340.98 L543.03,340.84 L544.48,340.71 L545.93,340.57 L547.38,340.43 L548.84,340.30 L550.29,340.16 L551.74,340.02 L553.19,339.88 L554.65,339.74 L556.10,339.60 L557.55,339.46 L559.00,339.32 L560.46,339.18 L561.91,339.04 L563.36,338.90 L564.82,338.75 L566.27,338.61 L567.72,338.47 L569.17,338.32 L570.62,338.18 L572.08,338.03 L573.53,337.89 L574.98,337.74 L576.43,337.60 L577.89,337.45 L579.34,337.30 L580.79,337.15 L582.25,337.01 L583.70,336.86 L585.15,336.71 L586.60,336.56 L588.06,336.41 L589.51,336.26 L590.96,336.11 L592.41,335.96 L593.87,335.81 L595.32,335.66 L596.77,335.50 L598.22,335.35 L599.67,335.20 L601.13,335.05 L602.58,334.89 L604.03,334.74 L605.49,334.59 L606.94,334.43 L608.39,334.28 L609.84,334.12 L611.29,333.97 L612.75,333.81 L614.20,333.66 L615.65,333.50 L617.11,333.35 L618.56,333.19 L620.01,333.03 L621.46,332.88 L622.91,332.72 L624.37,332.56 L625.82,332.41 L627.27,332.25 L628.73,332.09 L630.18,331.93 L631.63,331.78 L633.08,331.62 L634.53,331.46 L635.99,331.30 L637.44,331.14 L638.89,330.98 L640.35,330.82 L641.80,330.66 L643.25,330.51 L644.70,330.35 L646.15,330.19 L647.61,330.03 L649.06,329.87 L650.51,329.71 L651.96,329.55 L653.42,329.39 L654.87,329.23 L656.32,329.07 L657.77,328.91 L659.23,328.75 L660.68,328.58 L662.13,328.42 L663.59,328.26 L665.04,328.10 L666.49,327.94 L667.94,327.78 L669.39,327.62 L670.85,327.46 L672.30,327.30 L672.30,351.07 L670.85,351.16 L669.39,351.25 L667.94,351.34 L666.49,351.43 L665.04,351.52 L663.59,351.61 L662.13,351.70 L660.68,351.79 L659.23,351.88 L657.77,351.98 L656.32,352.07 L654.87,352.16 L653.42,352.25 L651.96,352.34 L650.51,352.43 L649.06,352.52 L647.61,352.61 L646.15,352.70 L644.70,352.79 L643.25,352.88 L641.80,352.96 L640.35,353.05 L638.89,353.14 L637.44,353.23 L635.99,353.32 L634.53,353.41 L633.08,353.50 L631.63,353.59 L630.18,353.67 L628.73,353.76 L627.27,353.85 L625.82,353.94 L624.37,354.02 L622.91,354.11 L621.46,354.20 L620.01,354.28 L618.56,354.37 L617.11,354.45 L615.65,354.54 L614.20,354.63 L612.75,354.71 L611.29,354.80 L609.84,354.88 L608.39,354.96 L606.94,355.05 L605.49,355.13 L604.03,355.21 L602.58,355.30 L601.13,355.38 L599.67,355.46 L598.22,355.54 L596.77,355.63 L595.32,355.71 L593.87,355.79 L592.41,355.87 L590.96,355.95 L589.51,356.03 L588.06,356.11 L586.60,356.19 L585.15,356.26 L583.70,356.34 L582.25,356.42 L580.79,356.50 L579.34,356.57 L577.89,356.65 L576.43,356.73 L574.98,356.80 L573.53,356.88 L572.08,356.95 L570.62,357.02 L569.17,357.10 L567.72,357.17 L566.27,357.25 L564.82,357.32 L563.36,357.39 L561.91,357.47 L560.46,357.54 L559.00,357.61 L557.55,357.68 L556.10,357.76 L554.65,357.83 L553.19,357.90 L551.74,357.98 L550.29,358.05 L548.84,358.12 L547.38,358.19 L545.93,358.27 L544.48,358.34 L543.03,358.41 L541.58,358.49 L540.12,358.56 L538.67,358.64 L537.22,358.71 L535.76,358.79 L534.31,358.86 L532.86,358.94 L531.41,359.01 L529.96,359.09 L528.50,359.17 L527.05,359.25 L525.60,359.32 L524.14,359.40 L522.69,359.48 L521.24,359.56 L519.79,359.64 L518.34,359.72 L516.88,359.80 L515.43,359.89 L513.98,359.97 L512.52,360.05 L511.07,360.14 L509.62,360.22 L508.17,360.31 L506.72,360.40 L505.26,360.49 L503.81,360.58 L502.36,360.67 L500.90,360.76 L499.45,360.85 L498.00,360.94 L496.55,361.04 L495.10,361.13 L493.64,361.23 L492.19,361.32 L490.74,361.42 L489.29,361.52 L487.83,361.62 L486.38,361.73 L484.93,361.83 L483.48,361.94 L482.02,362.04 L480.57,362.15 L479.12,362.26 L477.67,362.37 L476.21,362.48 L474.76,362.59 L473.31,362.70 L471.86,362.82 L470.40,362.94 L468.95,363.05 L467.50,363.17 L466.05,363.29 L464.59,363.41 L463.14,363.53 L461.69,363.66 L460.24,363.78 L458.78,363.90 L457.33,364.03 L455.88,364.16 L454.43,364.28 L452.97,364.41 L451.52,364.54 L450.07,364.67 L448.62,364.80 L447.16,364.93 L445.71,365.07 L444.26,365.20 L442.81,365.34 L441.35,365.47 L439.90,365.61 L438.45,365.74 L437.00,365.88 L435.54,366.02 L434.09,366.16 L432.64,366.30 L431.19,366.44 L429.73,366.58 L428.28,366.72 L426.83,366.86 L425.38,367.01 L423.92,367.15 L422.47,367.29 L421.02,367.44 L419.56,367.58 L418.11,367.73 L416.66,367.87 L415.21,368.02 L413.75,368.17 L412.30,368.31 L410.85,368.46 L409.40,368.61 L407.94,368.76 L406.49,368.91 L405.04,369.05 L403.59,369.20 L402.13,369.35 L400.68,369.50 L399.23,369.65 L397.78,369.80 L396.32,369.95 L394.87,370.10 L393.42,370.25 L391.97,370.41 L390.51,370.56 L389.06,370.71 L387.61,370.86 L386.16,371.01 L384.70,371.16 L383.25,371.31 L381.80,371.46 Z" fill="rgb(255,140,0)" fill-opacity="0.2" stroke="none"/>
<path d="M381.80,361.83 L383.25,361.71 L384.70,361.60 L386.16,361.48 L387.61,361.36 L389.06,361.25 L390.51,361.13 L391.97,361.01 L393.42,360.90 L394.87,360.78 L396.32,360.67 L397.78,360.55 L399.23,360.43 L400.68,360.32 L402.13,360.20 L403.59,360.09 L405.04,359.97 L406.49,359.85 L407.94,359.74 L409.40,359.62 L410.85,359.51 L412.30,359.39 L413.75,359.28 L415.21,359.16 L416.66,359.05 L418.11,358.93 L419.56,358.82 L421.02,358.70 L422.47,358.59 L423.92,358.47 L425.38,358.36 L426.83,358.24 L428.28,358.13 L429.73,358.01 L431.19,357.90 L432.64,357.79 L434.09,357.67 L435.54,357.56 L437.00,357.44 L438.45,357.33 L439.90,357.22 L441.35,357.10 L442.81,356.99 L444.26,356.88 L445.71,356.77 L447.16,356.65 L448.62,356.54 L450.07,356.43 L451.52,356.32 L452.97,356.20 L454.43,356.09 L455.88,355.98 L457.33,355.87 L458.78,355.76 L460.24,355.65 L461.69,355.54 L463.14,355.43 L464.59,355.32 L466.05,355.21 L467.50,355.10 L468.95,354.99 L470.40,354.88 L471.86,354.77 L473.31,354.66 L474.76,354.55 L476.21,354.44 L477.67,354.34 L479.12,354.23 L480.57,354.12 L482.02,354.01 L483.48,353.91 L484.93,353.80 L486.38,353.69 L487.83,353.59 L489.29,353.48 L490.74,353.37 L492.19,353.27 L493.64,353.16 L495.10,353.06 L496.55,352.95 L498.00,352.85 L499.45,352.74 L500.90,352.64 L502.36,352.53 L503.81,352.43 L505.26,352.33 L506.72,352.22 L508.17,352.12 L509.62,352.01 L511.07,351.91 L512.52,351.81 L513.98,351.70 L515.43,351.60 L516.88,351.50 L518.34,351.39 L519.79,351.29 L521.24,351.19 L522.69,351.08 L524.14,350.98 L525.60,350.88 L527.05,350.77 L528.50,350.67 L529.96,350.56 L531.41,350.46 L532.86,350.36 L534.31,350.25 L535.76,350.15 L537.22,350.05 L538.67,349.94 L540.12,349.84 L541.58,349.73 L543.03,349.63 L544.48,349.52 L545.93,349.42 L547.38,349.31 L548.84,349.21 L550.29,349.10 L551.74,349.00 L553.19,348.89 L554.65,348.79 L556.10,348.68 L557.55,348.57 L559.00,348.47 L560.46,348.36 L561.91,348.25 L563.36,348.14 L564.82,348.04 L566.27,347.93 L567.72,347.82 L569.17,347.71 L570.62,347.60 L572.08,347.49 L573.53,347.38 L574.98,347.27 L576.43,347.16 L577.89,347.05 L579.34,346.94 L580.79,346.83 L582.25,346.71 L583.70,346.60 L585.15,346.49 L586.60,346.37 L588.06,346.26 L589.51,346.14 L590.96,346.03 L592.41,345.91 L593.87,345.80 L595.32,345.68 L596.77,345.57 L598.22,345.45 L599.67,345.33 L601.13,345.21 L602.58,345.10 L604.03,344.98 L605.49,344.86 L606.94,344.74 L608.39,344.62 L609.84,344.50 L611.29,344.38 L612.75,344.26 L614.20,344.14 L615.65,344.02 L617.11,343.90 L618.56,343.78 L620.01,343.66 L621.46,343.54 L622.91,343.42 L624.37,343.29 L625.82,343.17 L627.27,343.05 L628.73,342.93 L630.18,342.80 L631.63,342.68 L633.08,342.56 L634.53,342.43 L635.99,342.31 L637.44,342.19 L638.89,342.06 L640.35,341.94 L641.80,341.81 L643.25,341.69 L644.70,341.57 L646.15,341.44 L647.61,341.32 L649.06,341.19 L650.51,341.07 L651.96,340.94 L653.42,340.82 L654.87,340.69 L656.32,340.57 L657.77,340.44 L659.23,340.31 L660.68,340.19 L662.13,340.06 L663.59,339.94 L665.04,339.81 L666.49,339.69 L667.94,339.56 L669.39,339.44 L670.85,339.31 L672.30,339.18" fill="none" stroke="#ff8c00" stroke-width="1.4" stroke-linejoin="round"/>
<path d="M381.80,360.22 L383.25,360.17 L384.70,360.12 L386.16,360.07 L387.61,360.02 L389.06,359.97 L390.51,359.93 L391.97,359.88 L393.42,359.83 L394.87,359.78 L396.32,359.73 L397.78,359.68 L399.23,359.63 L400.68,359.58 L402.13,359.53 L403.59,359.48 L405.04,359.43 L406.49,359.38 L407.94,359.32 L409.40,359.27 L410.85,359.22 L412.30,359.17 L413.75,359.12 L415.21,359.07 L416.66,359.02 L418.11,358.97 L419.56,358.91 L421.02,358.86 L422.47,358.81 L423.92,358.76 L425.38,358.70 L426.83,358.65 L428.28,358.60 L429.73,358.54 L431.19,358.49 L432.64,358.43 L434.09,358.38 L435.54,358.32 L437.00,358.27 L438.45,358.21 L439.90,358.16 L441.35,358.10 L442.81,358.05 L444.26,357.99 L445.71,357.93 L447.16,357.87 L448.62,357.82 L450.07,357.76 L451.52,357.70 L452.97,357.64 L454.43,357.58 L455.88,357.52 L457.33,357.46 L458.78,357.40 L460.24,357.34 L461.69,357.28 L463.14,357.22 L464.59,357.15 L466.05,357.09 L467.50,357.03 L468.95,356.97 L470.40,356.90 L471.86,356.84 L473.31,356.77 L474.76,356.71 L476.21,356.64 L477.67,356.57 L479.12,356.51 L480.57,356.44 L482.02,356.37 L483.48,356.30 L484.93,356.23 L486.38,356.16 L487.83,356.09 L489.29,356.02 L490.74,355.95 L492.19,355.87 L493.64,355.80 L495.10,355.73 L496.55,355.65 L498.00,355.58 L499.45,355.50 L500.90,355.43 L502.36,355.35 L503.81,355.28 L505.26,355.20 L506.72,355.12 L508.17,355.04 L509.62,354.96 L511.07,354.89 L512.52,354.81 L513.98,354.73 L515.43,354.64 L516.88,354.56 L518.34,354.48 L519.79,354.40 L521.24,354.32 L522.69,354.23 L524.14,354.15 L525.60,354.07 L527.05,353.98 L528.50,353.90 L529.96,353.81 L531.41,353.72 L532.86,353.64 L534.31,353.55 L535.76,353.46 L537.22,353.38 L538.67,353.29 L540.12,353.20 L541.58,353.11 L543.03,353.02 L544.48,352.93 L545.93,352.84 L547.38,352.75 L548.84,352.66 L550.29,352.57 L551.74,352.48 L553.19,352.39 L554.65,352.30 L556.10,352.21 L557.55,352.11 L559.00,352.02 L560.46,351.93 L561.91,351.83 L563.36,351.74 L564.82,351.65 L566.27,351.55 L567.72,351.46 L569.17,351.37 L570.62,351.27 L572.08,351.18 L573.53,351.08 L574.98,350.99 L576.43,350.89 L577.89,350.80 L579.34,350.70 L580.79,350.61 L582.25,350.51 L583.70,350.42 L585.15,350.32 L586.60,350.23 L588.06,350.13 L589.51,350.04 L590.96,349.94 L592.41,349.84 L593.87,349.75 L595.32,349.65 L596.77,349.56 L598.22,349.46 L599.67,349.36 L601.13,349.27 L602.58,349.17 L604.03,349.08 L605.49,348.98 L606.94,348.88 L608.39,348.79 L609.84,348.69 L611.29,348.59 L612.75,348.49 L614.20,348.40 L615.65,348.30 L617.11,348.20 L618.56,348.11 L620.01,348.01 L621.46,347.91 L622.91,347.81 L624.37,347.72 L625.82,347.62 L627.27,347.52 L628.73,347.42 L630.18,347.33 L631.63,347.23 L633.08,347.13 L634.53,347.03 L635.99,346.94 L637.44,346.84 L638.89,346.74 L640.35,346.64 L641.80,346.54 L643.25,346.45 L644.70,346.35 L646.15,346.25 L647.61,346.15 L649.06,346.05 L650.51,345.96 L651.96,345.86 L653.42,345.76 L654.87,345.66 L656.32,345.56 L657.77,345.47 L659.23,345.37 L660.68,345.27 L662.13,345.17 L663.59,345.07 L665.04,344.97 L666.49,344.88 L667.94,344.78 L669.39,344.68 L670.85,344.58 L672.30,344.48 L672.30,364.72 L670.85,364.77 L669.39,364.81 L667.94,364.86 L666.49,364.90 L665.04,364.95 L663.59,365.00 L662.13,365.04 L660.68,365.09 L659.23,365.13 L657.77,365.18 L656.32,365.23 L654.87,365.27 L653.42,365.32 L651.96,365.37 L650.51,365.41 L649.06,365.46 L647.61,365.51 L646.15,365.55 L644.70,365.60 L643.25,365.65 L641.80,365.69 L640.35,365.74 L638.89,365.79 L637.44,365.84 L635.99,365.88 L634.53,365.93 L633.08,365.98 L631.63,366.03 L630.18,366.07 L628.73,366.12 L627.27,366.17 L625.82,366.22 L624.37,366.27 L622.91,366.32 L621.46,366.37 L620.01,366.41 L618.56,366.46 L617.11,366.51 L615.65,366.56 L614.20,366.61 L612.75,366.66 L611.29,366.71 L609.84,366.76 L608.39,366.81 L606.94,366.86 L605.49,366.91 L604.03,366.97 L602.58,367.02 L601.13,367.07 L599.67,367.12 L598.22,367.17 L596.77,367.23 L595.32,367.28 L593.87,367.33 L592.41,367.38 L590.96,367.44 L589.51,367.49 L588.06,367.54 L586.60,367.60 L585.15,367.65 L583.70,367.71 L582.25,367.76 L580.79,367.82 L579.34,367.87 L577.89,367.93 L576.43,367.99 L574.98,368.04 L573.53,368.10 L572.08,368.16 L570.62,368.21 L569.17,368.27 L567.72,368.33 L566.27,368.39 L564.82,368.44 L563.36,368.50 L561.91,368.56 L560.46,368.62 L559.00,368.68 L557.55,368.74 L556.10,368.80 L554.65,368.86 L553.19,368.92 L551.74,368.98 L550.29,369.04 L548.84,369.10 L547.38,369.16 L545.93,369.22 L544.48,369.29 L543.03,369.35 L541.58,369.41 L540.12,369.47 L538.67,369.53 L537.22,369.60 L535.76,369.66 L534.31,369.72 L532.86,369.79 L531.41,369.85 L529.96,369.91 L528.50,369.98 L527.05,370.04 L525.60,370.11 L524.14,370.17 L522.69,370.23 L521.24,370.30 L519.79,370.36 L518.34,370.43 L516.88,370.49 L515.43,370.56 L513.98,370.62 L512.52,370.69 L511.07,370.75 L509.62,370.82 L508.17,370.88 L506.72,370.95 L505.26,371.01 L503.81,371.08 L502.36,371.14 L500.90,371.21 L499.45,371.27 L498.00,371.34 L496.55,371.40 L495.10,371.47 L493.64,371.53 L492.19,371.60 L490.74,371.66 L489.29,371.73 L487.83,371.79 L486.38,371.86 L484.93,371.92 L483.48,371.99 L482.02,372.05 L480.57,372.12 L479.12,372.18 L477.67,372.24 L476.21,372.31 L474.76,372.37 L473.31,372.43 L471.86,372.50 L470.40,372.56 L468.95,372.62 L467.50,372.69 L466.05,372.75 L464.59,372.81 L463.14,372.88 L461.69,372.94 L460.24,373.00 L458.78,373.06 L457.33,373.13 L455.88,373.19 L454.43,373.25 L452.97,373.31 L451.52,373.37 L450.07,373.44 L448.62,373.50 L447.16,373.56 L445.71,373.62 L444.26,373.68 L442.81,373.74 L441.35,373.81 L439.90,373.87 L438.45,373.93 L437.00,373.99 L435.54,374.05 L434.09,374.11 L432.64,374.17 L431.19,374.23 L429.73,374.30 L428.28,374.36 L426.83,374.42 L425.38,374.48 L423.92,374.54 L422.47,374.60 L421.02,374.66 L419.56,374.72 L418.11,374.78 L416.66,374.84 L415.21,374.90 L413.75,374.96 L412.30,375.02 L410.85,375.08 L409.40,375.14 L407.94,375.20 L406.49,375.26 L405.04,375.32 L403.59,375.38 L402.13,375.44 L400.68,375.50 L399.23,375.56 L397.78,375.62 L396.32,375.68 L394.87,375.74 L393.42,375.80 L391.97,375.86 L390.51,375.92 L389.06,375.98 L387.61,376.04 L386.16,376.10 L384.70,376.16 L383.25,376.22 L381.80,376.28 Z" fill="rgb(0,255,255)" fill-opacity="0.2" stroke="none"/>
<path d="M381.80,368.25 L383.25,368.20 L384.70,368.14 L386.16,368.09 L387.61,368.03 L389.06,367.98 L390.51,367.92 L391.97,367.87 L393.42,367.81 L394.87,367.76 L396.32,367.70 L397.78,367.65 L399.23,367.59 L400.68,367.54 L402.13,367.48 L403.59,367.43 L405.04,367.37 L406.49,367.32 L407.94,367.26 L409.40,367.21 L410.85,367.15 L412.30,367.10 L413.75,367.04 L415.21,366.98 L416.66,366.93 L418.11,366.87 L419.56,366.82 L421.02,366.76 L422.47,366.70 L423.92,366.65 L425.38,366.59 L426.83,366.53 L428.28,366.48 L429.73,366.42 L431.19,366.36 L432.64,366.30 L434.09,366.25 L435.54,366.19 L437.00,366.13 L438.45,366.07 L439.90,366.01 L441.35,365.95 L442.81,365.90 L444.26,365.84 L445.71,365.78 L447.16,365.72 L448.62,365.66 L450.07,365.60 L451.52,365.54 L452.97,365.48 L454.43,365.42 L455.88,365.36 L457.33,365.29 L458.78,365.23 L460.24,365.17 L461.69,365.11 L463.14,365.05 L464.59,364.98 L466.05,364.92 L467.50,364.86 L468.95,364.79 L470.40,364.73 L471.86,364.67 L473.31,364.60 L474.76,364.54 L476.21,364.47 L477.67,364.41 L479.12,364.34 L480.57,364.28 L482.02,364.21 L483.48,364.14 L484.93,364.08 L486.38,364.01 L487.83,363.94 L489.29,363.87 L490.74,363.81 L492.19,363.74 L493.64,363.67 L495.10,363.60 L496.55,363.53 L498.00,363.46 L499.45,363.39 L500.90,363.32 L502.36,363.25 L503.81,363.18 L505.26,363.11 L506.72,363.03 L508.17,362.96 L509.62,362.89 L511.07,362.82 L512.52,362.75 L513.98,362.67 L515.43,362.60 L516.88,362.53 L518.34,362.45 L519.79,362.38 L521.24,362.31 L522.69,362.23 L524.14,362.16 L525.60,362.09 L527.05,362.01 L528.50,361.94 L529.96,361.86 L531.41,361.79 L532.86,361.71 L534.31,361.64 L535.76,361.56 L537.22,361.49 L538.67,361.41 L540.12,361.34 L541.58,361.26 L543.03,361.19 L544.48,361.11 L545.93,361.03 L547.38,360.96 L548.84,360.88 L550.29,360.81 L551.74,360.73 L553.19,360.65 L554.65,360.58 L556.10,360.50 L557.55,360.43 L559.00,360.35 L560.46,360.27 L561.91,360.20 L563.36,360.12 L564.82,360.05 L566.27,359.97 L567.72,359.89 L569.17,359.82 L570.62,359.74 L572.08,359.67 L573.53,359.59 L574.98,359.52 L576.43,359.44 L577.89,359.36 L579.34,359.29 L580.79,359.21 L582.25,359.14 L583.70,359.06 L585.15,358.99 L586.60,358.91 L588.06,358.84 L589.51,358.76 L590.96,358.69 L592.41,358.61 L593.87,358.54 L595.32,358.47 L596.77,358.39 L598.22,358.32 L599.67,358.24 L601.13,358.17 L602.58,358.09 L604.03,358.02 L605.49,357.95 L606.94,357.87 L608.39,357.80 L609.84,357.73 L611.29,357.65 L612.75,357.58 L614.20,357.50 L615.65,357.43 L617.11,357.36 L618.56,357.28 L620.01,357.21 L621.46,357.14 L622.91,357.07 L624.37,356.99 L625.82,356.92 L627.27,356.85 L628.73,356.77 L630.18,356.70 L631.63,356.63 L633.08,356.56 L634.53,356.48 L635.99,356.41 L637.44,356.34 L638.89,356.26 L640.35,356.19 L641.80,356.12 L643.25,356.05 L644.70,355.97 L646.15,355.90 L647.61,355.83 L649.06,355.76 L650.51,355.68 L651.96,355.61 L653.42,355.54 L654.87,355.47 L656.32,355.40 L657.77,355.32 L659.23,355.25 L660.68,355.18 L662.13,355.11 L663.59,355.03 L665.04,354.96 L666.49,354.89 L667.94,354.82 L669.39,354.75 L670.85,354.67 L672.30,354.60" fill="none" stroke="#00ffff" stroke-width="1.4" stroke-linejoin="round"/>
<path d="M381.80,366.65 L383.25,366.60 L384.70,366.56 L386.16,366.52 L387.61,366.48 L389.06,366.43 L390.51,366.39 L391.97,366.35 L393.42,366.31 L394.87,366.26 L396.32,366.22 L397.78,366.18 L399.23,366.14 L400.68,366.10 L402.13,366.06 L403.59,366.01 L405.04,365.97 L406.49,365.93 L407.94,365.89 L409.40,365.85 L410.85,365.81 L412.30,365.77 L413.75,365.73 L415.21,365.69 L416.66,365.65 L418.11,365.61 L419.56,365.57 L421.02,365.53 L422.47,365.49 L423.92,365.45 L425.38,365.42 L426.83,365.38 L428.28,365.34 L429.73,365.30 L431.19,365.27 L432.64,365.23 L434.09,365.19 L435.54,365.16 L437.00,365.12 L438.45,365.09 L439.90,365.05 L441.35,365.02 L442.81,364.99 L444.26,364.95 L445.71,364.92 L447.16,364.89 L448.62,364.86 L450.07,364.83 L451.52,364.80 L452.97,364.76 L454.43,364.74 L455.88,364.71 L457.33,364.68 L458.78,364.65 L460.24,364.62 L461.69,364.59 L463.14,364.57 L464.59,364.54 L466.05,364.52 L467.50,364.49 L468.95,364.47 L470.40,364.44 L471.86,364.42 L473.31,364.40 L474.76,364.38 L476.21,364.36 L477.67,364.34 L479.12,364.32 L480.57,364.30 L482.02,364.28 L483.48,364.26 L484.93,364.25 L486.38,364.23 L487.83,364.21 L489.29,364.20 L490.74,364.19 L492.19,364.17 L493.64,364.16 L495.10,364.15 L496.55,364.14 L498.00,364.12 L499.45,364.11 L500.90,364.10 L502.36,364.09 L503.81,364.08 L505.26,364.08 L506.72,364.07 L508.17,364.06 L509.62,364.05 L511.07,364.04 L512.52,364.03 L513.98,364.03 L515.43,364.02 L516.88,364.01 L518.34,364.00 L519.79,364.00 L521.24,363.99 L522.69,363.98 L524.14,363.98 L525.60,363.97 L527.05,363.96 L528.50,363.96 L529.96,363.95 L531.41,363.94 L532.86,363.93 L534.31,363.93 L535.76,363.92 L537.22,363.91 L538.67,363.90 L540.12,363.89 L541.58,363.88 L543.03,363.87 L544.48,363.86 L545.93,363.85 L547.38,363.84 L548.84,363.83 L550.29,363.82 L551.74,363.81 L553.19,363.80 L554.65,363.78 L556.10,363.77 L557.55,363.75 L559.00,363.74 L560.46,363.72 L561.91,363.71 L563.36,363.69 L564.82,363.67 L566.27,363.65 L567.72,363.63 L569.17,363.61 L570.62,363.59 L572.08,363.57 L573.53,363.55 L574.98,363.52 L576.43,363.50 L577.89,363.47 L579.34,363.44 L580.79,363.42 L582.25,363.39 L583.70,363.36 L585.15,363.33 L586.60,363.29 L588.06,363.26 L589.51,363.23 L590.96,363.19 L592.41,363.15 L593.87,363.12 L595.32,363.08 L596.77,363.04 L598.22,363.00 L599.67,362.96 L601.13,362.92 L602.58,362.88 L604.03,362.83 L605.49,362.79 L606.94,362.75 L608.39,362.70 L609.84,362.66 L611.29,362.61 L612.75,362.56 L614.20,362.51 L615.65,362.46 L617.11,362.42 L618.56,362.37 L620.01,362.31 L621.46,362.26 L622.91,362.21 L624.37,362.16 L625.82,362.11 L627.27,362.05 L628.73,362.00 L630.18,361.94 L631.63,361.89 L633.08,361.83 L634.53,361.78 L635.99,361.72 L637.44,361.66 L638.89,361.61 L640.35,361.55 L641.80,361.49 L643.25,361.43 L644.70,361.38 L646.15,361.32 L647.61,361.26 L649.06,361.20 L650.51,361.14 L651.96,361.08 L653.42,361.02 L654.87,360.96 L656.32,360.90 L657.77,360.84 L659.23,360.78 L660.68,360.71 L662.13,360.65 L663.59,360.59 L665.04,360.53 L666.49,360.47 L667.94,360.41 L669.39,360.35 L670.85,360.28 L672.30,360.22 L672.30,378.21 L670.85,378.21 L669.39,378.22 L667.94,378.22 L666.49,378.23 L665.04,378.23 L663.59,378.24 L662.13,378.24 L660.68,378.25 L659.23,378.25 L657.77,378.25 L656.32,378.26 L654.87,378.26 L653.42,378.27 L651.96,378.27 L650.51,378.28 L649.06,378.29 L647.61,378.29 L646.15,378.30 L644.70,378.30 L643.25,378.31 L641.80,378.31 L640.35,378.32 L638.89,378.33 L637.44,378.33 L635.99,378.34 L634.53,378.35 L633.08,378.36 L631.63,378.36 L630.18,378.37 L628.73,378.38 L627.27,378.39 L625.82,378.40 L624.37,378.41 L622.91,378.41 L621.46,378.42 L620.01,378.43 L618.56,378.44 L617.11,378.45 L615.65,378.46 L614.20,378.48 L612.75,378.49 L611.29,378.50 L609.84,378.51 L608.39,378.52 L606.94,378.54 L605.49,378.55 L604.03,378.56 L602.58,378.58 L601.13,378.59 L599.67,378.61 L598.22,378.62 L596.77,378.64 L595.32,378.65 L593.87,378.67 L592.41,378.69 L590.96,378.70 L589.51,378.72 L588.06,378.74 L586.60,378.76 L585.15,378.78 L583.70,378.80 L582.25,378.82 L580.79,378.84 L579.34,378.86 L577.89,378.88 L576.43,378.91 L574.98,378.93 L573.53,378.95 L572.08,378.98 L570.62,379.00 L569.17,379.03 L567.72,379.05 L566.27,379.08 L564.82,379.11 L563.36,379.13 L561.91,379.16 L560.46,379.19 L559.00,379.22 L557.55,379.24 L556.10,379.27 L554.65,379.30 L553.19,379.33 L551.74,379.36 L550.29,379.39 L548.84,379.42 L547.38,379.45 L545.93,379.49 L544.48,379.52 L543.03,379.55 L541.58,379.58 L540.12,379.61 L538.67,379.65 L537.22,379.68 L535.76,379.71 L534.31,379.75 L532.86,379.78 L531.41,379.81 L529.96,379.85 L528.50,379.88 L527.05,379.92 L525.60,379.95 L524.14,379.98 L522.69,380.02 L521.24,380.05 L519.79,380.09 L518.34,380.12 L516.88,380.16 L515.43,380.19 L513.98,380.23 L512.52,380.26 L511.07,380.30 L509.62,380.34 L508.17,380.37 L506.72,380.41 L505.26,380.44 L503.81,380.48 L502.36,380.51 L500.90,380.55 L499.45,380.58 L498.00,380.62 L496.55,380.65 L495.10,380.69 L493.64,380.72 L492.19,380.76 L490.74,380.79 L489.29,380.83 L487.83,380.86 L486.38,380.90 L484.93,380.93 L483.48,380.96 L482.02,381.00 L480.57,381.03 L479.12,381.07 L477.67,381.10 L476.21,381.13 L474.76,381.17 L473.31,381.20 L471.86,381.23 L470.40,381.26 L468.95,381.30 L467.50,381.33 L466.05,381.36 L464.59,381.39 L463.14,381.42 L461.69,381.45 L460.24,381.49 L458.78,381.52 L457.33,381.55 L455.88,381.58 L454.43,381.61 L452.97,381.64 L451.52,381.67 L450.07,381.70 L448.62,381.73 L447.16,381.76 L445.71,381.79 L444.26,381.82 L442.81,381.85 L441.35,381.88 L439.90,381.91 L438.45,381.94 L437.00,381.97 L435.54,382.00 L434.09,382.03 L432.64,382.05 L431.19,382.08 L429.73,382.11 L428.28,382.14 L426.83,382.17 L425.38,382.20 L423.92,382.23 L422.47,382.26 L421.02,382.28 L419.56,382.31 L418.11,382.34 L416.66,382.37 L415.21,382.40 L413.75,382.42 L412.30,382.45 L410.85,382.48 L409.40,382.51 L407.94,382.53 L406.49,382.56 L405.04,382.59 L403.59,382.62 L402.13,382.64 L400.68,382.67 L399.23,382.70 L397.78,382.73 L396.32,382.75 L394.87,382.78 L393.42,382.81 L391.97,382.84 L390.51,382.86 L389.06,382.89 L387.61,382.92 L386.16,382.95 L384.70,382.97 L383.25,383.00 L381.80,383.03 Z" fill="rgb(0,0,255)" fill-opacity="0.2" stroke="none"/>
<path d="M381.80,374.84 L383.25,374.80 L384.70,374.77 L386.16,374.73 L387.61,374.70 L389.06,374.66 L390.51,374.63 L391.97,374.59 L393.42,374.56 L394.87,374.52 L396.32,374.49 L397.78,374.45 L399.23,374.42 L400.68,374.38 L402.13,374.35 L403.59,374.32 L405.04,374.28 L406.49,374.25 L407.94,374.21 L409.40,374.18 L410.85,374.14 L412.30,374.11 L413.75,374.08 L415.21,374.04 L416.66,374.01 L418.11,373.97 L419.56,373.94 L421.02,373.91 L422.47,373.87 L423.92,373.84 L425.38,373.81 L426.83,373.77 L428.28,373.74 L429.73,373.71 L431.19,373.68 L432.64,373.64 L434.09,373.61 L435.54,373.58 L437.00,373.55 L438.45,373.51 L439.90,373.48 L441.35,373.45 L442.81,373.42 L444.26,373.39 L445.71,373.36 L447.16,373.32 L448.62,373.29 L450.07,373.26 L451.52,373.23 L452.97,373.20 L454.43,373.17 L455.88,373.14 L457.33,373.11 L458.78,373.08 L460.24,373.05 L461.69,373.02 L463.14,373.00 L464.59,372.97 L466.05,372.94 L467.50,372.91 L468.95,372.88 L470.40,372.85 L471.86,372.83 L473.31,372.80 L474.76,372.77 L476.21,372.74 L477.67,372.72 L479.12,372.69 L480.57,372.67 L482.02,372.64 L483.48,372.61 L484.93,372.59 L486.38,372.56 L487.83,372.54 L489.29,372.51 L490.74,372.49 L492.19,372.47 L493.64,372.44 L495.10,372.42 L496.55,372.39 L498.00,372.37 L499.45,372.35 L500.90,372.33 L502.36,372.30 L503.81,372.28 L505.26,372.26 L506.72,372.24 L508.17,372.21 L509.62,372.19 L511.07,372.17 L512.52,372.15 L513.98,372.13 L515.43,372.11 L516.88,372.09 L518.34,372.06 L519.79,372.04 L521.24,372.02 L522.69,372.00 L524.14,371.98 L525.60,371.96 L527.05,371.94 L528.50,371.92 L529.96,371.90 L531.41,371.88 L532.86,371.86 L534.31,371.84 L535.76,371.81 L537.22,371.79 L538.67,371.77 L540.12,371.75 L541.58,371.73 L543.03,371.71 L544.48,371.69 L545.93,371.67 L547.38,371.65 L548.84,371.63 L550.29,371.61 L551.74,371.58 L553.19,371.56 L554.65,371.54 L556.10,371.52 L557.55,371.50 L559.00,371.48 L560.46,371.46 L561.91,371.43 L563.36,371.41 L564.82,371.39 L566.27,371.37 L567.72,371.34 L569.17,371.32 L570.62,371.30 L572.08,371.27 L573.53,371.25 L574.98,371.23 L576.43,371.20 L577.89,371.18 L579.34,371.15 L580.79,371.13 L582.25,371.10 L583.70,371.08 L585.15,371.05 L586.60,371.03 L588.06,371.00 L589.51,370.97 L590.96,370.95 L592.41,370.92 L593.87,370.89 L595.32,370.87 L596.77,370.84 L598.22,370.81 L599.67,370.78 L601.13,370.76 L602.58,370.73 L604.03,370.70 L605.49,370.67 L606.94,370.64 L608.39,370.61 L609.84,370.58 L611.29,370.55 L612.75,370.52 L614.20,370.49 L615.65,370.46 L617.11,370.43 L618.56,370.40 L620.01,370.37 L621.46,370.34 L622.91,370.31 L624.37,370.28 L625.82,370.25 L627.27,370.22 L628.73,370.19 L630.18,370.16 L631.63,370.13 L633.08,370.09 L634.53,370.06 L635.99,370.03 L637.44,370.00 L638.89,369.97 L640.35,369.94 L641.80,369.90 L643.25,369.87 L644.70,369.84 L646.15,369.81 L647.61,369.77 L649.06,369.74 L650.51,369.71 L651.96,369.68 L653.42,369.64 L654.87,369.61 L656.32,369.58 L657.77,369.55 L659.23,369.51 L660.68,369.48 L662.13,369.45 L663.59,369.41 L665.04,369.38 L666.49,369.35 L667.94,369.31 L669.39,369.28 L670.85,369.25 L672.30,369.22" fill="none" stroke="#0000ff" stroke-width="1.4" stroke-linejoin="round"/>
<rect x="370.2" y="218.2" width="313.80" height="208.00" fill="none" stroke="#1a1a1a" stroke-width="1.75" stroke-linejoin="round"/>
<line x1="381.80" y1="426.20" x2="381.80" y2="430.8" stroke="#111" stroke-width="1.3"/>
<text x="381.80" y="441.2" font-size="9.6" text-anchor="middle" fill="#111">0</text>
<line x1="439.90" y1="426.20" x2="439.90" y2="430.8" stroke="#111" stroke-width="1.3"/>
<text x="439.90" y="441.2" font-size="9.6" text-anchor="middle" fill="#111">20</text>
<line x1="498.00" y1="426.20" x2="498.00" y2="430.8" stroke="#111" stroke-width="1.3"/>
<text x="498.00" y="441.2" font-size="9.6" text-anchor="middle" fill="#111">40</text>
<line x1="556.10" y1="426.20" x2="556.10" y2="430.8" stroke="#111" stroke-width="1.3"/>
<text x="556.10" y="441.2" font-size="9.6" text-anchor="middle" fill="#111">60</text>
<line x1="614.20" y1="426.20" x2="614.20" y2="430.8" stroke="#111" stroke-width="1.3"/>
<text x="614.20" y="441.2" font-size="9.6" text-anchor="middle" fill="#111">80</text>
<line x1="672.30" y1="426.20" x2="672.30" y2="430.8" stroke="#111" stroke-width="1.3"/>
<text x="672.30" y="441.2" font-size="9.6" text-anchor="middle" fill="#111">100</text>
<text x="50.05" y="14.70" font-size="12.8" fill="#111">a - 1 km</text>
<text x="375.15" y="14.70" font-size="12.8" fill="#111">b - 10 km</text>
<text x="50.05" y="233.00" font-size="12.8" fill="#111">c - 100 km</text>
<text x="375.15" y="233.00" font-size="12.8" fill="#111">d - Full</text>
<text x="49.3" y="37.0" font-size="11.25" fill="#111">Initial EQR</text>
<line x1="50.3" y1="46.50" x2="67.2" y2="46.50" stroke="#ff0000" stroke-width="1.6"/>
<text x="70.3" y="50.40" font-size="10.9" fill="#111">0.2</text>
<line x1="50.3" y1="59.05" x2="67.2" y2="59.05" stroke="#ff8c00" stroke-width="1.6"/>
<text x="70.3" y="62.95" font-size="10.9" fill="#111">0.4</text>
<line x1="50.3" y1="71.60" x2="67.2" y2="71.60" stroke="#00ffff" stroke-width="1.6"/>
<text x="70.3" y="75.50" font-size="10.9" fill="#111">0.6</text>
<line x1="50.3" y1="84.15" x2="67.2" y2="84.15" stroke="#0000ff" stroke-width="1.6"/>
<text x="70.3" y="88.05" font-size="10.9" fill="#111">0.8</text>
<text x="364.2" y="459.0" font-size="12.8" text-anchor="middle" fill="#111">Upstream protected area (%)</text>
<text transform="translate(11.3,213) rotate(-90)" x="0" y="0" font-size="12.8" text-anchor="middle" fill="#111">Rate of richness change (% year<tspan font-size="8.2" dy="-5.3">-1</tspan><tspan dy="5.3">)</tspan></text>
</svg></body></html>
